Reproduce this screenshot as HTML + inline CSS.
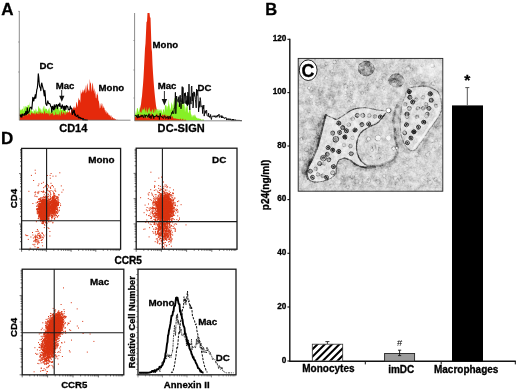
<!DOCTYPE html>
<html><head><meta charset="utf-8"><title>Figure</title>
<style>html,body{margin:0;padding:0;background:#fff}svg{display:block;filter:blur(0.4px)}</style></head>
<body>
<svg width="520" height="389" viewBox="0 0 520 389" font-family="'Liberation Sans', sans-serif" fill="#000">
<rect width="520" height="389" fill="#fff"/>
<text x="1.2" y="15" font-size="17" font-weight="bold" text-anchor="start" stroke="#000" stroke-width="0.3" >A</text>
<text x="265.2" y="15.4" font-size="16.5" font-weight="bold" text-anchor="start" stroke="#000" stroke-width="0.3" >B</text>
<text x="1" y="143.6" font-size="17" font-weight="bold" text-anchor="start" stroke="#000" stroke-width="0.3" >D</text>
<path d="M19.8 120L19.8 106.7L20.3 110.8L20.8 109.8L21.3 109.3L21.8 110.5L22.3 108.5L22.8 109L23.3 111.6L23.8 105.7L24.3 106.6L24.8 109L25.3 107.1L25.8 105.8L26.3 107L26.8 106.3L27.3 108.8L27.8 104.8L28.3 105.6L28.8 104.5L29.3 108.8L29.8 101.8L30.3 109.8L30.8 111.1L31.3 106.9L31.8 110.9L32.3 111.8L32.8 110.9L33.3 113.6L33.8 108.8L34.3 110.5L34.8 111L35.3 107.9L35.8 112L36.3 108.5L36.8 112.4L37.3 110.7L37.8 111.9L38.3 106.8L38.8 105.9L39.3 109.2L39.8 107.3L40.3 110.4L40.8 108L41.3 109.8L41.8 112.1L42.3 112.6L42.8 108.4L43.3 105.6L43.8 108.4L44.3 110.1L44.8 105.2L45.3 108.5L45.8 109.4L46.3 108.4L46.8 108.9L47.3 110L47.8 111.8L48.3 109.4L48.8 108.8L49.3 107.2L49.8 110.7L50.3 113.2L50.8 109.2L51.3 105.5L51.8 109.5L52.3 110.1L52.8 111.4L53.3 111.2L53.8 108.7L54.3 110.5L54.8 105.8L55.3 108.3L55.8 108.7L56.3 105.9L56.8 105.1L57.3 107.9L57.8 107.8L58.3 106.2L58.8 109.1L59.3 111.6L59.8 107.5L60.3 107.8L60.8 107.9L61.3 110.1L61.8 109.5L62.3 110.3L62.8 109.2L63.3 108.1L63.8 108.1L64.3 109.3L64.8 110.1L65.3 108.9L65.8 110.8L66.3 111.7L66.8 112.7L67.3 110.5L67.8 109.7L68.3 111.9L68.8 113.1L69.3 113.5L69.8 114.4L70.3 114.1L70.8 114.6L71.3 115.7L71.8 114.8L72.3 116.7L72.8 114.4L73.3 115.8L73.8 115.8L74.3 117.3L74.8 117.3L75.3 117.8L75.8 118.2L76.3 117.9L76.8 119.5L77.3 118.5L77.8 119.6L78.3 119.2L78.8 119.4L79.3 118.4L79.8 120L80.3 120L80.8 119.7L81.3 119.8L81.8 119.8L82.3 119.9L82.8 119.9L83.3 119.9L83.8 119.9L84.3 120L84.8 120L85.3 120L85.8 120L86.3 120L86.8 120L87.3 120L87.8 120L88.3 120L88.8 120L89.3 120L89.8 120L90.3 120L90.8 120L91.3 120L91.8 120L92.3 120L92.8 120L93.3 120L93.8 120L94.3 120L94.8 120L95.3 120L95.8 120L96.3 120L96.8 120L97.3 120L97.8 120L98.3 120L98.8 120L99.3 120L99.8 120L100.3 120L100.8 120L101.3 120L101.8 120L102.3 120L102.8 120L103.3 120L103.8 120L104.3 120L104.8 120L105.3 120L105.8 120L106.3 120L106.8 120L107.3 120L107.8 120L108.3 120L108.8 120L109.3 120L109.8 120L110.3 120L110.8 120L111.3 120L111.8 120L112.3 120L112.8 120L113.3 120L113.8 120L114.3 120L114.8 120L115.3 120L115.8 120L116.3 120L116.8 120L117.3 120L117.8 120L118.3 120L118.8 120L119.3 120L119.8 120L120.3 120L120.8 120L121.3 120L121.8 120L122.3 120L122.8 120L123.3 120L123.8 120L124.3 120L124.8 120L125.3 120L125.8 120L126.3 120L126.8 120L127.3 120L127.8 120L128.3 120L128.8 120L129.3 120L129.8 120L129.8 120Z" fill="#86f026" />
<path d="M19.8 120L19.8 112.6L20.3 115.3L20.8 114.7L21.3 114.2L21.8 113.3L22.3 114L22.8 113.9L23.3 117.2L23.8 114.1L24.3 114.4L24.8 113.7L25.3 114.4L25.8 115.4L26.3 112.8L26.8 112.3L27.3 116.2L27.8 113.4L28.3 113.5L28.8 114.1L29.3 113L29.8 114.4L30.3 114.7L30.8 114.7L31.3 112.2L31.8 112.7L32.3 113.3L32.8 113.6L33.3 114L33.8 113L34.3 112.5L34.8 114.7L35.3 113.1L35.8 115.1L36.3 112.2L36.8 113.1L37.3 114.2L37.8 113.2L38.3 114.4L38.8 111.8L39.3 111.5L39.8 114.7L40.3 111.5L40.8 113.3L41.3 114.1L41.8 112.8L42.3 113.3L42.8 112.7L43.3 113.5L43.8 114.5L44.3 111.6L44.8 110.7L45.3 113.3L45.8 114.1L46.3 112.9L46.8 113.1L47.3 113.6L47.8 113.6L48.3 114.4L48.8 112.2L49.3 116.6L49.8 112.8L50.3 113.1L50.8 115.1L51.3 113.2L51.8 113.8L52.3 113.2L52.8 113L53.3 114.2L53.8 115.7L54.3 114.7L54.8 115.2L55.3 114.5L55.8 111.3L56.3 114.2L56.8 114.9L57.3 114.2L57.8 114.5L58.3 113.7L58.8 115.9L59.3 111.3L59.8 114.9L60.3 115.9L60.8 113.6L61.3 111.8L61.8 110.7L62.3 114.2L62.8 114.1L63.3 111.7L63.8 112.6L64.3 113.1L64.8 114.8L65.3 115L65.8 111.6L66.3 114.2L66.8 111.4L67.3 112.7L67.8 112.3L68.3 112.8L68.8 111.9L69.3 111.4L69.8 109.7L70.3 113.4L70.8 112.6L71.3 108.4L71.8 109.9L72.3 109.5L72.8 108.7L73.3 108.2L73.8 106.2L74.3 108.7L74.8 106.1L75.3 108.4L75.8 106.9L76.3 102.5L76.8 102L77.3 107.5L77.8 104.2L78.3 100.1L78.8 97.6L79.3 100.6L79.8 99.4L80.3 102.9L80.8 89.2L81.3 94.3L81.8 92.6L82.3 92.2L82.8 89.6L83.3 90.4L83.8 92.9L84.3 88.2L84.8 90.9L85.3 84.8L85.8 93.5L86.3 91.4L86.8 85.9L87.3 83L87.8 87.2L88.3 91.6L88.8 89L89.3 91.5L89.8 78.7L90.3 83.7L90.8 82.3L91.3 87.6L91.8 92.2L92.3 84.3L92.8 82.5L93.3 88.2L93.8 91.6L94.3 87.9L94.8 94.1L95.3 90.5L95.8 97.8L96.3 98.5L96.8 93.8L97.3 95.6L97.8 92.1L98.3 100.2L98.8 100.9L99.3 103.8L99.8 108.5L100.3 107.7L100.8 102.9L101.3 106.8L101.8 103.1L102.3 104.1L102.8 108.7L103.3 105.4L103.8 108.2L104.3 107.5L104.8 110.5L105.3 109.9L105.8 112.8L106.3 110.6L106.8 113.9L107.3 113.3L107.8 112L108.3 113.8L108.8 115.2L109.3 114.4L109.8 115.8L110.3 117L110.8 115.3L111.3 115.5L111.8 118.9L112.3 117.2L112.8 117.1L113.3 118.5L113.8 118.6L114.3 117.9L114.8 119.4L115.3 119L115.8 119.5L116.3 120L116.8 119.7L117.3 119.8L117.8 119.9L118.3 119.9L118.8 119.9L119.3 119.9L119.8 120L120.3 120L120.8 120L121.3 120L121.8 120L122.3 120L122.8 120L123.3 120L123.8 120L124.3 120L124.8 120L125.3 120L125.8 120L126.3 120L126.8 120L127.3 120L127.8 120L128.3 120L128.8 120L129.3 120L129.8 120L129.8 120Z" fill="#e5290b" />
<path d="M19.8 115.6L20.3 114.9L20.8 116.9L21.3 115.1L21.8 117.1L22.3 114.1L22.8 115L23.3 115.2L23.8 115L24.3 113.6L24.8 115.2L25.3 113.7L25.8 111.3L26.3 114.4L26.8 113.5L27.3 107.9L27.8 113.4L28.3 112.2L28.8 112.2L29.3 111.1L29.8 107.8L30.3 108L30.8 107.2L31.3 107.4L31.8 109.2L32.3 103.9L32.8 97.4L33.3 99.4L33.8 101L34.3 97.3L34.8 98.4L35.3 94.7L35.8 98.1L36.3 93.9L36.8 89.6L37.3 88.2L37.8 82.7L38.3 73.8L38.8 77.6L39.3 84.6L39.8 87.2L40.3 87.2L40.8 90.6L41.3 84.5L41.8 83L42.3 85.6L42.8 87.5L43.3 89.5L43.8 92.4L44.3 95.9L44.8 90.4L45.3 94.8L45.8 103.9L46.3 104.4L46.8 105.5L47.3 102.8L47.8 100.9L48.3 102.8L48.8 103.7L49.3 103.5L49.8 103.8L50.3 104.8L50.8 106.6L51.3 106.8L51.8 112.3L52.3 106.5L52.8 106.4L53.3 109.2L53.8 110L54.3 104.9L54.8 108.9L55.3 107.1L55.8 105.8L56.3 104.5L56.8 105.5L57.3 108.6L57.8 105.8L58.3 104.4L58.8 104.5L59.3 106.3L59.8 103.1L60.3 106.1L60.8 106.5L61.3 108.5L61.8 106.1L62.3 104.8L62.8 107.2L63.3 109L63.8 106.3L64.3 110.5L64.8 106.1L65.3 107L65.8 109.6L66.3 105.8L66.8 105.6L67.3 107L67.8 106.6L68.3 109.7L68.8 109.7L69.3 110L69.8 108.7L70.3 106.1L70.8 108.8L71.3 108.1L71.8 108.4L72.3 114.5L72.8 112.4L73.3 113L73.8 110.3L74.3 110.5L74.8 115.1L75.3 114.1L75.8 115.5L76.3 116.4L76.8 116L77.3 115.9L77.8 115L78.3 117.6L78.8 117.9L79.3 117.2L79.8 117.9L80.3 117.5L80.8 118.6L81.3 118.3L81.8 118.4L82.3 118.6L82.8 119.9L83.3 118.6L83.8 120L84.3 119.7L84.8 119.8L85.3 119.8L85.8 119.8L86.3 120L86.8 120L87.3 120L87.8 120" fill="none" stroke="#000" stroke-width="1.15" stroke-linejoin="round" />
<path d="M19.3 11V120.2H130.5" fill="none" stroke="#666" stroke-width="0.75"/>
<path d="M18 11.3h1.6M18 42h1.3M18 72h1.3" stroke="#777" stroke-width="0.6"/>
<text x="39.6" y="69.2" font-size="9.6" font-weight="bold" text-anchor="start" stroke="#000" stroke-width="0.3" >DC</text>
<text x="55.8" y="89.4" font-size="9.6" font-weight="bold" text-anchor="start" stroke="#000" stroke-width="0.3" >Mac</text>
<text x="98.6" y="90.9" font-size="9.6" font-weight="bold" text-anchor="start" stroke="#000" stroke-width="0.3" >Mono</text>
<text x="59.2" y="131.8" font-size="11" font-weight="bold" text-anchor="start" stroke="#000" stroke-width="0.3" >CD14</text>
<path d="M61.7 90V97" stroke="#111" stroke-width="0.9"/><path d="M59.2 95.8h5.2l-2.6 6z" fill="#111"/>
<path d="M135 120.6L135 118.8L135.5 118.3L136 117.5L136.5 117.9L137 116.6L137.5 115.5L138 113.9L138.5 113.6L139 112.4L139.5 111.7L140 109.1L140.5 106.6L141 104.3L141.5 99.6L142 96.2L142.5 90L143 84.8L143.5 77.5L144 68.2L144.5 58.2L145 48.4L145.5 43.5L146 32.8L146.5 21.6L147 21.9L147.5 13L148 13L148.5 13L149 13L149.5 13L150 17.7L150.5 17.3L151 32.5L151.5 48.2L152 51.9L152.5 64.3L153 73.1L153.5 80L154 86.6L154.5 91.9L155 96.9L155.5 101.6L156 105.8L156.5 108.3L157 110.5L157.5 111.9L158 112.8L158.5 114.1L159 115.4L159.5 115.6L160 117L160.5 117.5L161 118.6L161.5 118.6L162 119.2L162.5 119.7L163 120.1L163.5 119.3L164 120.4L164.5 120.5L165 120.2L165.5 120.3L166 120.4L166.5 120.4L167 120.5L167.5 120.5L168 120.5L168.5 120.6L169 120.6L169.5 120.6L170 120.6L170.5 120.6L171 120.6L171.5 120.6L172 120.6L172.5 120.6L173 120.6L173.5 120.6L174 120.6L174.5 120.6L175 120.6L175.5 120.6L176 120.6L176.5 120.6L177 120.6L177.5 120.6L178 120.6L178.5 120.6L179 120.6L179.5 120.6L180 120.6L180.5 120.6L181 120.6L181.5 120.6L182 120.6L182.5 120.6L183 120.6L183.5 120.6L184 120.6L184.5 120.6L185 120.6L185.5 120.6L186 120.6L186.5 120.6L187 120.6L187.5 120.6L188 120.6L188.5 120.6L189 120.6L189.5 120.6L190 120.6L190.5 120.6L191 120.6L191.5 120.6L192 120.6L192.5 120.6L193 120.6L193.5 120.6L194 120.6L194.5 120.6L195 120.6L195.5 120.6L196 120.6L196.5 120.6L197 120.6L197.5 120.6L198 120.6L198.5 120.6L199 120.6L199.5 120.6L200 120.6L200.5 120.6L201 120.6L201.5 120.6L202 120.6L202.5 120.6L203 120.6L203.5 120.6L204 120.6L204.5 120.6L205 120.6L205.5 120.6L206 120.6L206.5 120.6L207 120.6L207.5 120.6L208 120.6L208.5 120.6L209 120.6L209.5 120.6L210 120.6L210.5 120.6L211 120.6L211.5 120.6L212 120.6L212.5 120.6L213 120.6L213.5 120.6L214 120.6L214.5 120.6L215 120.6L215.5 120.6L216 120.6L216.5 120.6L217 120.6L217.5 120.6L218 120.6L218.5 120.6L219 120.6L219.5 120.6L220 120.6L220.5 120.6L221 120.6L221.5 120.6L222 120.6L222.5 120.6L223 120.6L223.5 120.6L224 120.6L224.5 120.6L225 120.6L225.5 120.6L226 120.6L226.5 120.6L227 120.6L227.5 120.6L228 120.6L228.5 120.6L229 120.6L229.5 120.6L230 120.6L230.5 120.6L231 120.6L231.5 120.6L232 120.6L232.5 120.6L233 120.6L233.5 120.6L234 120.6L234.5 120.6L235 120.6L235.5 120.6L236 120.6L236.5 120.6L237 120.6L237.5 120.6L238 120.6L238.5 120.6L239 120.6L239.5 120.6L240 120.6L240.5 120.6L241 120.6L241.5 120.6L241.5 120.6Z" fill="#e5290b" />
<path d="M135 120.6L135 110.4L135.5 113.4L136 114.8L136.5 112.3L137 108.1L137.5 108.1L138 108.9L138.5 112.7L139 110.6L139.5 106.5L140 112.2L140.5 111.2L141 112.9L141.5 112.6L142 107.2L142.5 111L143 109.1L143.5 109.4L144 109.7L144.5 106.8L145 110.3L145.5 110.6L146 113.2L146.5 106.4L147 111.1L147.5 113.5L148 109.6L148.5 109.6L149 107.8L149.5 107.2L150 113.1L150.5 110.6L151 111L151.5 112.4L152 109.6L152.5 109.6L153 109.7L153.5 112.9L154 112.5L154.5 106.9L155 113.2L155.5 109.1L156 109.3L156.5 110.2L157 109.3L157.5 109L158 111.7L158.5 110L159 108.5L159.5 110.5L160 110.6L160.5 109.1L161 111.9L161.5 108.7L162 111.6L162.5 114L163 108.8L163.5 110.1L164 109.2L164.5 112.8L165 105.4L165.5 105.3L166 105.2L166.5 105.7L167 110.4L167.5 106.1L168 106.8L168.5 98.8L169 106.9L169.5 103.3L170 110.6L170.5 108.7L171 106.9L171.5 102L172 103.7L172.5 105.3L173 110.8L173.5 100.1L174 105.5L174.5 98L175 98.3L175.5 101.1L176 101L176.5 108L177 95.2L177.5 103.8L178 99.5L178.5 106.1L179 103.6L179.5 107.2L180 102.8L180.5 104L181 103.6L181.5 99.1L182 104.1L182.5 103.4L183 105.3L183.5 99.6L184 107.2L184.5 101.2L185 112.4L185.5 108.4L186 105.7L186.5 108.9L187 99.8L187.5 102.9L188 113.6L188.5 112.5L189 110.9L189.5 106.7L190 109.5L190.5 110L191 114.4L191.5 114.5L192 117.8L192.5 115.7L193 115L193.5 115.2L194 117.1L194.5 115L195 114.3L195.5 116.2L196 117.1L196.5 118.2L197 117.3L197.5 119L198 117.8L198.5 118.6L199 118.7L199.5 118.8L200 118.5L200.5 119L201 119.1L201.5 119.8L202 120.6L202.5 119.6L203 119.1L203.5 119.6L204 120.2L204.5 120.4L205 120.5L205.5 120.5L206 120.5L206.5 120.5L207 120.6L207.5 120.6L208 120.6L208.5 120.6L209 120.6L209.5 120.6L210 120.6L210.5 120.6L211 120.6L211.5 120.6L212 120.6L212.5 120.6L213 120.6L213.5 120.6L214 120.6L214.5 120.6L215 120.6L215.5 120.6L216 120.6L216.5 120.6L217 120.6L217.5 120.6L218 120.6L218.5 120.6L219 120.6L219.5 120.6L220 120.6L220.5 120.6L221 120.6L221.5 120.6L222 120.6L222.5 120.6L223 120.6L223.5 120.6L224 120.6L224.5 120.6L225 120.6L225.5 120.6L226 120.6L226.5 120.6L227 120.6L227.5 120.6L228 120.6L228.5 120.6L229 120.6L229.5 120.6L230 120.6L230.5 120.6L231 120.6L231.5 120.6L232 120.6L232.5 120.6L233 120.6L233.5 120.6L234 120.6L234.5 120.6L235 120.6L235.5 120.6L236 120.6L236.5 120.6L237 120.6L237.5 120.6L238 120.6L238.5 120.6L239 120.6L239.5 120.6L240 120.6L240.5 120.6L241 120.6L241.5 120.6L241.5 120.6Z" fill="#86f026" />
<path d="M135 120.6L135 117L135.5 117L136 116.7L136.5 115.6L137 116.6L137.5 118.5L138 117.6L138.5 115.8L139 116.7L139.5 116.4L140 114.3L140.5 114.6L141 116.2L141.5 115.4L142 114.4L142.5 114.6L143 115.3L143.5 117.5L144 117.9L144.5 116.4L145 115.5L145.5 117.8L146 117.5L146.5 116.5L147 119.2L147.5 117.3L148 115L148.5 114.6L149 114.6L149.5 114.8L150 113.9L150.5 114.5L151 116.1L151.5 112.3L152 114.4L152.5 114.9L153 116.9L153.5 115.6L154 117.8L154.5 117.1L155 118.1L155.5 115.8L156 114.3L156.5 115L157 112.6L157.5 115.6L158 115.3L158.5 115.9L159 114.9L159.5 116L160 114.7L160.5 113.6L161 115.6L161.5 116.6L162 114.8L162.5 114.5L163 114.9L163.5 115.5L164 114.9L164.5 113.8L165 118.9L165.5 114.1L166 116.1L166.5 115.2L167 117.4L167.5 116.1L168 114.8L168.5 117L169 115.8L169.5 117L170 114.9L170.5 116.2L171 116.8L171.5 117.5L172 115.9L172.5 116.2L173 117.5L173.5 118.3L174 118.8L174.5 117.7L175 119.7L175.5 118.3L176 117.9L176.5 119.5L177 118.6L177.5 119L178 119.5L178.5 119L179 119L179.5 119.5L180 119.5L180.5 118.3L181 119.3L181.5 120.2L182 119.5L182.5 119.2L183 118.2L183.5 120.6L184 119.8L184.5 119.8L185 120.3L185.5 119.3L186 119.9L186.5 120.4L187 120.4L187.5 120.4L188 120.4L188.5 120.5L189 120.5L189.5 120.5L190 120.6L190.5 120.5L191 120.5L191.5 120.5L192 120.6L192.5 120.6L193 120.6L193.5 120.6L194 120.6L194.5 120.6L195 120.6L195.5 120.6L196 120.6L196.5 120.6L197 120.6L197.5 120.6L198 120.6L198.5 120.6L199 120.6L199.5 120.6L200 120.6L200.5 120.6L201 120.6L201.5 120.6L202 120.6L202.5 120.6L203 120.6L203.5 120.6L204 120.6L204.5 120.6L205 120.6L205.5 120.6L206 120.6L206.5 120.6L207 120.6L207.5 120.6L208 120.6L208.5 120.6L209 120.6L209.5 120.6L210 120.6L210.5 120.6L211 120.6L211.5 120.6L212 120.6L212.5 120.6L213 120.6L213.5 120.6L214 120.6L214.5 120.6L215 120.6L215.5 120.6L216 120.6L216.5 120.6L217 120.6L217.5 120.6L218 120.6L218.5 120.6L219 120.6L219.5 120.6L220 120.6L220.5 120.6L221 120.6L221.5 120.6L222 120.6L222.5 120.6L223 120.6L223.5 120.6L224 120.6L224.5 120.6L225 120.6L225.5 120.6L226 120.6L226.5 120.6L227 120.6L227.5 120.6L228 120.6L228.5 120.6L229 120.6L229.5 120.6L230 120.6L230.5 120.6L231 120.6L231.5 120.6L232 120.6L232.5 120.6L233 120.6L233.5 120.6L234 120.6L234.5 120.6L235 120.6L235.5 120.6L236 120.6L236.5 120.6L237 120.6L237.5 120.6L238 120.6L238.5 120.6L239 120.6L239.5 120.6L240 120.6L240.5 120.6L241 120.6L241.5 120.6L241.5 120.6Z" fill="#e5290b" />
<path d="M135 115.6L135.4 116.1L135.8 115L136.2 115.6L136.6 117.1L137 115.5L137.4 118.2L137.8 116.4L138.2 114.3L138.6 117.6L139 116.5L139.4 117.4L139.8 116.3L140.2 117.2L140.6 116.3L141 115.4L141.4 115.2L141.8 117.1L142.2 116.5L142.6 115.2L143 115.9L143.4 117.7L143.8 117.9L144.2 114.6L144.6 114.8L145 115.7L145.4 117.4L145.8 114.9L146.2 115.8L146.6 114.8L147 116.4L147.4 116.1L147.8 117.3L148.2 115.5L148.6 116.2L149 113.7L149.4 117.8L149.8 117.2L150.2 116.2L150.6 115.8L151 118.6L151.4 116.1L151.8 115.5L152.2 116.4L152.6 114.4L153 115.7L153.4 115.6L153.8 118.6L154.2 116.2L154.6 117.1L155 116.1L155.4 116.6L155.8 115.9L156.2 115.9L156.6 114.9L157 116.8L157.4 116.5L157.8 117.2L158.2 115.9L158.6 117L159 116.2L159.4 119.5L159.8 116.4L160.2 113.3L160.6 116.3L161 116.6L161.4 116.6L161.8 116L162.2 117.5L162.6 117L163 118.1L163.4 118.5L163.8 117.7L164.2 115.9L164.6 115.9L165 115.9L165.4 117.9L165.8 118.7L166.2 118.4L166.6 117.5L167 118L167.4 116.5L167.8 117.2L168.2 119.2L168.6 118.4L169 116.1L169.4 116.8L169.8 117.3L170.2 118.8L170.6 117L171 114.8L171.4 114.5L171.8 112.4L172.2 113.6L172.6 110.8L173 113L173.4 113.3L173.8 113.7L174.2 108L174.6 108.2L175 104L175.4 92.3L175.8 113.7L176.2 106.9L176.6 96L177 98.7L177.4 99.4L177.8 101.1L178.2 102.3L178.6 98L179 96.6L179.4 106.8L179.8 99.6L180.2 95.2L180.6 102.2L181 108.8L181.4 102.8L181.8 97.4L182.2 86.6L182.6 103.8L183 87.4L183.4 103.5L183.8 102.9L184.2 103.2L184.6 93.2L185 96L185.4 92.7L185.8 103.6L186.2 100.6L186.6 104.4L187 95.8L187.4 105.8L187.8 92.1L188.2 94L188.6 104.5L189 84.1L189.4 105.9L189.8 109.9L190.2 96.6L190.6 100.5L191 104.1L191.4 87.1L191.8 86L192.2 101L192.6 93.1L193 108L193.4 105L193.8 91.8L194.2 96.4L194.6 92.4L195 95.5L195.4 99.5L195.8 103.1L196.2 107.9L196.6 89.1L197 95.6L197.4 89.9L197.8 91.2L198.2 101L198.6 111.9L199 106.3L199.4 101.4L199.8 107.3L200.2 97.6L200.6 100.3L201 106.2L201.4 106.8L201.8 106.7L202.2 105.5L202.6 113.5L203 106.4L203.4 108.8L203.8 105L204.2 116.1L204.6 112.4L205 110.6L205.4 111.1L205.8 113.4L206.2 110.8L206.6 110.1L207 115.4L207.4 115.9L207.8 115.9L208.2 116.4L208.6 113.2L209 116.9L209.4 116.1L209.8 117.5L210.2 116.9L210.6 114.5L211 118L211.4 119.5L211.8 117.3L212.2 116L212.6 116.2L213 116.4L213.4 116.4L213.8 115.7L214.2 117.1L214.6 116.1L215 115.6L215.4 117L215.8 117.5L216.2 116L216.6 115.9L217 117.2L217.4 115.2L217.8 116.2L218.2 115.7L218.6 116.1L219 114.1L219.4 117.5L219.8 116.4L220.2 116.1L220.6 116L221 116L221.4 117.9L221.8 115.5L222.2 118L222.6 116.7L223 116.6L223.4 117.9L223.8 117.4L224.2 118.6L224.6 118.4L225 117.7L225.4 118.2L225.8 117.4L226.2 117.8L226.6 120.1L227 118.9L227.4 119.4L227.8 118.6L228.2 120L228.6 119.8L229 118.5L229.4 119.8L229.8 119.6L230.2 120.2L230.6 118.9L231 118.9L231.4 120.2L231.8 120.6L232.2 120.6L232.6 119L233 120.2L233.4 119.1L233.8 120.6L234.2 120.6L234.6 119.9L235 119.4L235.4 120.3L235.8 120.6L236.2 120L236.6 120.3L237 120L237.4 120.3L237.8 120.4L238.2 120.4L238.6 120.4L239 120.5L239.4 120.4L239.8 120.5L240.2 120.5L240.6 120.6L241 120.5L241.4 120.6L241.8 120.6" fill="none" stroke="#000" stroke-width="0.9" stroke-linejoin="round" />
<path d="M134.6 13V120.8H242" fill="none" stroke="#666" stroke-width="0.75"/>
<path d="M133.3 40.5h1.3M133.3 70h1.3M133.3 98h1.3" stroke="#777" stroke-width="0.6"/>
<text x="152.6" y="48.3" font-size="9.6" font-weight="bold" text-anchor="start" stroke="#000" stroke-width="0.3" >Mono</text>
<text x="157.8" y="89.1" font-size="9.6" font-weight="bold" text-anchor="start" stroke="#000" stroke-width="0.3" >Mac</text>
<text x="197.5" y="90.9" font-size="9.6" font-weight="bold" text-anchor="start" stroke="#000" stroke-width="0.3" >DC</text>
<text x="157.6" y="131.5" font-size="11" font-weight="bold" text-anchor="start" stroke="#000" stroke-width="0.3" textLength="47.2">DC-SIGN</text>
<path d="M164.4 91V101" stroke="#111" stroke-width="0.9"/><path d="M161.7 99h5.4l-2.7 6.5z" fill="#111"/>
<path d="M47.7 206.7h1M42.1 205.7h1M42.3 207.2h1M40.9 205.7h1M45.8 209.9h1M37.8 209.5h1M48 212.7h1M41.7 204.4h1M44.4 206.9h1M43 211.7h1M47.3 213.3h1M38.4 199.1h1M42.8 207.2h1M42.6 208.8h1M46.4 200.4h1M40.9 212.1h1M43.2 215.7h1M41.4 200.9h1M43.7 202.6h1M45.1 214.5h1M40.8 215.3h1M46.5 204h1M45.9 205.4h1M44.9 213.1h1M45.9 208.9h1M41.9 207.5h1M43.3 217.5h1M41.3 211.4h1M42.9 201.4h1M44.9 211.2h1M41.9 203.4h1M42.6 213.5h1M41.9 214.6h1M41.5 212.1h1M41.9 214.4h1M43.6 219.2h1M40.8 213.4h1M44.2 208.3h1M47.7 204.9h1M45.5 211.1h1M43.1 205.1h1M41.4 203.2h1M41.7 207.8h1M47.8 201.6h1M43.7 203.9h1M42 212.4h1M44.1 207.8h1M48.9 208.6h1M43.9 209.9h1M45.1 200.8h1M44.4 210.9h1M42.7 210h1M40.7 209.8h1M42.7 211.6h1M43.1 199.8h1M45.1 219h1M45.7 208.6h1M45.9 203.3h1M44.3 210.5h1M45.8 204h1M41.7 210.3h1M46.7 212.5h1M44.9 203.8h1M42.9 214h1M44.8 210.6h1M43.4 211.6h1M46.4 211.9h1M47.4 212.4h1M49.1 215.3h1M40.1 214h1M40 212.3h1M42.3 206.4h1M44 211.3h1M45.8 207.4h1M44.4 203.2h1M38.5 209.8h1M42.8 205.7h1M45.7 215.3h1M44.2 209.8h1M45.5 210.2h1M43 213.6h1M43.1 208h1M44.1 208.8h1M44.6 215.5h1M44.1 203.5h1M43.9 205.9h1M41.9 209.4h1M44.5 213.7h1M43.9 211.2h1M46.4 204.6h1M46.6 205.7h1M44.1 218h1M42.7 211.5h1M42 207.1h1M44.7 207.7h1M43.8 227.6h1M42.7 216.3h1M43.7 202.3h1M42 207.8h1M45.3 213.4h1M42.5 208.7h1M46.7 215.4h1M44.6 218.3h1M45.1 210h1M40.9 211.4h1M44 209.2h1M45.5 214.1h1M41.2 217h1M42.9 214.4h1M43.7 204.9h1M40.2 213.5h1M44.4 207.3h1M45.7 218.2h1M41.5 212.2h1M44.5 215h1M40.3 209.9h1M43.5 209.8h1M39.6 212h1M46.4 209.9h1M44.6 217.4h1M43.5 204.6h1M41.7 213.2h1M46.8 207.2h1M48.5 214h1M39 201.6h1M46.7 216h1M47.7 208.5h1M44.4 204.2h1M40.6 213.4h1M45.8 209.1h1M43.1 211.3h1M42.1 215.8h1M40.5 204.9h1M45 206.5h1M45.6 210.4h1M42 212.7h1M44.9 206.7h1M40.7 206.3h1M45.6 213.6h1M43.7 214.6h1M43.1 216.6h1M43.3 208.6h1M45.8 197.9h1M45.5 212.5h1M44.9 213.6h1M43.9 203.1h1M43.8 210.4h1M45.1 211.3h1M44.2 211.6h1M45.3 207.8h1M42.8 210.4h1M37.5 212.8h1M46.2 201.7h1M49.1 214.3h1M44.7 208.3h1M43.3 213.6h1M43.3 206.7h1M43.3 202h1M43.6 215.6h1M40.8 217.7h1M42.3 201.3h1M41.1 203.9h1M44.2 210.4h1M42.9 205.1h1M44.8 213.6h1M43.2 206.3h1M46.1 207.6h1M44.1 211h1M49.1 199.8h1M38.9 208.5h1M42 219.5h1M45.9 212.8h1M49.9 205.3h1M43 214.9h1M43.7 219.7h1M43 216h1M46.9 207.3h1M42.9 206.9h1M45.3 208.3h1M42.8 205.1h1M40.4 210.1h1M44.4 205.3h1M44.9 205.9h1M46.8 211.5h1M43.3 207.4h1M42.1 209h1M45 220.1h1M44.2 211.7h1M44.3 215.6h1M43.4 212.1h1M46.5 212.8h1M44.5 203.7h1M48.4 207.4h1M46.4 208.8h1M45.2 207.9h1M39.5 209h1M45.1 210.8h1M44.7 209h1M45.6 213.2h1M46.2 208.8h1M42.6 215.1h1M45.7 209.9h1M42.2 207.2h1M48.5 204.1h1M40.3 206.4h1M39.2 208.8h1M39.5 215.6h1M41.4 204h1M40.8 214.9h1M48.5 209.6h1M42.8 206.1h1M40.2 203.8h1M46.4 212.6h1M42.1 201h1M40.5 207.8h1M45.8 207.9h1M45.2 209.2h1M42.5 212.7h1M47.1 207.1h1M43.9 210.6h1M47.6 204.3h1M44.9 210.3h1M47.5 212.9h1M43.9 208.3h1M40.6 211.7h1M49.7 210.5h1M42.2 208.4h1M43.1 209.7h1M41.8 209.1h1M43.1 200.7h1M44.2 203h1M44.1 212h1M45.3 200.2h1M48.1 215.4h1M43.3 203.4h1M40.5 210.1h1M40.6 212.2h1M41.9 207h1M39.4 215.5h1M45.7 203.6h1M42.4 214.3h1M42.8 210.7h1M43.6 209.3h1M40.1 214.8h1M41.4 212.5h1M45.3 204.3h1M45.1 216.6h1M42.5 214.7h1M48.1 210.5h1M40.3 210.7h1M42.7 216.3h1M43 217.8h1M36.6 212.9h1M48.4 204.5h1M44.5 210.6h1M41 213.9h1M48.7 206.1h1M45.1 204.3h1M44.7 210h1M42.1 210.5h1M43.9 211.8h1M39.8 215.8h1M45.6 199.7h1M42.7 210.5h1M43.9 209h1M46.6 210.1h1M44.3 210.8h1M44.3 214.8h1M44.3 212.6h1M41.8 209.8h1M45.7 210.4h1M47.5 210.5h1M45.5 209.4h1M45.8 216.2h1M41.4 201h1M41.4 203.4h1M40 217.5h1M46.7 212.7h1M43 213h1M47.1 215.4h1M41.6 200.5h1M42.5 216.8h1M43.8 204.5h1M45.9 205.4h1M43.8 214.9h1M44.1 204.6h1M43.6 212.5h1M44 216.7h1M40.8 206.9h1M43.8 207.2h1M43.1 213.2h1M43.5 214.2h1M44.8 211.6h1M41.9 202.6h1M43.4 217.6h1M42.9 212.9h1M44.6 198.9h1M45.6 205.8h1M41.2 205h1M45.1 206.3h1M48.8 211.2h1M39.9 206.6h1M41.5 215.8h1M41.4 215.2h1M42.9 210.3h1M47.7 205h1M43.6 210h1M41.9 211.9h1M45.2 215.5h1M42.1 207.8h1M46.4 210.4h1M44.4 205.3h1M47.1 207.8h1M41.9 215.5h1M51.2 217.5h1M45.7 208.4h1M45.2 208.8h1M43.5 206.4h1M41.8 202.8h1M41.4 211.8h1M43.3 212.2h1M41.6 212.8h1M44.3 210.1h1M41.5 212.5h1M45.2 210.8h1M46 215.8h1M41.8 211.8h1M46.6 216.8h1M43 215h1M46.5 211.7h1M44.7 204.2h1M46.4 212.4h1M41.1 211.5h1M43.3 219h1M47.2 213.5h1M42.1 204.7h1M38.5 206.3h1M38.7 214.5h1M37.3 209.1h1M38.3 204.3h1M42.6 212.3h1M46.8 212.3h1M42.5 209.4h1M44.4 214h1M43.3 209.5h1M43.6 218.8h1M43.2 204.8h1M43.2 214.3h1M44.8 214.7h1M40.7 216h1M46.1 209.4h1M45.9 208.1h1M43.1 218.2h1M45.6 212.6h1M41.8 207.2h1M42.3 213.9h1M44 217.5h1M43.1 213.1h1M42.5 206.6h1M41.9 214.6h1M42.2 202.8h1M45.9 213.7h1M38.7 214.6h1M44.5 209h1M43 211.3h1M45.4 210.7h1M44.9 207.5h1M36.6 206h1M45.1 208.7h1M44.4 207.1h1M43.7 217.1h1M42.4 203.6h1M45.7 218.5h1M42.6 208.9h1M48.2 206.4h1M45 207.4h1M48.9 205.1h1M41.6 200.4h1M39.2 213.8h1M45.4 209.3h1M45.7 206.1h1M43.7 203.9h1M39.8 207.4h1M42.5 204.1h1M45.1 216.1h1M43.1 201.1h1M43.3 205.5h1M43.2 205.8h1M41.3 212.2h1M42.3 211.2h1M40 209.3h1M48 209.2h1M42.4 211.9h1M44.8 206.3h1M41 212.3h1M45.6 203.8h1M38.9 212.5h1M45.9 207.6h1M43.5 215.3h1M48.9 204.3h1M40.3 207.9h1M43.8 206.1h1M44.5 214.4h1M46.7 203.4h1M42.5 214.2h1M43.8 212.2h1M38.2 212.7h1M41.5 206.8h1M44.7 212.2h1M46.4 218.2h1M42.9 206.8h1M48.7 211.2h1M48 208.8h1M43.4 204.8h1M37.6 206.1h1M39.2 212.5h1M41.7 209.8h1M46.4 198.5h1M44.4 212.5h1M38.4 208.5h1M43 214.3h1M47.6 207h1M42.7 220.8h1M41.7 205.5h1M48.7 213.6h1M43.7 204.9h1M42.4 210.9h1M44.5 204.6h1M43.6 215.9h1M42.5 209.9h1M46.6 217h1M46.4 209.5h1M45.7 202.4h1M43.3 206h1M46.5 208.2h1M43.5 216.5h1M44.8 222.8h1M46.2 209.5h1M45.6 211.5h1M48.1 215.9h1M44.7 204.6h1M39.4 208.5h1M40.7 213.1h1M47 211.7h1M42.8 209.6h1M44.6 205.4h1M41.5 210.5h1M46.1 213.4h1M42.6 206.6h1M47.2 210.4h1M42.3 219.8h1M46.4 212.2h1M45.3 212.8h1M41.8 205.1h1M46.3 207.4h1M41.3 208.5h1M41.5 206.1h1M45.4 204.3h1M42 202.6h1M42.1 209h1M42.7 213.9h1M41.1 212.9h1M46.2 213.2h1M45.1 214.3h1M43.4 206h1M43.3 206.8h1M44.7 208.9h1M48 205.8h1M45.8 211.2h1M42.3 206.9h1M45.5 215.2h1M43.3 205.9h1M43.1 212.6h1M48.3 217.9h1M42.6 204.3h1M42.4 207.4h1M38.7 206.4h1M40.1 205h1M44.7 211.2h1M41.9 212.4h1M44.9 206.6h1M40.8 207.6h1M41.7 211.1h1M45.3 211.5h1M47.3 204.8h1M45.1 220.8h1M46.6 208.9h1M47.9 210.4h1M46.2 207h1M41.3 208.8h1M43.3 205.7h1M45.2 217.7h1M42.6 201.3h1M44.7 209.1h1M39.7 213.1h1M41.5 202.5h1M44.9 212.2h1M38 216.2h1M40.8 211.4h1M43.6 210h1M39.3 209.8h1M43.7 208.7h1M41.6 212.7h1M42.9 205.9h1M43 211.5h1M44.1 208.4h1M42.2 207.3h1M43.8 204.6h1M42.1 213.2h1M45 207.2h1M47.8 215.1h1M44.1 209.9h1M44 210h1M40.7 204.8h1M45.3 205.3h1M41.7 212.6h1M41.6 209.5h1M45 210.3h1M44.1 213.1h1M46.4 212.5h1M47.2 208.3h1M42.3 223.6h1M43.9 224.7h1M48 212.1h1M46 203.2h1M45.4 205.8h1M46.9 212.7h1M42.1 207.3h1M45.2 209.6h1M47.1 200.6h1M47.7 212.1h1M41.6 215.7h1M43 204.3h1M44.6 208.4h1M42.9 208.3h1M42.6 198.3h1M45.3 207.8h1M42.7 207.3h1M39.1 203.5h1M44.5 205.9h1M42.5 211.2h1M41.8 211.6h1M39.7 211.5h1M46.1 207.3h1M38 206.1h1M39.4 210.7h1M42.9 208.2h1M46.7 214.9h1M46.9 215.5h1M40.7 207.8h1M43.2 202.3h1M39.8 210.9h1M46.1 206.9h1M39.9 213.9h1M43.2 213.3h1M46.2 205.1h1M43 214.9h1M47.3 216.5h1M41.4 211.8h1M44.5 212.9h1M45.7 207.6h1M43.3 206h1M47.1 215.9h1M45 211.1h1M39.5 209.6h1M53.5 209.7h1M45.2 213.5h1M43.9 209h1M40.1 207.7h1M43.8 208.6h1M42.5 209.2h1M45.2 207.7h1M44.5 210.4h1M48.2 207.7h1M44 207.9h1M44.9 219.3h1M44.5 210h1M43.2 218h1M43.1 205.3h1M46.4 213.5h1M45.6 210.1h1M42 217.9h1M40.8 207.8h1M43.4 218.4h1M46.5 207.2h1M43.5 210h1M48 204.6h1M41.7 209.8h1M44 209h1M37.3 204.8h1M42.1 201.3h1M42.8 214.2h1M44.9 212.3h1M47.9 206.7h1M43.7 209.5h1M47.2 206.6h1M45.3 209.4h1M46.1 211.2h1M42.4 211.7h1M47.1 207.6h1M40.9 209h1M44.8 212.4h1M41.2 206.9h1M42.3 207.4h1M39.9 210.4h1M42.3 212.3h1M44.5 208h1M43.4 213.7h1M40.2 209.7h1M47.3 206.8h1M44.4 210.4h1M46.1 203.2h1M45.6 201.4h1M41.9 211.6h1M38.7 201.7h1M41.3 206.2h1M46.7 214.7h1M41 211.6h1M45.6 206h1M42.1 209.9h1M44.6 203.3h1M39 204.6h1M46.5 209.2h1M43.5 212.8h1M45.8 209.8h1M44.1 209.6h1M45.6 206.9h1M43.3 210.4h1M45.5 213.7h1M39.8 215.2h1M40.9 211.6h1M45.4 210.6h1M43.5 211.7h1M43 212.5h1M43.2 207.7h1M44.9 208.3h1M42.1 206.9h1M44.9 207h1M41.3 218.9h1M42.6 213.7h1M46.1 206.8h1M46.3 210.2h1M40.9 211.4h1M45.7 209.6h1M41 205.5h1M45.4 216.8h1M38.9 204.4h1M40.8 214.1h1M42.3 210.3h1M43.2 206.2h1M47.2 209.2h1M45.9 201.3h1M47.5 211.3h1M46.6 213.4h1M42.9 207.5h1M42.9 211.4h1M46.3 198.3h1M43.7 207.5h1M43.2 203.7h1M40.3 214.3h1M43.3 210.9h1M36.6 209.8h1M42.5 209.1h1M41.2 208.9h1M45.3 213.7h1M42.4 205.1h1M42.8 214.4h1M47 213.3h1M41 214.8h1M44.4 208.4h1M38.9 215.1h1M43.8 214.7h1M44.6 212.1h1M45.7 215.3h1M41.4 207.9h1M44.4 209.7h1M44.4 216.3h1M43.6 219.5h1M44 202.3h1M44.8 214.4h1M44.6 204.1h1M41.1 211h1M40.6 207.2h1M49.9 211h1M48.4 208.6h1M40.1 211.9h1M44.7 213.1h1M45.2 208.4h1M45.5 213.1h1M44 208.6h1M41.3 213.2h1M43.1 215.5h1M42.4 210.8h1M43.9 211.1h1M42.9 201.5h1M43.3 206.4h1M46.1 207.1h1M46.7 209.3h1M40.6 203.4h1M42.5 203.9h1M41.6 209.6h1M46.7 211h1M43.5 214.6h1M47.2 216.7h1M42.4 212.5h1M43.7 208.3h1M40.2 213.3h1M46.9 206.2h1M42.7 211h1M39.9 218.4h1M42.1 216.9h1M37.8 208.6h1M43.5 214.6h1M43.9 208.2h1M44.3 207.1h1M47.3 202.4h1M42.8 212.5h1M45.6 211.4h1M44.4 214.6h1M43.1 213.8h1M38.4 208.6h1M46 214.1h1M42.3 218.8h1M43.6 220.8h1M40.4 213.6h1M44.3 211.4h1M43.9 211.8h1M43.7 210.4h1M43.3 207.3h1M46.2 217.4h1M46 213.6h1M45.4 210.7h1M51.9 217h1M42.1 213.9h1M42.7 204.1h1M41.1 215.8h1M44.7 208.1h1M41.9 203.8h1M36.9 211.4h1M40.6 208.5h1M43.8 206.5h1M46.1 217.4h1M39.7 210.3h1M42.1 209.8h1M43.3 208.8h1M41.8 208.2h1M44.9 210.9h1M43.6 208.5h1M44.4 225.2h1M41.8 205h1M47.4 210.6h1M43.6 207.8h1M46.8 206.7h1M42.5 206.9h1M45.1 210.1h1M41.9 214.4h1M41.2 215.6h1M41.8 213.3h1M43.5 208h1M43.1 219h1M47.4 218.4h1M40.7 218.3h1M40.9 207.8h1M47.9 212.9h1M45.1 213.3h1M38.9 212.7h1M44.8 212.7h1M44.2 212.6h1M38.2 208.6h1M42.7 215.7h1M43.6 216.5h1M45.4 213h1M46 210.3h1M43.8 211.9h1M46.2 215.9h1M43.2 209.4h1M41.5 213.3h1M41.3 206.5h1M45 211.8h1M38.7 204h1M45.3 204.7h1M40.8 219.8h1M42.7 210.6h1M44.9 215.2h1M46.6 197.4h1M38.7 208.9h1M41.6 209.2h1M43.7 207.4h1M42.1 210.7h1M45.8 205.9h1M38.4 215.9h1M44.5 213.1h1M44.7 204.6h1M43.7 212.3h1M46.4 211.5h1M40.5 217.6h1M46.4 215h1M41.8 204.7h1M45.4 206.3h1M42.8 214.7h1M45.6 203.8h1M45.6 212.8h1M39.9 206.8h1M43.2 212.4h1M43.4 212.5h1M43 211.8h1M41.7 206.5h1M48.2 210.2h1M44.1 215.7h1M47.5 209.1h1M42.2 212.1h1M40.9 217.7h1M43.9 219h1M42.2 217.3h1M49.6 210.7h1M44.2 210.5h1M46.5 209.2h1M43 207.6h1M42.8 209.2h1M43.5 203.4h1M44.5 212.7h1M45.7 208.7h1M43.3 215.3h1M41.9 214.9h1M40.9 216.5h1M43.4 206.3h1M45 208.9h1M44.7 206.6h1M43.6 202.7h1M42.1 206.9h1M44 206.3h1M45 215.3h1M43.5 197.1h1M43.9 212.4h1M43.2 208.8h1M45.9 207.8h1M42.5 208.6h1M44.1 212.2h1M44.6 209.5h1M45.4 221.2h1M47.3 210.9h1M45.3 207.8h1M45.1 207.5h1M39.9 209h1M45.1 217.5h1M49.3 212.6h1M41.5 216.5h1M41.1 204.1h1M43.1 207.7h1M46.2 210.3h1M44.9 209.1h1M42.4 213.3h1M43.5 214.9h1M46.2 208.3h1M45.3 196.5h1M49.7 205.7h1M46.1 204.4h1M44.5 212.7h1M45.1 219.6h1M42.7 211.6h1M41.2 218.6h1M44 211.6h1M44.8 215.3h1M40.1 211.5h1M42.3 213.6h1M42.7 205.6h1M44.3 208.5h1M42.9 217.1h1M44.7 214.4h1M43.8 203.6h1M46.3 215.1h1M39.3 215.8h1M47.7 208.7h1M47.1 211.6h1M43.7 207.3h1M45.2 211.4h1M45.1 210.7h1M41.8 208.2h1M44 209.8h1M45.5 207.5h1M44.4 213.2h1M46.2 207h1M43.8 211.7h1M43.8 211.3h1M41.7 206.3h1M42.7 208.1h1M42.5 211.5h1M47.9 216.5h1M44.2 207h1M41.1 209.4h1M44.6 209.1h1M43.1 201.8h1M36 209.3h1M44.8 213.5h1M39.7 213.7h1M45 207.7h1M41.2 212.5h1M40 208.8h1M44.8 211.7h1M39.9 214.4h1M42.5 206.9h1M44.1 212.3h1M45.1 202.3h1M45.5 214.6h1M43.5 202.7h1M41.5 209.7h1M48.4 209.1h1M42.1 214h1M48.1 218.4h1M42.5 209.1h1M46.5 210h1M46.3 205h1M41 212.7h1M44.5 214.7h1M45.5 215.5h1M45.4 205.3h1M43.1 205.9h1M44.4 214.3h1M42.6 214.4h1M40.7 200.4h1M46.1 206.2h1M42.2 199.7h1M47 209.1h1M45.1 210.7h1M41.4 211.6h1M43.2 212.1h1M42.9 213.1h1M41.4 209.5h1M44.9 202.9h1M42.4 211h1M47.7 213.5h1M45.8 203.4h1M41.4 205.5h1M43.6 215.6h1M43 217.7h1M39.7 207.8h1M45.9 203.9h1M46 207.2h1M45.9 206.1h1M42.5 207.9h1M46.3 213.9h1M43.1 201h1M45.9 200.4h1M48.1 219.1h1M44 206.2h1M40.1 215.6h1M42.8 201.3h1M45.2 214h1M46.6 203.4h1M40.8 205.4h1M43.1 203.4h1M44.2 212.6h1M44.7 205.1h1M45.9 205.3h1M41.2 213.2h1M42.5 217.4h1M46.1 212h1M44.6 211.2h1M44.7 213.7h1M46.4 217.8h1M43.9 208.8h1M44.9 205.4h1M42.8 218.7h1M40.2 216.7h1M40.4 204.3h1M43.8 213.8h1M43.1 211.9h1M42 209.7h1M44.4 204.6h1M41.4 203.4h1M43.9 207.4h1M43.6 209.7h1M41.5 217.7h1M37.9 203.4h1M47.2 214.8h1M44.4 211h1M36.9 213.8h1M42.5 219.5h1M44.6 207.9h1M43 210.6h1M45.1 202.1h1M41.2 206.9h1M44 217.3h1M43.5 219.5h1M43.1 210.8h1M43 209.8h1M44.1 212.2h1M45.9 211.4h1M42.3 220.6h1M42.6 205.3h1M44 202.1h1M43.3 206.5h1M44.6 203.5h1M45.4 210.5h1M46.8 210.3h1M43.3 203h1M37.9 209.8h1M43.4 208.6h1M44.5 211.1h1M43.1 207h1M43.2 208.1h1M37.5 208.6h1M44.9 216.2h1M42.8 204.7h1M39.8 207.3h1M41.4 210.3h1M41.4 209.7h1M45.1 215.4h1M45 208.6h1M47.4 211.6h1M45.2 210.2h1M40.2 206h1M40.1 208.6h1M46.4 209.9h1M47.5 206.2h1M43 222.2h1M45 211.1h1M39.8 214.9h1M38.7 217.8h1M40.7 219.4h1M42.7 201.5h1M42.3 207h1M43 203.4h1M42.4 207.7h1M45.3 208.3h1M47.2 203.1h1M43.7 215.2h1M48.7 216h1M42 206.7h1M42.3 213.2h1M44.6 214h1M42.7 213.1h1M46.5 203.6h1M42 221.5h1M46.9 219.8h1M44.1 207.7h1M50 207.8h1M42.4 203.7h1M43.1 212.9h1M44 210h1M38.1 212.3h1M45.1 208h1M44.8 204.1h1M43.9 205.5h1M39.7 207.1h1M39.7 210.7h1M45.1 208.9h1M46.5 213.7h1M47.6 213.2h1M41.4 214.4h1M41 211.4h1M42.9 218.7h1M38.7 220.1h1M42.1 207.7h1M45.7 205h1M47.7 213.6h1M44.3 212.8h1M47.7 213.8h1M44.6 207.7h1M44.1 205.2h1M43.2 209.3h1M44.1 218.2h1M43 209h1M43.2 213.3h1M41.9 207.4h1M44.2 205.9h1M43.6 206.2h1M39.9 199.4h1M43 206.9h1M41.5 214.2h1M38.5 210.2h1M44.8 206h1M47.5 209.7h1M49.5 211.2h1M47.5 213.9h1M41.4 206.6h1M46.5 210h1M46.4 211.6h1M38.6 215h1M45.8 204.1h1M45.2 208.6h1M44 201.5h1M44.3 206.1h1M43.7 211.6h1M47.7 218h1M42.6 208.9h1M43.1 208.1h1M43.6 205.3h1M44.3 203.6h1M39.2 205.9h1M47.1 212.9h1M44.2 200.1h1M45 209h1M44.1 206.8h1M43.1 205.1h1M42.7 211.1h1M43.8 206.3h1M44 204.9h1M46.5 207.3h1M44.5 202.7h1M43.3 202.3h1M48.6 206.3h1M40.4 204.6h1M40.2 214.2h1M44.5 209.6h1M43.1 204.5h1M39.2 209.5h1M42.8 213.3h1M41.8 212.7h1M46.4 218.1h1M42 206.2h1M46.2 216h1M44.7 208.3h1M43.1 210.4h1M43.7 206h1M44.7 205.1h1M37.8 218.5h1M44.4 218.9h1M42.7 211.4h1M48.1 213.9h1M41.9 211h1M46.5 217.4h1M37.3 201.6h1M45.6 217.7h1M44.3 202.1h1M43 217.5h1M43.3 220.1h1M42.9 204.1h1M44.7 206.7h1M43.3 209.9h1M39.1 213.9h1M43.1 199.8h1M49.2 209.3h1M43.7 213.1h1M44.3 213.7h1M42.5 213.1h1M44 207.9h1M44 208.1h1M42.9 207.3h1M45.8 221.9h1M41.3 205.2h1M43.3 211.1h1M44.9 208.5h1M42.9 209.2h1M40.5 211.5h1M45 207.3h1M41.1 210.2h1M42.5 207.9h1M41.5 213.4h1M43.3 208.1h1M42.5 210.3h1M42.4 210h1M45.3 218.9h1M48 218.7h1M42.7 204.4h1M44.9 206.2h1M42.7 203.1h1M43.8 208.2h1M46.4 209.4h1M43.7 206.6h1M41.6 211.5h1M41.8 207.4h1M42.1 209.6h1M43.6 201.1h1M45.7 212.8h1M40.2 205.3h1M41 207.7h1M41.3 212.7h1M39.2 203.1h1M46.9 214.7h1M43.5 211.1h1M48.4 211h1M40 203.2h1M46.8 203.6h1M41.8 210.2h1M42.6 208.4h1M41.1 207.1h1M41.2 209.3h1M40.3 205.6h1M44.1 209.1h1M40.3 212.4h1M43 205.6h1M43.6 205.9h1M45.3 209.3h1M43.9 207.6h1M44.4 209.4h1M44.9 210.1h1M43.6 201.7h1M44.5 217.2h1M41.2 208.9h1M41.7 210.2h1M48.3 204.2h1M43.6 208.6h1M41.8 208.4h1M47 204.9h1M43.2 208.7h1M42 202.5h1M40 220.5h1M45.5 210.8h1M40.9 212h1M42.3 211.1h1M45.2 206h1M44.1 210.1h1M43.4 197.3h1M43.1 205h1M46.5 212.5h1M49.2 208.5h1M42.2 199.6h1M45 203h1M48.4 213.8h1M46.3 201.5h1M41.9 210.1h1M42.5 201.2h1M42.1 214h1M41.3 212.3h1M42 214.2h1M44.3 208.2h1M42.1 211.6h1M45.8 210.8h1M43.9 203.7h1M42.6 210.3h1M45.8 206.7h1M44.4 204.1h1M44.3 204.5h1M46.2 215.1h1M45 213.8h1M43.3 208.2h1M45.9 200.3h1M44.4 212.7h1M50.9 215.4h1M46.3 212.9h1M46.5 208.8h1M46.8 203.3h1M43.8 209.5h1M46.9 205.7h1M43.7 206.2h1M41.5 209.6h1M42.2 206.9h1M44.9 210.3h1M39.7 214.3h1M44.1 202.9h1M41.8 211.2h1M45.4 211.9h1M41.7 208.6h1M48.3 200.3h1M45.5 205.8h1M40.4 220.7h1M48 213.3h1M43 204.3h1M41.8 208.1h1M41 207.9h1M45 210.4h1M47.4 211.4h1M42.2 213.7h1M41.1 210.5h1M40.8 205.8h1M47.3 214.2h1M47.8 206.3h1M42.7 212.5h1M44.9 218.5h1M43.6 210.6h1M43.4 202.1h1M46 212.9h1M44.7 211.8h1M44.4 205h1M42.9 212.9h1M45.6 210.2h1M42.9 204.9h1M43.7 210.8h1M44.1 209.1h1M40.6 201.3h1M42.9 211h1M42.8 202.4h1M43.9 212.1h1M40.8 203.2h1M40.6 212.1h1M47.7 210.5h1M46.5 202.9h1M45.8 212.1h1M48.2 214.8h1M44.6 202.5h1M43.4 205.5h1M44.8 204.5h1M38.9 208.1h1M40.9 216.4h1M45.5 209.5h1M43.7 216.1h1M40.4 208.6h1M45.2 215.5h1M46.1 206.6h1M45.3 207.6h1M43.5 201.8h1M41.5 213.3h1M43.9 208.7h1M44.7 207.3h1M42.7 204.6h1M45.1 212.4h1M44.4 211.1h1M44.4 204.9h1M38.5 216h1M46.3 209.5h1M47.9 208.7h1M42.6 218.2h1M39.9 209.2h1M45.2 209h1M42.4 208.2h1M41.2 220.1h1M46.6 220h1M40.1 214.6h1M45.4 209.1h1M40.5 206.9h1M47.3 211.9h1M44.9 210.2h1M43 202.5h1M44 215.4h1M45.1 207.6h1M45.7 213h1M45.7 209.4h1M45 209.7h1M42.4 203.7h1M45.3 205.9h1M40.3 206.9h1M46.1 209.9h1M45.8 211.6h1M47.1 208.6h1M42.1 206.4h1M44.1 214.9h1M45.7 210h1M44.4 212.2h1M42.5 211.8h1M44.4 205.9h1M43.8 207h1M46.1 214h1M42 219.2h1M44.4 212.2h1M44.3 206.8h1M45.5 215.8h1M43.4 202.3h1M43.9 206.1h1M43.4 216h1M43.7 208h1M43.6 217.1h1M42.8 201.9h1M50.7 206.9h1M41.5 211.6h1M40.7 210.9h1M41.6 211.3h1M41.8 209.8h1M43.6 207.1h1M47.2 214.7h1M47.8 206.9h1M44.2 204.1h1M37.4 209.5h1M44.6 197.9h1M40.3 213.9h1M42.3 212.3h1M40.7 209.7h1M44.7 206.8h1M42 201.5h1M45.5 201.9h1M44.8 213.2h1M43 210.5h1M43.8 211.8h1M45.9 209.3h1M42.7 211.4h1M45.9 202.5h1M43.6 213h1M44.3 211.7h1M45.6 214.2h1M46.9 210.5h1M44.9 205.2h1M43.7 212.2h1M45.4 204.5h1M39.7 214.7h1M47.7 211.5h1M40.3 206.9h1M45.9 211.7h1M42.2 217.5h1M44.9 205.4h1M43.3 218h1M44.4 210.5h1M41.6 215.2h1M38.2 211.4h1M44.6 212.3h1M42.1 218.5h1M42 210.9h1M41.8 209.3h1M48.6 210.9h1M42.1 215.1h1M44.4 209h1M40.7 205.7h1M47.4 208.9h1M42.2 212.7h1M37.1 209.9h1M50.4 211.9h1M40.9 206.5h1M46.9 216.4h1M45.4 211.8h1M45.2 211.8h1M43 210.1h1M44.1 212.9h1M46.7 209.6h1M42.8 209.3h1M44.2 213.7h1M45.9 208.6h1M43.8 209.7h1M42.5 203.5h1M47.2 208.9h1M44.5 204.2h1M43.3 205.6h1M41.7 206.9h1M41.1 219h1M45.8 215.2h1M46 211.5h1M38.2 211.4h1M42.1 215.6h1M46 200.2h1M49.7 204.2h1M49 209.7h1M46 206.4h1M47 203.9h1M42.3 208h1M45.5 212.9h1M40.5 214.5h1M42.2 209.7h1M44.4 211.4h1M49 212.9h1M45.5 197.8h1M44.3 213h1M43.2 200.2h1M40.3 211.5h1M45.1 212.5h1M42.7 212.8h1M44.2 207.3h1M41.4 212.8h1M43.9 212.8h1M39.8 214.5h1M44.9 202.7h1M46.9 206.1h1M45.9 211.6h1M48.9 209h1M44.4 213.2h1M44.9 212.2h1M44.9 211h1M41.4 212.1h1M49 210.8h1M46.1 205.9h1M43 212.5h1M41.3 207h1M45.1 217.3h1M45.7 215h1M43.9 206.8h1M44.1 210.7h1M43.1 203.3h1M43.6 210.4h1M46.9 217.3h1M47.1 210.9h1M39.8 214.4h1M43.9 215.8h1M40.6 210.6h1M40.3 215.3h1M45.1 209h1M41.5 211.1h1M35.7 202.9h1M45.2 206.5h1M46.8 208.3h1M48.7 212.6h1M42.6 204.8h1M47.2 210.7h1M37 202.5h1M41 208.1h1M44.9 206.7h1M44.8 217.5h1M46.9 206.4h1M46 209.3h1M43.4 214.2h1M47.4 206.6h1M45.3 212h1M47.9 209.4h1M41.6 205.7h1M44.4 206.4h1M42.5 213.5h1M45.6 207.2h1M43.1 213.5h1M43 210.1h1M40.3 206h1M44.4 209.6h1M46.4 219.9h1M46.1 210.3h1M36.1 206.3h1M39.6 211.5h1M48.6 208.2h1M43.1 203.4h1M43.2 211.7h1M46.5 205.3h1M44.1 215.8h1M42 215.2h1M43.1 213.2h1M48.3 210.1h1M40.1 205.9h1M46.9 211.4h1M42.8 206.4h1M42.9 215h1M48.3 203.5h1M42 216.8h1M45.7 209.5h1M42.7 206.7h1M40 204.6h1M43.2 212.7h1M46.5 212h1M43.1 213.5h1M45 209.5h1M44.1 207.3h1M43.7 210.5h1M42.6 204.3h1M43.9 209.2h1M38.5 206.1h1M42.5 216h1M39.1 212.2h1M44.3 208.1h1M44.5 207.6h1M41.6 215h1M45.6 207h1M44.6 209.3h1M44.3 212.7h1M42.7 206.4h1M44.8 215.9h1M46.2 211.2h1M41.9 217.4h1M41.6 210h1M46.6 223.1h1M37.8 211.9h1M37.1 210.9h1M39.1 203.7h1M44.1 211.2h1M44 203.5h1M44.8 208.6h1M43.8 208.5h1M47.4 214.2h1M47.5 208.5h1M46.5 208.7h1M40.7 206.3h1M44.5 208.3h1M41.4 207.4h1M42.3 218.5h1M41 206h1M43.6 204.6h1M45 207.1h1M43.8 215.1h1M40.6 200.9h1M39.8 216.5h1M41.7 205.6h1M41.7 205.3h1M45.6 203.8h1M42.8 212.1h1M43.1 206.7h1M43.2 210.7h1M46.3 210.1h1M47.7 198.6h1M44.7 209.6h1M43 211.8h1M47.1 203.9h1M44.7 203.7h1M42.5 209.6h1M46.1 217.3h1M44.1 216.7h1M40 218h1M45.2 205.9h1M44.3 212.6h1M39 207.5h1M38.2 213.3h1M43.9 209.6h1M45.3 201.3h1M45.1 212.7h1M40.2 200.2h1M42.7 221h1M45.3 222.7h1M39.8 206.9h1M43.8 209.8h1M44.1 210.4h1M45.9 211.7h1M37.5 212.8h1M44 202.2h1M48.6 205.2h1M42 214h1M42.8 212.1h1M46 206.9h1M41.7 203.8h1M46.5 211.7h1M45 208h1M39.7 214.6h1M43.9 215h1M40 213.3h1M46 211.5h1M39.4 211.4h1M39.1 214.1h1M40.8 206.6h1M41.6 202.5h1M46.9 212.8h1M43.6 211.3h1M44.3 211.4h1M46.3 209.4h1M41.9 199.4h1M42.2 223.6h1M41.5 222.9h1M45.6 207.6h1M47.7 213.9h1M44.2 210.4h1M42 211.2h1M42.3 211.6h1M40.8 215h1M45.4 206.9h1M40.9 213.4h1M43 213.3h1M40.7 198h1M38.9 216.9h1M37.3 213.1h1M41.4 207.3h1M44.1 210.2h1M42.8 212.4h1M43 208.7h1M40.9 212.5h1M41.3 200.4h1M40.9 211h1M44.1 215.2h1M48.7 213.5h1M43.3 211h1M40.2 206.3h1M46.8 210.3h1M41.1 204.4h1M45 210.6h1M42.5 209.2h1M43.8 212.3h1M52.2 216.5h1M41.7 214h1M42.1 206.1h1M44.5 205.5h1M43.5 205.9h1M42.6 205.9h1M41.9 205.1h1M45.1 219.4h1M46.3 216.1h1M41.2 207.2h1M40.8 210.2h1M48.2 221.6h1M40 201.6h1M45.4 211.9h1M44.7 219.4h1M40.8 210.7h1M45.5 207.4h1M40.8 216h1M40.9 220.6h1M40.1 209.1h1M45.7 215.6h1M42.5 205.5h1M46.3 211.2h1M41.6 213h1M45.1 207.9h1M47.1 207.5h1M43.4 213h1M40.8 214.1h1M42.7 205.1h1M46.7 207.1h1M45.4 212h1M42.6 202.8h1M39.2 205.2h1M45.4 211.5h1M47.7 213.8h1M47.7 211.3h1M44.7 209.6h1M43.1 217.9h1M41.6 211h1M42.2 207.5h1M39.5 200.3h1M48.9 212.5h1M43.5 207.9h1M49.6 208.4h1M43.4 209.5h1M39.6 205.9h1M48.3 212.2h1M41.5 209.3h1M42.5 222.5h1M47.7 206.9h1M47.2 211.3h1M38.5 207.1h1M43.6 213.4h1M40.9 205.8h1M44.9 210.4h1M48.1 210.3h1M42.3 212h1M47.3 201.2h1M41.3 212.7h1M49 210.5h1M41.5 215.6h1M42.4 206.3h1M44.3 209.4h1M40.1 205.5h1M47.5 206h1M40.9 213h1M45.1 212.5h1M40.4 209.3h1M43.9 210.7h1M43.6 211.5h1M42.6 213.6h1M44.8 212.7h1M40.8 218.4h1M47.4 209.9h1M44.1 217h1M36.6 208.5h1M48.6 212.6h1M44.7 211.3h1M47.5 213.6h1M43.2 210.2h1M37.9 218.3h1M42.6 200.4h1M40.5 214h1M43.5 213.3h1M42.4 213.6h1M44.1 218.2h1M39.2 216.2h1M43.7 203.4h1M42.5 215.3h1M45.2 207.9h1M39.4 211h1M42.5 212.1h1M47.7 206h1M40.6 203.6h1M45.4 210.7h1M46.9 210.7h1M43.6 207.3h1M46.1 205.7h1M46.2 210h1M47.5 208.6h1M42.7 209.7h1M43.3 218.7h1M45.6 212.7h1M41.7 216.3h1M43.7 207.1h1M41.9 217.5h1M37.8 209.9h1M44.4 210.6h1M47.9 210.3h1M42.7 211.7h1M43.8 202.7h1M42.5 210h1M41.7 213.2h1M43.9 216.7h1M46.3 212.1h1M49.1 206.9h1M45.7 203.5h1M41.2 211.6h1M40 201.5h1M46.9 209.4h1M44.4 212.5h1M42.1 210.5h1M41 208.8h1M41.6 201.1h1M46.7 209.8h1M43.5 215h1M40.1 208.8h1M45.8 208.1h1M44.4 211.9h1M42.9 213.3h1M45.1 214.2h1M41.5 205.9h1M46 207.7h1M40 211.4h1M41.3 214.7h1M40.2 216.6h1M42.6 207.2h1M41.7 214.2h1M42.7 216.2h1M43.6 211.3h1M45 209h1M44 205.4h1M44.2 215.1h1M47.6 210h1M42.9 216.9h1M40 218.4h1M46 203.7h1M48.2 207.8h1M44.1 209.5h1M45.7 205.1h1M42 206.2h1M44.1 217.1h1M45.2 207.1h1M44.5 211.2h1M42.3 201.1h1M47.7 206.9h1M44 206.3h1M45.9 206.2h1M44.6 209.4h1M45.8 209.4h1M45.9 203h1M43.1 207.7h1M45.7 213.7h1M49 204.9h1M48.6 219.8h1M45.5 216.2h1M47.8 207.8h1M40.3 200h1M47.3 199.9h1M43.8 206.5h1M39.1 206.6h1M44 205.5h1M46 218.2h1M41.9 214.6h1M48.4 214.3h1M47 206.7h1M40.4 214h1M46.1 210h1M43.9 210.5h1M42.2 212.2h1M42.8 223.4h1M42.5 203.2h1M40.6 209.2h1M42.5 201.5h1M45.3 212.9h1M47.2 211h1M47.2 220.2h1M42.2 212.7h1M43.3 203.1h1M41.5 204.1h1M46.2 218.4h1M39.5 199.2h1M40.2 214.7h1M42 205.7h1M44.2 208.9h1M42.8 210.2h1M43.7 204.3h1M43.7 206.3h1M44.2 209.6h1M41 218.1h1M42.8 213.1h1M45 206.3h1M44.3 209.9h1M46.3 206.2h1M41.7 210.8h1M45.9 205.1h1M47.3 208.4h1M43.2 218.3h1M44.3 204.1h1M44.2 213.7h1M44.9 208.7h1M44.6 213.3h1M47.3 209.4h1M44.9 209.8h1M45.8 210.2h1M44.4 216.6h1M41 215h1M44.7 211h1M43 216.8h1M42 215.6h1M41.4 215.3h1M43.4 215.8h1M42.1 203.8h1M48.7 218.1h1M47.6 204.5h1M42.9 209.5h1M45.4 213.3h1M46.5 200.2h1M43.2 210.4h1M48.2 215h1M45.9 211.1h1M43.3 213.8h1M39.1 207.6h1M41.2 202.7h1M44.4 210.5h1M42.5 204.4h1M43.5 208.6h1M41.6 205.9h1M44.2 211.1h1M42.5 206.1h1M39.7 208h1M42.7 220.7h1M42.2 210h1M39.7 209.1h1M47.2 215.9h1M43.4 212.3h1M42.8 216.6h1M45.5 212h1M43.4 211.8h1M45.5 209h1M39.9 216.7h1M41 211.6h1M45 210.1h1M47.3 219.9h1M43.7 200.2h1M44.1 207.1h1M41.5 214h1M43.5 206.2h1M41.8 206.7h1M43.2 212.9h1M45.4 210.3h1M38.6 213.4h1M44.1 207.1h1M41.6 210h1M42 207.6h1M46.4 205.3h1M44.3 205.4h1M45.9 213.6h1M39.2 199.1h1M42.6 208.5h1M42.5 205h1M42.1 211.5h1M44.7 208.5h1M45.8 213h1M40.8 212h1M41.2 201.5h1M40.5 212.4h1M46.5 208.2h1M42.3 210.1h1M43.3 208.7h1M42.8 212.3h1M41.2 220.7h1M44.5 209.5h1M44.6 220.6h1M46 207.1h1M43 208.4h1M42.9 215.8h1M42.1 210.8h1M47.3 213.3h1M46.1 211.7h1M43.5 217.8h1M45.2 203.6h1M42.1 205.4h1M48.7 211.9h1M42.1 223.1h1M42.7 207.1h1M42.7 212.6h1M47.9 218.8h1M44 214.7h1M46.3 220.8h1M43.3 202.5h1M40.6 204.8h1M45.5 200.6h1M42 207.6h1M40.3 211.3h1M42.6 206h1M45.2 211.4h1M48 211.4h1M40.1 206.7h1M38.1 212.4h1M45.9 207h1M44.4 206.1h1M42.2 215.1h1M44.6 219h1M45.4 214.4h1M48.4 207.5h1M43.3 212.6h1M46.8 214.6h1M42.5 212.5h1M42.3 209.1h1M44.7 197.6h1M40.8 213.4h1M40.3 210.1h1M46 210.5h1M38.7 207.1h1M43.9 199.9h1M42.8 209.3h1M42.7 215.3h1M40.3 213.4h1M38.5 207.3h1M41.9 210.2h1M40.7 208.2h1M42.5 200.5h1M43.8 210.8h1M41.7 217h1M40.9 219h1M44.3 209h1M41.7 212.7h1M41.2 201.4h1M42.9 204.4h1M44.3 211.9h1M48.9 212.3h1M47.6 202.8h1M40.4 205.9h1M40.3 206.3h1M43.8 213.5h1M45 208.8h1M43.3 210.2h1M49 215.2h1M46.5 212.5h1M47.7 205.3h1M42.6 210.3h1M41.4 204.9h1M40.9 210.6h1M43.3 215.5h1M40.5 214.1h1M42 213.3h1M42.5 212.2h1M46 214.5h1M42.4 211.3h1M40.1 213.6h1M42.5 210.7h1M44.1 212.5h1M45 211.2h1M41.3 214.7h1M45.2 215h1M47.1 207.5h1M44.8 205.1h1M44.2 209.1h1M42.5 218.9h1M42.1 213.2h1M38.5 199.1h1M45.1 213.4h1M42.7 205.6h1M44 210.5h1M44.9 202.8h1M41.6 199h1M46.1 218h1M43.9 214.7h1M47.3 217.4h1M44 212.9h1M44.4 203.1h1M42.9 219.8h1M47.3 196.8h1M38.3 209.4h1M42.3 206.9h1M42.8 206.7h1M39.8 199.2h1M41.6 203.1h1M38.2 208.1h1M44.1 216.7h1M40.1 205.6h1M44.5 212.3h1M42.9 212.5h1M41.5 214.4h1M39.7 207.3h1M41.9 215.6h1M44.4 204.7h1M43.3 213.1h1M45.3 206.7h1M41.6 206.4h1M47.6 207.2h1M43 202.8h1M41.5 205.6h1M46.9 211.6h1M47 213.2h1M43.4 209.4h1M42.4 214.8h1M45.9 202.8h1M41.4 209.7h1M45.9 213.4h1M40.1 214h1M43.4 210h1M43.6 220.5h1M46.6 211h1M39 204.6h1M44.2 211.4h1M43.3 202.9h1M43.6 214.8h1M41.4 208.5h1M40.3 208h1M42.4 211.3h1M43 209.5h1M47.3 200.5h1M43.9 199.5h1M43.6 208.5h1M45.3 211h1M39.6 212.6h1M45.4 208.7h1M45.9 206.1h1M45.9 210.5h1M42.8 206h1M40.5 210.1h1M41.1 202.8h1M44.2 208.4h1M44.9 201.1h1M46.8 218.7h1M47.4 207.8h1M45.8 214.5h1M43.7 207.8h1M44.3 209.8h1M43 210.5h1M46.2 206.2h1M45.1 207.8h1M44.1 208.2h1M40.5 212.9h1M46.2 206.4h1M39.8 211.7h1M46.7 213.1h1M46.1 206.6h1M39.6 210.5h1M43.5 212.8h1M40.5 212.6h1M43.2 211.5h1M45 217.5h1M43.3 205.5h1M40.2 219.4h1M44.3 205.3h1M44.2 206.9h1M43.5 213h1M41 220.6h1M42.7 205.8h1M44.3 202.9h1M43.2 210.1h1M48.9 207.6h1M44.2 219.3h1M43.1 211.9h1M44.8 206.7h1M40.8 213.9h1M44.7 213.3h1M47.6 202.9h1M41.4 223.2h1M44.3 212.6h1M45.5 209.9h1M39.4 209.4h1M47.7 219h1M41 211.6h1M42.8 211.1h1M44.6 201.5h1M43 207h1M45.6 202.1h1M44 211h1M45 212.5h1M43.8 194.7h1M47.3 209.4h1M38.6 201.7h1M44.5 212.3h1M42.8 211.9h1M41.2 204.7h1M41.6 210h1M42.2 211.4h1M45 211.1h1M41.4 219.6h1M43.2 211.6h1M44.3 203.7h1M40.7 210.3h1M46.4 210.7h1M49.7 209.7h1M41.9 208.9h1M45.9 214.6h1M42.8 219.2h1M44.9 217h1M43.1 206.7h1M49.1 206.9h1M42.8 213h1M45.6 211.4h1M45.1 219.8h1M40.9 212.6h1M38.2 206.1h1M45 203.1h1M45.7 211h1M42.3 218.2h1M42 206.3h1M46 210.1h1M45.7 210.8h1M46 207.1h1M44.3 215.1h1M41.6 215.9h1M40.6 210.2h1M38.6 201.2h1M43.5 207.7h1M48.4 209.7h1M44.8 210.4h1M43.4 209.9h1M39.8 210.6h1M41.9 206.6h1M43.6 209.8h1M43 213.7h1M45.9 206.9h1M43.2 212.9h1M45.3 212.6h1M43.3 214.7h1M43.1 208.6h1M46.7 201.2h1M41.7 212.2h1M42.9 218h1M40.4 217.4h1M43.8 214.5h1M46.3 218.1h1M45.3 208.5h1M45.4 214.5h1M46.2 207.2h1M45.2 207.8h1M45.5 212.2h1M44.6 208.5h1M41.2 205.8h1M44.9 213.8h1M46 211h1M41.4 216.7h1M44.2 203.8h1M46.3 208h1M42.7 207.6h1M40.3 208.9h1M43.8 213.4h1M47.6 204.6h1M41.3 215h1M43.3 207.7h1M41.7 215.4h1M42.7 217.1h1M44.2 218.7h1M47.3 205.2h1M41.8 208.2h1M41.8 213.5h1M41.4 214.4h1M40.9 208h1M39.8 213.8h1M41.5 210.3h1M43.3 207.4h1M43.7 207.2h1M46.5 215.8h1M41.5 209.5h1M41.7 208.3h1M41.7 218.9h1M44.1 210.9h1M43.2 204.2h1M45.5 210.5h1M41.6 209h1M45.9 208.4h1M46 211.5h1M42.9 199.4h1M42 211.1h1M44.1 205.3h1M41.6 212.5h1M48.6 212.7h1M44 197.4h1M45.6 212.3h1M40.4 213h1M39.2 211.1h1M45.3 206.4h1M44.9 215.8h1M41.7 214h1M42.2 205.5h1M41.9 210.6h1M44.2 216.6h1M45.9 215.4h1M39.7 215.1h1M44.8 209.3h1M41.4 215.6h1M42.3 217.3h1M43.2 219.6h1M40.2 213.2h1M50.7 212.1h1M49.7 212.6h1M45.5 209.6h1M45.2 210.1h1M41 210.1h1M49.5 207.7h1M43.6 210h1M43.3 209.2h1M46.6 212.1h1M44.3 209.4h1M41.7 211.8h1M43.1 212.1h1M42.7 211.3h1M43.8 221.1h1M45 214.6h1M44.9 202.6h1M46.9 204h1M43.6 214.4h1M46 215.2h1M47.9 208.6h1M40.5 211.1h1M45.4 209.8h1M40.9 209.2h1M39.8 213.6h1M47.6 205.4h1M46.4 206.6h1M44.9 213.2h1M42.4 206.6h1M47.4 210.2h1M40.2 211.6h1M43.8 200.6h1M44.8 213.4h1M46.8 210h1M39.8 218.9h1M35.9 221.7h1M43.9 202.8h1M44.4 210.1h1M44 207.9h1M41.4 209.4h1M43.5 204.9h1M39.7 204.7h1M44.7 200.8h1M45.8 206.8h1M41.8 212.2h1M38.6 211.9h1M43.3 222.8h1M43.1 216.8h1M43.4 205.1h1M46.9 209.3h1M43.9 216.8h1M48.8 213.4h1M44.6 211.1h1M40.9 204.8h1M46.4 209.4h1M43.4 199.3h1M42.4 216.6h1M44.3 213.3h1M43.9 213h1M39.7 208.9h1M41.5 204.1h1M46.5 209.5h1M44 213.3h1M45.2 217.4h1M46.2 207.9h1M48.1 202.9h1M42 212.8h1M55.5 204.4h1M52.9 204.3h1M54.6 215.5h1M57.6 201.3h1M52.1 208h1M54.6 195.3h1M54.2 210.6h1M54.7 208.8h1M53.6 211.6h1M55.6 202.5h1M52.8 198.5h1M49.1 205.6h1M53.8 218.8h1M54 205.7h1M52.8 208.4h1M52.1 205.2h1M53.7 210.8h1M49.3 202.1h1M56.3 206.3h1M52.3 208h1M52.3 213.3h1M52.2 215.5h1M49.5 195.6h1M53.8 205.1h1M53.5 198.5h1M55.5 202.2h1M53.4 209.9h1M53.6 212.3h1M57.8 211.9h1M52.4 196.9h1M53.4 199.5h1M51.6 200.1h1M52.1 202.6h1M52.9 206.4h1M49.3 209.7h1M52.4 206.3h1M54.3 204.1h1M55.8 212.4h1M54.5 201.1h1M57.9 204h1M54.8 200h1M51.6 204h1M52.6 209.8h1M55.5 196.4h1M57.5 202.1h1M56.1 202.7h1M54.6 204h1M56.9 205.6h1M54.2 203.7h1M54.2 202.9h1M55.5 205.5h1M53.4 205.6h1M52 198.4h1M49.7 198h1M51 204h1M53.7 210h1M52.6 205.6h1M57.5 201.7h1M50.9 211.8h1M47.6 194h1M49.7 211h1M51.3 210.3h1M50.6 212.3h1M51.8 206.3h1M53.6 205.2h1M52.3 203.3h1M51.9 213.8h1M53.5 201.7h1M52 209.2h1M54.8 210h1M53.2 207.7h1M52.4 201.9h1M54.2 219.1h1M50.8 208.1h1M51.8 206h1M50.4 204.2h1M52.1 202.5h1M51.4 211.7h1M52.7 214.5h1M50.3 214.2h1M50.1 206.2h1M57.1 197.1h1M58.6 202.5h1M56.9 208.3h1M53.4 207.2h1M48 205.6h1M55.3 200.2h1M52.9 204.3h1M52 211.6h1M54.3 201.5h1M54.4 203.9h1M56.9 209.2h1M58.2 200.1h1M53.8 197.3h1M51.4 209.6h1M53.5 210h1M49.7 208.3h1M52.1 199.2h1M50.3 206.4h1M55.3 214.2h1M56.2 198.4h1M52.4 208.1h1M54.2 203.3h1M54 207.4h1M55 199.8h1M52.9 197.8h1M55.7 208.8h1M51.7 207.5h1M55.6 207.2h1M56.1 198.2h1M52.9 208.8h1M54.1 212.8h1M53.2 203.7h1M54.5 207.9h1M54.7 203.6h1M53.7 211h1M52.4 202.3h1M55.1 205.4h1M54.2 210.7h1M59 207.7h1M50.3 202.1h1M57.9 205.3h1M54 218.6h1M55 205.6h1M51.5 218.6h1M52 204.6h1M53.9 203.2h1M53.1 208.2h1M49.6 213.3h1M53.2 201.7h1M53.2 205h1M51.9 216.2h1M55.6 204.7h1M56.1 212.1h1M51 217.6h1M52.2 196.4h1M51.6 207.3h1M53.4 194.1h1M55.6 196.6h1M54.1 205.1h1M52.6 213.1h1M51.7 203.5h1M56.8 213.4h1M56.3 205.4h1M54.2 207.7h1M50 207.1h1M55.5 211.9h1M53.4 206h1M50.6 213.6h1M56.5 201.3h1M54.4 201.8h1M49.6 206.3h1M52.4 200.7h1M52.6 200.7h1M51.7 209.8h1M54.6 207.3h1M55.6 200.6h1M52.1 212.8h1M58.1 202.5h1M53.7 207.6h1M57.5 199.5h1M54.2 203.8h1M55.6 211.5h1M56.6 212.3h1M51.6 201.2h1M55.8 203.4h1M50.9 204.5h1M52.9 203.4h1M53.3 210.7h1M55.1 204.1h1M48.7 214.2h1M53.5 197.9h1M53 209h1M48.9 212.4h1M48.7 203.2h1M52.3 205h1M49.2 201.4h1M53.8 202.3h1M50.3 201.8h1M51.9 212.3h1M51.5 202.4h1M53.6 215.3h1M54 212.3h1M47.8 204.4h1M47.7 206.6h1M55 199.2h1M50.4 198h1M54.1 210.5h1M53.9 208.8h1M53.5 207.6h1M53.1 213.9h1M54.1 206.5h1M50.1 206.4h1M53.3 206.6h1M54.1 212.4h1M55 199.3h1M54.7 205.2h1M52.5 216.8h1M53.5 207.2h1M53.5 203.7h1M51.2 216.1h1M53.3 206.6h1M53.6 212.2h1M52 204.8h1M53.3 210.5h1M55.9 203.8h1M51.6 209.5h1M58.9 210.2h1M53.4 200.1h1M54.6 202.7h1M55.5 208.4h1M53.8 209.7h1M51.5 204.9h1M52.6 211.1h1M54.7 214.9h1M54.2 204.3h1M46.2 203.2h1M57.3 207.7h1M52.3 206.3h1M51.4 207.9h1M54.5 212.1h1M51.1 205.3h1M54.2 211.1h1M50.8 212h1M52.8 203.5h1M53 198.1h1M55.4 197h1M54.7 213.4h1M52.3 222.9h1M47.8 210h1M51 209.8h1M54.1 210.4h1M54.9 204.8h1M50.4 207.5h1M53.4 203h1M52.3 209.5h1M56.7 209.7h1M56.1 209.4h1M54.1 200.5h1M48.1 214.4h1M52.5 210h1M52 206.7h1M53.1 207.1h1M49.4 201.2h1M56 205.5h1M56.9 205.4h1M52.5 213.1h1M52.4 206.9h1M52 206.1h1M53 206.8h1M54.5 206.4h1M56.8 202.6h1M53.1 208.7h1M53 202.6h1M56.5 203.8h1M50.1 199h1M55.5 207.6h1M55.5 206.4h1M54.6 201h1M51.5 204.5h1M54.6 212.2h1M54.5 204.8h1M57.4 197h1M52.6 215.1h1M54.7 213h1M50.2 206.6h1M53.6 203.8h1M52.9 201.7h1M51.5 206.2h1M52.2 206.2h1M57.8 197.9h1M54.2 206.9h1M53.3 207.5h1M50.2 211.7h1M51.8 206.8h1M53.8 195.5h1M53.6 204.4h1M56.7 198.4h1M53.1 206.9h1M52.7 204.4h1M53 209h1M53.2 209.9h1M52.8 207.1h1M53.4 198.3h1M54.6 211.1h1M56.3 197.8h1M52 205.1h1M49.7 199.8h1M54.5 205.3h1M56.9 213.2h1M52.8 210.4h1M54.7 207.9h1M51.2 205.2h1M53.5 208.8h1M51.9 197.7h1M52.2 200.1h1M51.5 210.7h1M52 204.5h1M52.1 213.3h1M53.5 199.5h1M53.3 213.6h1M55.4 207.5h1M52.8 210.1h1M50.6 208.7h1M52.4 222.2h1M50.3 201.4h1M55.5 202h1M55.7 202.2h1M49.8 216h1M49.7 209.7h1M56 206.1h1M51.9 198.1h1M53.2 211.1h1M47.7 212.6h1M56.1 215.4h1M57.5 204.1h1M53.8 202.2h1M50.6 207.6h1M57.1 204.2h1M53.4 200.4h1M52.4 212.4h1M58.1 215.7h1M50.7 211h1M54.6 204.9h1M50 203.4h1M55 207.8h1M51.7 201h1M50 210.6h1M58 204.2h1M53.2 202.9h1M50.6 208.8h1M49.2 207.1h1M51.1 204.8h1M55.9 209.4h1M52.8 203.4h1M50.2 202h1M56.9 197h1M50.4 221.6h1M52.8 201h1M54.1 208.4h1M52.7 212.8h1M53.5 196.9h1M47.3 205.2h1M45.7 214h1M54 204.8h1M50.1 213.1h1M55 205.4h1M50.6 208.5h1M49.1 214.8h1M52.6 200.1h1M51.9 197.3h1M52.9 211.9h1M56.8 216.6h1M51.1 205.9h1M52.3 207.4h1M55.5 202.9h1M51.9 210.8h1M50.5 210.4h1M53.5 209.5h1M54.4 200h1M47 205.4h1M51.2 208.2h1M54.4 213.4h1M54.2 201.3h1M53.9 196.3h1M52.6 210.3h1M49.7 210.8h1M52.5 205.2h1M57.2 200.1h1M55.2 191.3h1M48 207.2h1M50.5 208.7h1M50.4 203.5h1M55.2 204.9h1M54.8 200.1h1M57.4 203.5h1M56.1 204.1h1M50.1 202.3h1M53.2 204h1M51.6 202.3h1M49 211.9h1M54.8 208.7h1M55.3 200.8h1M52.1 199.7h1M56.8 210.3h1M56.2 209.6h1M52.4 204.7h1M52 200.5h1M55.4 198.4h1M55.7 202.4h1M51.6 206.3h1M52.8 204.2h1M55.2 209.4h1M57.6 202.9h1M54.5 204.3h1M57 217h1M54.4 203.3h1M51.1 208.4h1M55.7 201.8h1M58.6 210.7h1M50.7 202.3h1M55.8 205.9h1M50.2 207.3h1M51.2 213.9h1M54.6 200.6h1M56.6 204.9h1M53.7 199h1M51.7 213.4h1M55.8 211.6h1M54.7 210.1h1M53.9 200.3h1M49.1 213.8h1M53.3 208.3h1M51 215.2h1M49.1 208.4h1M52.3 212.3h1M57.8 204.2h1M55 208h1M53.1 205.6h1M53.1 202.7h1M52.9 210.2h1M54 210.6h1M52.3 191.2h1M50.3 194.6h1M51.4 216.1h1M54.6 214h1M54.2 207.2h1M50.3 207.1h1M52.7 213h1M54.5 205.8h1M51 215.4h1M57.1 211h1M50.8 211h1M52.1 203.9h1M57.2 209.7h1M52 200.8h1M49.3 211h1M51 206.7h1M51.2 200.7h1M55.3 200h1M53.7 207.1h1M52.6 204.7h1M52.8 209.1h1M53.4 207.8h1M56.3 200.9h1M52 205.9h1M51 210.3h1M52.3 207.9h1M52 206.3h1M53.8 211.7h1M52 212.8h1M52.2 210.9h1M51.2 201h1M51.1 205.6h1M51.8 208.8h1M53.7 197.2h1M54.6 208.6h1M53.7 204.8h1M49.3 215.7h1M55.9 209h1M60.1 205.6h1M52.3 208.9h1M50.4 203.8h1M53.6 210.4h1M55.9 215.5h1M51.8 217.1h1M54.8 206.8h1M53.1 204.2h1M56.3 213.1h1M54.4 206.2h1M53.9 206.9h1M49.1 203.5h1M52 213.1h1M53.9 195.1h1M58.7 194.9h1M55.1 202.7h1M54.2 205.5h1M50.2 202.3h1M52.5 202.3h1M47.9 209.8h1M49.1 216.1h1M50.4 199h1M50.9 210h1M51.8 208.6h1M50.2 214.1h1M53.2 201.4h1M49.9 201.6h1M54.7 202.5h1M50.9 202.6h1M52.5 205h1M52.3 210.2h1M50.8 204.4h1M54.3 203.8h1M51 213.2h1M53.9 199.7h1M51.5 205.4h1M53 202.4h1M51.6 197.8h1M57.1 204.6h1M55.2 203.3h1M59.8 203.9h1M49.6 207.2h1M57.4 198.1h1M54 204.6h1M54.6 202.6h1M53 202.4h1M53.2 207.8h1M52.2 200.3h1M55.4 203.2h1M53 202.7h1M55 206.3h1M53.8 216.9h1M57.8 203.9h1M53.9 208.8h1M56 205.9h1M52.2 200.2h1M51.3 201.3h1M53.8 211.1h1M52.7 205.5h1M52.7 202.4h1M47.8 204.1h1M41.3 204.5h1M48.8 201.3h1M45.2 196.1h1M47.4 200.8h1M37.7 206.9h1M48.1 204h1M55.2 202.7h1M53.4 195.5h1M47.5 196.1h1M44.1 212.6h1M45 199.8h1M41.2 183.4h1M47.9 206.2h1M40.3 197.8h1M40.5 216.1h1M46.2 205.5h1M49.9 210.3h1M50.6 202.2h1M46.7 188.5h1M49.8 187.6h1M52.3 197.8h1M43.5 214.7h1M44.8 209.8h1M41.8 197.4h1M44.5 186.8h1M53 209.6h1M40 209.3h1M58.1 194.8h1M39.3 211.6h1M48.5 221.8h1M53.1 192.3h1M53.9 207.9h1M46.9 205h1M56.5 206.8h1M46.8 184.6h1M55.2 217.2h1M50.5 190.5h1M51.1 208.7h1M45.8 203.8h1M49.1 203.6h1M50.9 220.1h1M47 189.2h1M37.5 205.1h1M45.6 199.5h1M46 192.6h1M43.2 196.4h1M61.4 192.2h1M45.2 201.2h1M38.2 192.7h1M47.4 200.3h1M40.8 191.5h1M46.8 197h1M49.1 209.1h1M37.9 207.9h1M38 199.5h1M48.7 202.7h1M53.8 193.5h1M46.2 211.8h1M41.4 205.9h1M49.3 202.9h1M42.1 215.8h1M43 206h1M56.1 204.1h1M47.1 209.2h1M47.8 194.6h1M49.5 211.7h1M48.9 215.3h1M43.7 199.9h1M50.5 202.5h1M43.6 201.3h1M50.5 202.6h1M40.6 210.7h1M48.6 199.5h1M43.2 192.1h1M56.2 201.4h1M36.6 196.7h1M45.2 211.9h1M46.5 202.2h1M53 193.9h1M49.9 208.3h1M49.9 187.1h1M35.5 196.4h1M52.8 197.3h1M53.2 196.4h1M53.4 209.1h1M50.1 198.4h1M43.3 203.1h1M44.3 208.1h1M41.9 207.9h1M48.1 186.9h1M52.7 202h1M48.4 213.5h1M46.2 212.6h1M50.7 200.7h1M57.8 205.6h1M43.9 216.4h1M48.3 199.6h1M47.2 203.1h1M34.4 192.4h1M55.4 207.1h1M54.1 214.8h1M49.5 203.3h1M48.4 191h1M48.9 199.3h1M47.3 190.6h1M46.5 207.8h1M41.5 207.9h1M48.5 200h1M44.5 217.5h1M47.6 209.2h1M54.6 189h1M43.1 187.7h1M46.4 209.5h1M38.2 211.5h1M49.3 191.7h1M48.1 196.7h1M45 185.9h1M43 221.5h1M54.5 190.5h1M47.3 203.4h1M39.5 198.5h1M47.8 202h1M45.9 206.5h1M50.1 188.5h1M46.8 175.5h1M48.8 208.3h1M43.4 191.9h1M50.5 199h1M51.6 209h1M59.3 172.8h1M36.7 211h1M43.8 203.9h1M47.8 216.4h1M42.2 204h1M48.9 202h1M46.8 206.9h1M40 220.9h1M47.2 209.3h1M36.8 208.6h1M46 206.3h1M42.1 192.1h1M50.1 193.8h1M38.3 217h1M57.1 203.6h1M49.2 191.4h1M45.9 202.8h1M50 196.4h1M55.2 199.9h1M47.4 213.4h1M34.5 240.8h1M35.9 239.6h1M38 241.9h1M37.3 231.1h1M33.5 245h1M38.6 242.5h1M39.7 234.7h1M36.6 237h1M49.4 231.5h1M35.7 236.8h1M36.1 239.6h1M47.5 227.7h1M34.4 244.3h1M36.5 241h1M45.8 234.9h1M35.3 238h1M37.2 234.2h1M27.8 239.4h1M46 233.9h1M34.8 241.9h1M37.3 247.4h1M40 236.9h1M32.4 235h1M39 233.1h1M41.2 240.3h1M29.7 248.2h1M42.1 245.8h1M38.1 247.6h1M32.9 238h1M39.2 238.5h1M38.4 235.4h1M34.9 237.5h1M40.5 235.7h1M34.8 240.8h1M40.7 240.5h1M41.8 233.6h1M40.3 238.1h1M37.1 237.4h1M37.9 233.4h1M35.6 231.5h1M38.9 236.8h1M36.5 239.7h1M37 243h1M38.3 243h1M38.3 241h1M41.5 242.6h1M34.4 240.8h1M25.9 235.6h1M39.3 236.9h1M34.9 239.9h1M34.9 239.4h1M37.1 244.2h1M36.5 235.7h1M42.3 237.6h1M35.9 239.8h1M34.9 238.1h1M34.5 246.7h1M39.2 235.6h1M25.2 234.9h1M41.7 239.5h1M36.8 241.3h1M34.9 235.2h1M43 234.9h1M39.1 235.9h1M41.5 232.8h1M35.3 237h1M43.6 236h1M36.9 229.5h1M37.5 240h1M41.6 236.9h1M36.8 248h1M30.4 237h1M39.2 236.1h1M34.9 236.3h1M37.7 231.3h1M48.4 228.5h1M33.1 241.2h1M37.6 238.4h1M32.5 244.4h1M34.1 236.9h1M27.2 235.6h1M42.8 237.9h1M40.3 237.5h1M41.8 233.2h1M49.4 236h1M37.5 235.3h1M32 232.5h1M35.8 242h1M34.2 196h1M47.6 204.1h1M38.4 191.4h1M49.8 192.7h1M51.4 185.8h1M35 192h1M43.4 204.4h1M46.1 190.4h1M62.7 189.9h1M34.9 173.2h1M60.8 185.9h1M50.6 173.5h1M37.5 193.6h1M55.4 176.1h1M32.4 203.5h1M53 186.9h1M30.9 175.4h1M46 181.2h1M52.5 176.2h1M34.8 194.2h1M42.8 191.5h1M28.4 191.3h1M45.7 185.9h1M44.9 199.2h1M45.1 192.8h1M33.1 180.5h1M45.9 183.9h1M57.4 202.9h1M49.6 175.4h1M50.5 183.3h1M49.9 199h1M49.8 178.2h1M43 191h1M52 185.5h1M34.7 170.2h1M42.9 182.3h1M37.7 185.7h1M36.8 192.3h1M38.4 184h1M47.9 185.6h1" stroke="#d93412" stroke-width="1" fill="none"/>
<rect x="21.6" y="148.4" width="99" height="100.8" fill="none" stroke="#1a1a1a" stroke-width="1.3"/>
<path d="M46.6 148.4V249.2M21.6 220.8H120.6" stroke="#1a1a1a" stroke-width="1.1" fill="none"/>
<path d="M21.6 249.2v2.6M29.1 249.2v1.6M33.4 249.2v1.6M36.5 249.2v1.6M38.9 249.2v1.6M40.9 249.2v1.6M42.5 249.2v1.6M44 249.2v1.6M45.2 249.2v1.6M46.4 249.2v2.6M53.8 249.2v1.6M58.2 249.2v1.6M61.3 249.2v1.6M63.6 249.2v1.6M65.6 249.2v1.6M67.3 249.2v1.6M68.7 249.2v1.6M70 249.2v1.6M71.1 249.2v2.6M78.6 249.2v1.6M82.9 249.2v1.6M86 249.2v1.6M88.4 249.2v1.6M90.4 249.2v1.6M92 249.2v1.6M93.5 249.2v1.6M94.7 249.2v1.6M95.8 249.2v2.6M103.3 249.2v1.6M107.7 249.2v1.6M110.8 249.2v1.6M113.1 249.2v1.6M115.1 249.2v1.6M116.8 249.2v1.6M118.2 249.2v1.6M119.5 249.2v1.6M19 249.2h2.6M20 241.6h1.6M20 237.2h1.6M20 234h1.6M20 231.6h1.6M20 229.6h1.6M20 227.9h1.6M20 226.4h1.6M20 225.2h1.6M19 224h2.6M20 216.4h1.6M20 212h1.6M20 208.8h1.6M20 206.4h1.6M20 204.4h1.6M20 202.7h1.6M20 201.2h1.6M20 200h1.6M19 198.8h2.6M20 191.2h1.6M20 186.8h1.6M20 183.6h1.6M20 181.2h1.6M20 179.2h1.6M20 177.5h1.6M20 176h1.6M20 174.8h1.6M19 173.6h2.6M20 166h1.6M20 161.6h1.6M20 158.4h1.6M20 156h1.6M20 154h1.6M20 152.3h1.6M20 150.8h1.6M20 149.6h1.6" stroke="#222" stroke-width="0.65"/>
<text x="88.2" y="162.9" font-size="9.9" font-weight="bold" text-anchor="start" stroke="#000" stroke-width="0.3" >Mono</text>
<path d="M162.5 205.9h1M164 212.1h1M155.7 204.7h1M170.8 216.7h1M157 209.2h1M160.8 207.2h1M166.2 211.7h1M159.2 205.5h1M160 196.8h1M160.6 207.3h1M166.4 214.4h1M173.4 203.6h1M164.4 214.1h1M159.7 213.9h1M166.4 212.1h1M161.8 197h1M164.1 226.5h1M168.9 217.9h1M161.2 209.3h1M164.2 203.2h1M160.7 201.5h1M163.6 197.9h1M165.2 206.1h1M160.2 215.6h1M162.8 200h1M163.3 207.1h1M161.6 213.3h1M159.4 215h1M158.5 210.3h1M163.6 203.4h1M163.1 221.1h1M173.1 212.2h1M154.5 212.1h1M164.7 214.8h1M165.7 203.7h1M169.6 201h1M166.2 201.4h1M160.8 218.3h1M164.2 211.4h1M166.4 199.4h1M162.9 200.6h1M167.3 208.6h1M156.7 199.8h1M171.1 207.1h1M170.1 209.9h1M162.9 209.9h1M166.6 215.2h1M164.4 219.6h1M160.9 208.9h1M164.6 209.9h1M168.2 219h1M162.7 210.9h1M162.7 209.9h1M163.9 214.2h1M165.9 209.6h1M169.3 207.8h1M161.7 215.6h1M166.2 205.6h1M165.1 207.1h1M156.8 209.9h1M162.5 214.8h1M163.7 198.4h1M164 217.4h1M165.5 214.5h1M156 201.5h1M164.4 214.4h1M161.5 204.6h1M158.4 216.5h1M166.3 208.2h1M167.1 211h1M161.6 199.8h1M167.6 208.1h1M162.7 205.9h1M164.5 212.9h1M159.8 204.6h1M170.5 211.7h1M153.6 224.3h1M163.8 208.1h1M167 215.6h1M156.1 205.6h1M163.4 214h1M163.9 200.8h1M167.5 217h1M169.2 205.4h1M162.6 203.2h1M158.7 203.5h1M169.7 204.5h1M169.1 212.5h1M162.4 209.9h1M165.6 214.7h1M165.7 212.5h1M166.5 204.8h1M165 206.5h1M169.8 215.9h1M157.2 219h1M168.4 216.4h1M165.7 215h1M163.3 202.6h1M168.9 194.9h1M154.8 216.8h1M168.8 208h1M165.7 202.3h1M159.7 207.9h1M165.9 213.4h1M163 207h1M174.5 202.6h1M171.5 206.9h1M166 214.1h1M161.3 213.7h1M161.9 193.6h1M162.9 213.1h1M162 208.6h1M160.6 215.8h1M161.8 194.1h1M163.1 207.4h1M162.1 204.6h1M161.4 206.6h1M160.5 201.1h1M174.4 205.5h1M158.3 201.4h1M160.1 212h1M165.9 228.7h1M162.9 208.9h1M165.9 205.6h1M167.4 231.9h1M169.3 208.4h1M167.2 206.7h1M160.2 214.7h1M168.6 202h1M157.1 207.3h1M163.7 198.8h1M162.2 212.3h1M160 203.3h1M166.6 203.3h1M163.5 204.2h1M168.3 215h1M158.3 205.4h1M167.6 207h1M166.2 212.5h1M164.7 217.7h1M158.5 192.5h1M163.2 214.3h1M158 215.2h1M155.9 215.7h1M177.3 212.3h1M168.1 202.9h1M171.4 211.3h1M162.5 209.9h1M167 210.1h1M167 206.9h1M166.6 206.5h1M164.2 193.4h1M163.3 210.5h1M155.9 214.3h1M166.6 216.3h1M165.9 219.6h1M168.7 217.1h1M163.1 206.7h1M171.2 213.5h1M162.4 205.8h1M159.2 217.1h1M168 206.4h1M162.3 219.6h1M159.2 200.9h1M164.7 211.5h1M167.2 210.9h1M165.2 205h1M166.2 204.7h1M180.6 204.7h1M167.5 217h1M170.3 205.7h1M156.3 201.7h1M165.7 202.1h1M167.3 214.6h1M162.7 205.6h1M160.7 223.9h1M165.8 224.2h1M162.9 212.5h1M161.8 207h1M168.8 217.5h1M169.5 205.2h1M165.4 217h1M162.4 213.5h1M166.3 209.9h1M167.5 205h1M166.7 211.6h1M158.4 208.8h1M162.8 211h1M165.6 208.1h1M166.7 219.7h1M168 198.5h1M167.2 199.7h1M159.7 212.7h1M161.4 209.6h1M159.3 199.2h1M171.4 212.3h1M164.9 208.6h1M166.4 190.1h1M168.3 219.6h1M162.9 206h1M159.6 205h1M162.5 204.4h1M163.6 197.5h1M170.2 202.7h1M167.7 214.2h1M159.9 203.4h1M166.9 208.9h1M167.1 195h1M160 210.1h1M163.8 205.8h1M156.8 208.3h1M165.5 206.8h1M162.9 206.6h1M158.8 205.9h1M161.4 216.1h1M165.2 216.3h1M162 206.3h1M165.4 211.1h1M166.4 202.9h1M160.8 202.4h1M163 205.1h1M172.8 215.6h1M164.7 189.7h1M160.8 202.3h1M164.4 210.7h1M158.8 211.3h1M168.7 207.8h1M165.7 201.7h1M168.5 210.5h1M167.8 213.8h1M165.8 215.4h1M168.1 210.7h1M165 205.9h1M161.6 211.3h1M160.1 215.1h1M162.4 208.1h1M154.2 208.4h1M171.5 199.2h1M157.3 217h1M163.9 208.4h1M158.9 194h1M156.1 211.2h1M163.9 218.5h1M163 191.7h1M163.6 219.2h1M166.4 207.8h1M161.7 212.7h1M165.7 200.5h1M166.3 210.8h1M162.9 207.5h1M163.1 210.7h1M166.4 199.4h1M164.4 201.6h1M164.8 197.4h1M154.7 221.2h1M164.4 212.7h1M165.7 206h1M163.7 207.9h1M165.5 201.1h1M171.8 205h1M164.5 210h1M166.9 195.8h1M160.8 195.3h1M160.8 198.7h1M162.3 201.7h1M160.1 216.1h1M164.2 208h1M160.5 206h1M163.5 214.2h1M158.5 211.9h1M157.6 210.2h1M161.5 209.4h1M159.9 210h1M161.6 195.2h1M161.8 216.5h1M162.8 213.4h1M168.4 215.7h1M169.7 215.6h1M167.1 210.5h1M162.8 213.2h1M170.2 203.3h1M158.1 217.2h1M156.1 215.9h1M165.3 209.8h1M164.2 205.7h1M163.6 210.3h1M164.3 195.7h1M157.6 205.7h1M159.6 227.1h1M169.1 207.5h1M168.3 204.4h1M161.3 208.5h1M171.9 203.1h1M159.9 198.7h1M161.9 211.9h1M165.4 196.5h1M159.4 209.8h1M162.2 206.8h1M163.5 206.9h1M162.6 209.8h1M167.7 206.1h1M166.6 219.3h1M159.8 208.4h1M161.5 222.7h1M164.9 206.8h1M163.9 207.4h1M161 205.5h1M165.9 195.9h1M167.5 196.4h1M161.7 222.9h1M167.4 210.8h1M157.7 205.9h1M157.8 221.4h1M166.2 215.8h1M160.9 217.9h1M160.2 207.2h1M163.1 206.8h1M161.5 216.5h1M165.5 201h1M158.4 195.1h1M162.7 212.1h1M176.8 209.5h1M164.6 207.8h1M156.5 204.4h1M166.6 213.7h1M166.4 199.1h1M169.7 202.7h1M164.8 209.1h1M161.6 203.7h1M169.8 207.8h1M167 198.6h1M157 202.4h1M167.2 213.1h1M163.3 204.4h1M168.6 217.2h1M162.7 216.9h1M167.3 201.4h1M165 202h1M166.5 210.1h1M164.1 209.4h1M162.5 209.7h1M164.5 212.4h1M166.7 201.1h1M165.9 219.4h1M170.7 206.3h1M165.9 202.5h1M166.7 201.8h1M172.6 218.8h1M164.5 225.1h1M166.3 213.5h1M161.8 212.7h1M164.4 207.9h1M170.8 201h1M165.4 207.4h1M170 194.8h1M159.9 206.2h1M158.6 223h1M165.4 202.3h1M158.7 224.2h1M174.9 205.6h1M169.2 199h1M159.2 211.7h1M163.5 209.6h1M161.9 215.7h1M165.9 211.8h1M164 197.2h1M167.9 206.4h1M170.1 211.5h1M163.3 205.8h1M159.5 219.1h1M166.5 220h1M163.5 204.1h1M168.8 208h1M163.6 203.9h1M167.5 216.5h1M165.5 216.5h1M163.4 195.5h1M162.4 200.7h1M167.1 214.5h1M174.3 198.1h1M167.6 210.1h1M163.7 211.3h1M167 204.4h1M164.7 221.2h1M159.1 215.2h1M165.4 206.2h1M170.4 214.8h1M162.9 205.5h1M159.7 213h1M166.2 214.6h1M171.5 208.3h1M168 196.3h1M168.3 194.4h1M173.4 211.6h1M170.7 210h1M167.1 211.7h1M163.4 206.9h1M164.8 195.1h1M163.8 198.1h1M167.6 207.5h1M160.7 217.8h1M170.4 203.4h1M164.8 221.7h1M162.6 191h1M167.5 195.1h1M155.9 202.1h1M160.9 211.7h1M161.6 199.1h1M167.5 199.6h1M162.2 196.2h1M169.9 207.3h1M162.4 211.2h1M166.3 216.1h1M161.4 199.6h1M168.8 207.1h1M163.2 201h1M166.3 219.3h1M162.2 201.8h1M159.9 214.2h1M163.3 210.1h1M168.6 194h1M160.1 211h1M158.1 213.9h1M163 198.3h1M167.3 213.1h1M160 205.3h1M162 214.4h1M164.9 212.1h1M162.9 202.2h1M165.3 210.2h1M169 207.5h1M164.3 209.9h1M163.9 202.4h1M167.3 216h1M164 208.6h1M160.4 210.1h1M160.1 198.4h1M159.7 210h1M171.9 207h1M164 198.4h1M166.5 210.2h1M167.1 209.2h1M160.4 214.5h1M166.7 212.5h1M161.9 218.4h1M155.8 203.5h1M163.3 222h1M159.9 220.4h1M162.8 215.1h1M165.6 212.6h1M173.3 202.1h1M162.2 208.7h1M163.5 197.4h1M165.7 205.5h1M164.9 208.9h1M163.6 212.4h1M159.9 220.1h1M160.4 193.9h1M163.5 194.5h1M159.6 203.9h1M161.6 205.4h1M159.2 198.9h1M168.7 208.1h1M158.2 207.9h1M171.8 213.7h1M161.9 204.4h1M160 209h1M159.5 235.6h1M167.3 206.3h1M168.3 218.4h1M160.8 213.6h1M165.5 194.7h1M163.6 202.2h1M163.2 199.3h1M164.8 213.9h1M167.3 205.5h1M156.5 205.9h1M155.3 207h1M165 217.8h1M163.9 206.2h1M166.9 203.8h1M157.4 212.5h1M160.3 204.7h1M170.4 208.6h1M159 213h1M165.7 213.3h1M161 211.2h1M162.6 198.8h1M158.7 192.5h1M168.9 208h1M156.6 219.9h1M159.4 206h1M160.6 207.4h1M168.9 212.7h1M165.4 207.3h1M166.9 219.1h1M164.1 216.1h1M165.1 194.4h1M166.2 209.5h1M170.4 211.7h1M165.2 206.9h1M158.3 213.3h1M168.8 203.3h1M164.6 209.4h1M159.8 205.7h1M163.5 205.8h1M160.3 217.1h1M172.5 212.2h1M162.8 211.5h1M156.2 213.7h1M165.4 220.1h1M160.9 204.9h1M169.4 216.7h1M164.7 221h1M157.1 209.7h1M162.2 212.7h1M159.8 218.8h1M161.2 207.5h1M161.6 212.9h1M156.2 204.2h1M165 218.1h1M160.7 216.6h1M160.6 204.7h1M167.2 203.3h1M171.8 209.4h1M161.7 204.9h1M171.4 200.8h1M156 203.2h1M166.5 209.6h1M161.9 204.3h1M163.9 199.6h1M160.3 199.6h1M161.8 216.7h1M162.9 204.6h1M162.8 209h1M165.8 205.9h1M173.5 208.7h1M161.7 206.3h1M163.6 218.1h1M157.2 191.1h1M154.1 215.8h1M169.8 202.6h1M158.9 212.4h1M161.2 208.6h1M164.3 219.8h1M167.8 210.7h1M165.5 208.9h1M171.7 206h1M163.5 203.2h1M156.9 201.9h1M164.8 205.9h1M164.7 199.9h1M160.9 203.6h1M162.9 202.6h1M161.9 201.8h1M171.1 203.2h1M161.7 207h1M158.6 202.7h1M165.3 210.2h1M156.9 210.6h1M165.9 197.6h1M165.8 207.2h1M160.8 201.9h1M162 201.8h1M161.8 209.6h1M170.7 205.8h1M165.8 205.6h1M159.4 209.7h1M159.2 213.6h1M163.9 215.3h1M164.1 201.3h1M161.1 210.5h1M165.4 200.3h1M163.4 186.3h1M168.5 195.5h1M165.9 206.5h1M163.8 213.5h1M164.7 211.4h1M160.7 212.6h1M167.7 212.4h1M165.7 192.3h1M162.5 203.7h1M164.7 201.9h1M162.1 207.4h1M174.1 215.2h1M162.4 215.8h1M166.3 219.8h1M165.7 207.7h1M161 203.7h1M164.2 212h1M162.9 209.2h1M165.2 219.2h1M165.2 202h1M167.3 222.1h1M167.3 219h1M162.6 214.9h1M162.1 202.5h1M161.8 204.5h1M160.7 198h1M157.2 215.8h1M166.6 213.8h1M163.9 202.9h1M163.4 217.9h1M157.6 212h1M158.2 209.6h1M154.1 208.5h1M163.8 215.7h1M166.9 205.6h1M166.6 205h1M163.9 217.3h1M159.9 197.5h1M164.2 205.3h1M164.2 208.6h1M167 220.6h1M167.3 213.6h1M163.1 203.4h1M164.1 219h1M167 201h1M166 207.8h1M163.5 200h1M155.5 213.5h1M161.5 209.6h1M167.6 197.9h1M164.8 203.2h1M168 206.8h1M162.8 216.5h1M164.5 216.9h1M167.4 208.7h1M167 218h1M165.8 202.1h1M168.6 202.3h1M169.5 205.8h1M169.8 203.3h1M157.6 204.8h1M162.3 205.5h1M162.9 215h1M162.7 201.9h1M157.6 208.6h1M169.4 212h1M160.2 217h1M164.6 214.9h1M154.6 213.1h1M162.2 212.8h1M163.2 208h1M160.5 207h1M167.1 206.4h1M173.7 224.9h1M160.7 200.4h1M160.7 209.9h1M171.2 206.3h1M166.4 210h1M162.9 220.2h1M159.1 202.4h1M167.1 186.7h1M165.1 198.2h1M170.4 208.7h1M160.7 201.6h1M163.5 206.5h1M163 201.5h1M163.3 217.3h1M168.4 198.9h1M167.6 206.1h1M161.6 222.6h1M163.8 209.6h1M163.3 204.5h1M167.8 218.3h1M163.5 199.8h1M159.7 213.4h1M162.8 203.2h1M164 208.1h1M167.9 209.8h1M169.3 203h1M169.4 199.5h1M165.7 204.7h1M162.1 220.6h1M166.5 199.4h1M163.4 210.3h1M161.7 208.8h1M165.4 217.8h1M165.8 197.5h1M167.7 203.9h1M160.6 202.7h1M157.5 192.2h1M166.2 200.1h1M160.3 211.3h1M168.2 210.5h1M159.8 206.8h1M161.8 197.6h1M156.9 210.5h1M172.3 214.1h1M162.3 205.4h1M163.8 212.2h1M162 205.7h1M163.2 209.7h1M167.5 204.4h1M164.6 200.8h1M164.1 203.2h1M168.9 211.6h1M158.7 202.8h1M168.7 221.8h1M170.5 207.6h1M158.6 202.1h1M165.2 204.3h1M159 205.7h1M155.7 198.7h1M160.7 207.9h1M166.2 207h1M167.2 202.7h1M162.7 216.7h1M160.7 205.6h1M162.4 208.2h1M161.3 204.1h1M161.6 212.7h1M154.5 199.8h1M163.2 204.7h1M163.7 213.7h1M172.8 211.8h1M166.8 220.1h1M163.6 206.4h1M164.4 208.5h1M165.4 208.1h1M161.3 206.8h1M155.8 206.7h1M161.2 202.6h1M163.2 215.2h1M164.6 205.2h1M161.2 221.2h1M160.4 210.9h1M163 201.9h1M164.3 206.6h1M166.4 208.2h1M163.1 207.2h1M165.9 201.7h1M160.1 217.4h1M167.4 207.9h1M163.9 209.1h1M158.7 202h1M163.1 204.8h1M164.5 212.5h1M159.9 213.7h1M167 208.2h1M162.8 212.9h1M165.9 211.6h1M160.1 195.6h1M165.4 207.4h1M167 202.8h1M162.3 214.4h1M163.3 212.9h1M161.8 197h1M165.4 213.7h1M164.2 206.4h1M166.1 211.6h1M163.9 216.8h1M159 217.1h1M158.9 213h1M162.3 222.1h1M166 211.3h1M173.2 210h1M167.6 195.1h1M161.7 196.9h1M156 203.3h1M166.2 211.7h1M164.2 211h1M159.3 203.2h1M167.7 205.3h1M164.2 210.2h1M162.5 208.9h1M156.4 217.8h1M168 218.6h1M164.4 207.5h1M163.1 211h1M160.3 214.9h1M162.7 205.8h1M169.1 219.5h1M166.2 221.5h1M172.2 210.4h1M168.4 203.5h1M165.5 215.2h1M167.7 206h1M164.8 206h1M158.3 210.1h1M161.7 216.7h1M165.5 208.4h1M160.4 223.8h1M162.1 197.8h1M159.2 198.5h1M170.9 201.1h1M158.9 205.5h1M160 213.3h1M160.6 203h1M168 211h1M168.7 202.8h1M161.9 189.6h1M166.5 208.9h1M160.6 204.2h1M164.2 207.2h1M174.6 209.6h1M167.9 210.8h1M164 204.5h1M158.9 203.1h1M163 204h1M158.9 204.3h1M155.4 210.4h1M166.6 205.9h1M166.5 204.4h1M165 194.8h1M168.2 197.3h1M157.5 213h1M169.8 204.1h1M159.8 208.7h1M165.7 213.3h1M166 196.8h1M168.5 206.8h1M172.2 193h1M165.6 207.7h1M162.7 212.2h1M159.7 221.9h1M165.2 206.2h1M160.8 200.3h1M158.8 210.4h1M163.4 208h1M166.9 217.3h1M163 207.6h1M160 211.6h1M164.8 192.9h1M159.2 206.3h1M158.1 215.7h1M170 211h1M165.2 210.3h1M172.1 208.4h1M158.3 218.8h1M168.3 207.2h1M163.5 213.4h1M174.9 204.1h1M163.3 216.3h1M162.4 211.8h1M165.9 206.9h1M165 219.8h1M162.4 214.7h1M167.8 210.2h1M167 212.5h1M167.7 208.8h1M165.8 203.8h1M161.4 209.6h1M161.4 217.8h1M166.6 202.6h1M160.4 205.6h1M171 212.5h1M164.3 200.2h1M161 204.5h1M168.4 207.2h1M164.1 214.5h1M169 203.8h1M165 201.1h1M171.3 206.1h1M162.7 215.9h1M155.5 203.4h1M158.1 201.4h1M157.7 209.2h1M166.6 207.7h1M171.4 212.5h1M163.4 208h1M158.9 210h1M166.9 215.1h1M166 201.2h1M162.7 215.8h1M165.8 201.7h1M164.2 208.2h1M159.6 224.9h1M166.9 215.1h1M162.2 202.9h1M160.4 207.4h1M163.3 206.1h1M170.5 212.7h1M172 216.6h1M169.8 209.1h1M162.2 190.3h1M160.1 209.9h1M165.6 213.1h1M163.6 204.4h1M164.8 211.8h1M159.7 203.5h1M160.7 212.4h1M159.9 186.4h1M167.3 196.4h1M168.4 200.2h1M161.5 205.6h1M166.5 207.6h1M166.8 210h1M161.2 211.1h1M164.2 198.7h1M167.5 198.3h1M160.1 206.8h1M169.2 205.9h1M163.4 209.1h1M164.4 197.3h1M163.2 202.7h1M158.3 199.7h1M165.6 212.8h1M164.2 208.2h1M162.6 210.2h1M163.3 211h1M165.9 217.9h1M163.6 199.2h1M162.1 197.5h1M164.5 208.7h1M167.2 207.8h1M164.3 205.7h1M161 194.9h1M167.5 202.3h1M163 214h1M166.5 200.9h1M163.6 216.7h1M160.4 209.4h1M159.1 221.2h1M160.6 206h1M163.3 212.2h1M155.2 205.4h1M165.7 196.1h1M168.6 212.1h1M163.2 206.3h1M159.8 202.9h1M157.5 210.3h1M165.1 218.2h1M165.8 207.5h1M164.4 209.7h1M167 209.9h1M161.5 208h1M163.2 228.7h1M165.3 201.2h1M163.3 221.6h1M166.1 208.2h1M166.2 208h1M163.1 199.2h1M160.3 207.6h1M161.3 216.3h1M168.6 212.9h1M159.4 210.2h1M164.4 205.6h1M160.2 205.1h1M173.4 208.7h1M161.7 210.6h1M166.7 211.4h1M160.3 214.7h1M177 201.6h1M158.9 201.8h1M165.6 211.2h1M159.2 204.7h1M167.5 212.5h1M159.2 206.1h1M162.4 203.9h1M157.8 214.4h1M162.6 201.6h1M164.2 216.5h1M171.2 195.2h1M155 208.7h1M166.4 214.1h1M164.4 206.7h1M161.8 217.8h1M163.4 209.9h1M165.8 206.2h1M164 205.5h1M164 214.4h1M161.1 215.5h1M162.6 199.1h1M166.1 205.9h1M160.5 198.5h1M162.1 207.4h1M164.5 206.1h1M165.5 214.7h1M165.7 212.5h1M163.4 198.7h1M156.1 202h1M167.2 202.3h1M168.2 203h1M169 198.5h1M165.6 202.4h1M167.6 208.3h1M163 213h1M159.7 202.5h1M163.5 211.7h1M163.2 220.4h1M168.2 200h1M167.4 202.8h1M162.1 201h1M162.5 209.8h1M164 217.8h1M164.5 202.2h1M169.8 211.1h1M162.2 208.7h1M169.3 206.2h1M158.6 201.4h1M161.4 210h1M170.8 205.1h1M165.7 202.9h1M164.5 201.6h1M166.5 205.8h1M163.3 206.4h1M164.3 211.1h1M165 204.9h1M165 211.1h1M165.5 202.1h1M161.8 214.1h1M165.6 215.2h1M161.3 212.5h1M166.4 195.3h1M163.4 224.9h1M165.1 199.5h1M165.2 201.8h1M161.2 209.7h1M162 199.6h1M163.5 209.4h1M165.9 214h1M167.9 205.7h1M163.9 197.7h1M161.4 202.8h1M165.1 210.8h1M164 200.4h1M167.1 207.1h1M168.9 197.8h1M171.9 204.3h1M157.6 219.5h1M162.2 202.7h1M163.8 207.8h1M167.2 202.7h1M166.8 202h1M164.3 215.5h1M167.2 204.5h1M161.9 211.8h1M162.7 200.2h1M165.3 201.5h1M159.9 208.6h1M170.4 208.1h1M161 212h1M159.6 210.6h1M165.4 198.9h1M156.5 211.7h1M162.4 211h1M163.5 209h1M169.2 206.8h1M176.2 210.4h1M164.8 211.4h1M159 207.3h1M165.2 209.2h1M166.8 206h1M160.5 208.4h1M165.5 204.5h1M170.4 209.7h1M166.1 218.1h1M161 203.6h1M161.9 190.2h1M157.6 198.3h1M162.4 215.8h1M161.8 201.8h1M169.7 216.3h1M158 215.4h1M157.9 212.4h1M164.9 199.9h1M166.5 199.4h1M162 200.4h1M164.9 202.3h1M166.8 207.1h1M167.1 214.1h1M165.6 212.3h1M166.3 215h1M158 199.2h1M167.3 215.6h1M164.7 208.5h1M160.9 206.8h1M162.6 203.5h1M163 203.2h1M162 215.7h1M163.5 209.2h1M162.6 210h1M158.4 201.4h1M172.7 214h1M165.6 208.6h1M172.9 193.3h1M163 206.2h1M170.5 205.8h1M163.6 204.2h1M170.4 203.8h1M167.8 203.6h1M167.2 207.7h1M163.4 198.4h1M165 206.9h1M169.4 210.4h1M156.2 214.3h1M161.4 203.6h1M159.2 205.1h1M160.5 210.4h1M166.6 218.3h1M167.5 211.2h1M163.4 217.3h1M168.7 199.2h1M161.2 200.7h1M161.8 215.6h1M164.7 195.6h1M165.8 211.5h1M163.6 218.8h1M159.9 206.9h1M166.4 206.9h1M171 210.6h1M162.7 206.9h1M164.3 202.2h1M159.8 205h1M164.2 212.2h1M160.5 213.1h1M164.9 211h1M170.4 200h1M166.3 211.7h1M161.3 211.2h1M167.4 204.7h1M157.3 207.1h1M169 201.2h1M165.4 215.3h1M159.9 212.4h1M162.9 204.2h1M160.6 207.7h1M172.1 197.7h1M166.4 205h1M160.2 220.3h1M161.5 210.9h1M164.8 215.3h1M161.9 211.7h1M165.1 201.1h1M165.7 216.6h1M158.4 210.3h1M166.6 215.6h1M170.8 216.1h1M165.4 206.3h1M166.6 193h1M162.1 214.2h1M162.1 217.3h1M165.4 215.6h1M160.7 213.8h1M157.7 201.2h1M167.4 197.8h1M161.6 209.2h1M165 211.7h1M164.6 206.5h1M165.8 209.7h1M166.5 211.8h1M166.2 201.4h1M163 208.6h1M167.4 202.7h1M162.7 205.8h1M165.6 204.2h1M161.7 203.6h1M164.5 218.7h1M160.8 194.9h1M169.7 202.8h1M165.4 205.7h1M161.2 189.4h1M157 206.9h1M161.3 207.1h1M169.3 205.4h1M161.6 208h1M168 197.4h1M163.3 206.6h1M162.8 188.6h1M159.9 207.4h1M165.3 201h1M168.2 206.5h1M167.2 216.3h1M166.2 204h1M160 220.7h1M164.5 215.6h1M159.5 200.3h1M160.7 218.9h1M165.5 206.6h1M159.8 202.3h1M166 210.9h1M162.8 211.3h1M169.7 203h1M163.4 212.1h1M165.9 204h1M168 212.9h1M166.3 215.8h1M166.5 212.2h1M157 208.9h1M167.5 204.3h1M157.5 208.7h1M161.2 201h1M154.1 219.9h1M162.5 213h1M161.2 217.1h1M162.9 203h1M159.9 210h1M163.2 202.4h1M160.9 206h1M163.1 207.3h1M167.1 202.8h1M155.2 197h1M163.6 214.2h1M163.2 211.4h1M157.7 208.3h1M162.1 213.6h1M169.5 210.9h1M165.3 204.7h1M161.6 212.1h1M166.7 215.2h1M165.3 215.3h1M158.7 209.8h1M162.4 214.6h1M163.7 204.6h1M163.9 215.1h1M165.2 204h1M163.9 211.4h1M164 204.2h1M161.7 199.5h1M162.4 207h1M161.8 226.3h1M165.9 209.6h1M163.4 207.5h1M161.5 207.9h1M166.9 214.7h1M173.5 204.3h1M163.3 210.4h1M168.9 221.9h1M161.8 200.2h1M164.8 208.4h1M167.6 215h1M168.5 215.5h1M172.5 204.2h1M162.2 211.5h1M164.4 202.1h1M169.5 205h1M169.3 201.3h1M160.8 197.7h1M164.1 207.8h1M168.2 209.1h1M169.1 194.6h1M160.4 210.9h1M165.6 199.3h1M155.3 217.9h1M168.3 216.2h1M171.2 212.2h1M159.8 208.9h1M163.3 198.8h1M158.5 208.5h1M162.4 204.7h1M166.4 195.5h1M166.5 216.5h1M165.8 212.7h1M158.6 204.7h1M160.8 211.9h1M171.7 200.9h1M165.1 207h1M162.5 207.4h1M165.2 204.9h1M161.9 212.8h1M164.9 211h1M161.1 207.6h1M161.5 213.6h1M157.9 229.9h1M171.2 221.3h1M167.1 202.8h1M166.7 206.2h1M167.7 213.6h1M163.7 213h1M159.9 205.1h1M166.3 216.4h1M167 206h1M166.4 202.2h1M162.6 208.9h1M158.2 208h1M167.4 211.3h1M165.8 212.1h1M164 205.9h1M163.3 203.3h1M163.7 217.2h1M162 215.1h1M158.3 201.9h1M163.8 210.9h1M162.5 206.6h1M165.5 212h1M163 201.9h1M165.3 216.6h1M159.4 207h1M166 202.2h1M172.5 205.6h1M163.8 215.5h1M166.7 205.7h1M167.7 194.9h1M165.6 219.2h1M165.2 209.5h1M158 205.5h1M161 201.6h1M170.4 205.3h1M165 205.2h1M165.1 199.4h1M172 211.7h1M157.4 217.5h1M168.4 214.8h1M166.8 196.9h1M156.4 205.2h1M161.7 195.4h1M165.9 199.9h1M161.4 203.1h1M161.2 198.4h1M166.6 216.1h1M163.5 204.8h1M165 207.7h1M163.6 203.4h1M164.8 214.4h1M165.4 206.1h1M173.1 213.2h1M165.8 212.3h1M161.4 215.8h1M165.7 221.2h1M165.3 201.9h1M177.4 211.1h1M158.5 213.5h1M167 210.6h1M165.3 202.9h1M170.3 210h1M160.1 218h1M159.3 210.3h1M165.6 216.4h1M167.6 205.7h1M166 206h1M166.7 209.9h1M164 198.4h1M168.2 214.6h1M164.7 207.1h1M162.2 215.9h1M170.1 214.3h1M160.8 218.2h1M157.8 210.7h1M162.6 211.9h1M163.7 200.6h1M164 203.3h1M163 213.1h1M165.7 223.8h1M162.9 199.6h1M160.7 212.9h1M169.8 192.6h1M163.5 212.1h1M168.6 211h1M164.9 217.8h1M166.2 199.8h1M170.4 209.1h1M156.8 204.7h1M168.7 191.2h1M164.5 207.2h1M167.7 203.3h1M162.4 206.7h1M164.2 208.4h1M163.6 204.5h1M159.8 205.8h1M164 212.7h1M171.4 205.2h1M169.3 215.9h1M169.8 208.8h1M163.3 214.1h1M163.5 210.7h1M162.4 214.9h1M156 208.2h1M163.2 201.8h1M161.2 209.1h1M167.7 211.2h1M167.9 206.5h1M166 207h1M160.6 212.6h1M161.8 215.9h1M169.6 206.2h1M165.5 201.7h1M168.2 219.6h1M162.4 214.3h1M168.1 208h1M162.9 207.4h1M162.3 214.8h1M165.3 215.5h1M161.3 211.4h1M159.6 208.3h1M169.7 201.8h1M167 217.6h1M162.3 218.5h1M164.1 192.1h1M168.7 217.8h1M162.2 214.1h1M154.5 204.3h1M173.3 199.5h1M158.3 210.4h1M162.4 207h1M155.4 198.7h1M155.4 189.9h1M165.5 206.7h1M159 209.9h1M166.7 209.9h1M163.6 205.7h1M163.5 210.9h1M166.7 196.3h1M166.8 201.8h1M169.6 213.9h1M158.7 202.8h1M161.2 221.4h1M166.9 220.2h1M167.3 206.2h1M162.1 203.3h1M159.3 216.5h1M164.2 217h1M152.2 202.3h1M157.5 208.7h1M168.7 207.4h1M159 203.4h1M172.4 215.7h1M164.7 204.7h1M165.3 203.7h1M175 205.4h1M167.8 215.5h1M162.9 209.4h1M162 194.1h1M161.6 203.4h1M155.9 217.7h1M165.7 214.6h1M164.3 212.1h1M161.4 215h1M167.7 215.6h1M161.8 221.4h1M157.1 207.6h1M159.7 205.5h1M163.9 202.4h1M165.4 207.8h1M171.6 205.5h1M162.5 195.5h1M166.2 200.4h1M168.1 199.5h1M166.5 219.5h1M165.2 212.3h1M159.5 199.3h1M162.5 212.7h1M172.7 211.7h1M164.8 210.5h1M163.9 204.5h1M159.4 199.8h1M165.1 220.6h1M171 204.8h1M161.7 208.3h1M160.4 195.6h1M163.8 192.1h1M162.1 207.2h1M161.4 210.9h1M172.7 207.9h1M167.1 219.1h1M158.3 204.8h1M163.7 203.7h1M167.6 217.5h1M162.8 200h1M167.2 211.5h1M159.4 199.6h1M166 196.7h1M163.7 208.2h1M166.2 208.1h1M163.7 209.5h1M161.3 212h1M165.5 214.1h1M165.8 210.5h1M166.5 212h1M158.5 211.5h1M161.9 209.3h1M163 203.7h1M162.8 199.2h1M162.5 205.7h1M164.3 199.3h1M169.3 222.6h1M170.8 207.8h1M168.6 206.4h1M166.1 210.8h1M150.9 200.3h1M161.3 205.5h1M166.1 204.4h1M160.3 229.7h1M168.4 206.2h1M161.3 198.7h1M164.6 220.4h1M162.2 224.1h1M165 214.6h1M158.2 205.8h1M162.7 203.1h1M160.5 204.2h1M159.5 209.8h1M157.4 200.2h1M167.8 203.4h1M159.5 209.9h1M166.8 203.9h1M163.3 205h1M165.7 203.9h1M163.8 209.2h1M163.6 207.8h1M158.8 214.4h1M174.4 210.8h1M168 206h1M167.8 205.4h1M155 219.9h1M161.1 211.6h1M160.9 204h1M164.5 215.9h1M161 205.5h1M166.3 212h1M164.2 202.9h1M166.9 212.8h1M168.2 201.2h1M160.4 214.5h1M161.3 208.9h1M160.1 208.5h1M167 222.9h1M163.3 215.4h1M162 211.4h1M158.6 210.4h1M165.1 203.3h1M163.6 211.9h1M164.2 212.7h1M162.3 222.9h1M158 204.2h1M168.7 205.5h1M163.7 210h1M164.7 210.3h1M160.8 206.8h1M169 201.8h1M160.4 205.4h1M161.8 213.3h1M160.2 208.1h1M159.3 202h1M166.8 217.5h1M161.9 205.7h1M159.6 204h1M163.1 220.5h1M162.6 211h1M163.9 204.5h1M161.4 207.6h1M164.7 206.6h1M157.1 206.5h1M160.1 201.5h1M166.6 204h1M167.1 212h1M156.6 205.5h1M165.2 205.5h1M163.6 209.4h1M168.3 215.7h1M159.5 197.5h1M165.3 213.3h1M167.1 198.2h1M158.3 204.6h1M161.1 195.3h1M167.5 193.4h1M162.8 207.5h1M167.3 201.5h1M164.4 210.4h1M158.3 198h1M164.2 206.9h1M165.3 214.1h1M161.6 209.7h1M167.9 208.1h1M158.5 199.3h1M163.6 209.9h1M162.5 211.5h1M160.6 216.3h1M158 202.9h1M155.7 201.7h1M158.9 206.2h1M163.1 212.9h1M161.5 207.9h1M163.2 206.8h1M162.9 207.7h1M162 210.8h1M164.7 201.5h1M167.2 213.1h1M157.9 203.7h1M164.8 218h1M157.3 210h1M172.5 203.1h1M160.1 200h1M162.3 207.9h1M167.3 208.5h1M165.5 211.1h1M167.5 208.9h1M169.5 196.7h1M162.6 216.5h1M171.7 211.5h1M161.3 202.7h1M162.7 202.1h1M167.3 209.5h1M154.5 202h1M161.3 211.3h1M163 213.3h1M167.2 197.8h1M161.1 206.2h1M167.3 205h1M159.7 218.5h1M167.8 208.1h1M166.9 214.3h1M161.9 208.5h1M162.8 202.2h1M163.2 208.2h1M162.4 212.1h1M161.6 209.3h1M169.3 208.6h1M165.6 210.3h1M165.7 221.8h1M157.8 204h1M163.8 203.9h1M168.3 203.3h1M164.4 205.8h1M161.9 201h1M163.6 210.1h1M167.1 204.9h1M163.3 203.3h1M155.5 204h1M160.9 212.7h1M164.5 203.8h1M157.7 209h1M163.9 201.4h1M165.8 209.2h1M172.8 207h1M169.7 215.3h1M165.5 218.3h1M156.9 202.6h1M165.1 211.1h1M158.2 207.2h1M159.8 217.4h1M168.4 210.5h1M160.8 209h1M166.6 204.6h1M164.7 203.1h1M167.7 203.8h1M163.2 198.5h1M163.4 207.9h1M170.1 204.4h1M166.8 212.6h1M165.5 209.1h1M164.1 224h1M166.3 212.6h1M163.6 201.3h1M166.5 187.6h1M163.7 212.4h1M157.3 207.6h1M157.4 210.6h1M161.4 202.5h1M172.1 203.7h1M169.6 205.8h1M162.6 221h1M160.9 196.4h1M162.1 216h1M163.2 201.7h1M169 209.1h1M161.8 214.2h1M158.2 201.3h1M162.1 213.6h1M159.3 212h1M170.2 204.5h1M163.5 220.8h1M164.5 202.9h1M163.9 216.4h1M156.4 208.8h1M165.1 204.4h1M166.1 201.2h1M162.5 201.9h1M165.6 209.4h1M162.7 218.6h1M163.7 210.2h1M167.3 204.9h1M162.5 214.6h1M166.2 210.4h1M164.5 209.8h1M164.2 204.8h1M162.1 201.2h1M161.3 208.4h1M164.2 215.6h1M168.9 205.3h1M165.7 215.9h1M169 199.5h1M164.3 209.5h1M157.9 208.9h1M168.9 218.6h1M164 218.8h1M168.6 212.3h1M167.2 208.8h1M167.6 212.9h1M166 213.3h1M152.4 207.5h1M167.6 216.2h1M165.4 207.3h1M167.2 205.1h1M167.8 211.6h1M165.5 211.7h1M166.9 212.9h1M158.4 214.1h1M164.6 212.8h1M167.1 206.9h1M166.8 220.9h1M160.7 206.6h1M156.9 207.6h1M161.8 220h1M164.4 204.9h1M165.3 207.8h1M170.7 210.4h1M169.2 206h1M161.2 204.8h1M166.7 202.6h1M162.6 212.7h1M167.4 214.2h1M161.5 202.6h1M169.4 198.6h1M162 210.3h1M162.8 204h1M160.5 214.3h1M167.5 212.5h1M164.5 223h1M165.9 207.1h1M167.2 209.2h1M160.8 207.3h1M170.8 209.2h1M167.3 211h1M165.1 215h1M164.2 217.9h1M163.2 209.3h1M162.1 214.2h1M167.9 200.9h1M165 205.6h1M164.1 213.6h1M162 207.4h1M164.9 206.5h1M172.4 200.6h1M166.1 204.2h1M156.3 206.3h1M155 209.6h1M167.1 213.9h1M158.7 199.3h1M165.4 209.9h1M166.7 214.4h1M167 197.5h1M172.1 206.3h1M162.6 209.9h1M165.1 203.1h1M161.8 207.3h1M159 214h1M161.1 209.6h1M170 207h1M170.1 199h1M161 214.8h1M167.5 201.4h1M163.5 202.6h1M167.8 209h1M160.7 202.7h1M165.5 202.1h1M164.8 215.5h1M160.8 206.4h1M162 201.4h1M162.3 201h1M164.3 221.1h1M170.9 199.9h1M170.7 208.5h1M170.7 207.7h1M166.7 207.5h1M168.2 211.5h1M160.3 214.8h1M164.5 211.9h1M168.8 197h1M165.8 205.3h1M161.7 208.9h1M166.3 197.3h1M165.2 204.7h1M165.1 201.1h1M162.2 192.1h1M167 203.3h1M163.7 199.8h1M161.3 201.6h1M164.3 200.2h1M166.6 214.4h1M169.8 206.1h1M168.9 206.5h1M157.3 200.3h1M168.6 210.5h1M166.7 202.6h1M166.3 203.1h1M169.9 212.2h1M171.1 206.8h1M167.1 222.7h1M164 212.2h1M162.3 207.2h1M165.3 207.4h1M166 210.9h1M161.7 209.1h1M171.4 218.3h1M170.7 194.8h1M168 204.5h1M172.2 222.8h1M168.1 212.3h1M163.1 199.4h1M168.2 208.4h1M172.7 215.1h1M163.6 201.7h1M159.5 209.8h1M168.5 226.2h1M157.7 208.9h1M160.5 207.3h1M166 206.8h1M162.9 205.2h1M171.4 205.4h1M164.6 207.7h1M167.1 212.5h1M169 206.1h1M164.7 207h1M166.6 208.6h1M157.3 202.1h1M172.6 200.1h1M164.9 205h1M163.4 212.9h1M162 211.4h1M165.3 198.1h1M162 215.8h1M165.3 217.5h1M161.8 208.3h1M158.6 211.1h1M161.3 221.6h1M161 211.7h1M165.8 200.1h1M164.8 214.9h1M162.2 206.5h1M165.6 209.8h1M161.7 212.4h1M164.1 203.2h1M163.1 202.7h1M165.9 216.3h1M160.7 201.4h1M163.6 210.6h1M164.1 209h1M159.8 204h1M164.4 215.3h1M164 222.9h1M167.9 204.7h1M159.8 200.6h1M158.4 225h1M157.8 213.3h1M165.1 202.2h1M162.1 208.8h1M160.2 209.7h1M165.1 207h1M167.6 203.6h1M171.7 205.9h1M169.1 209.7h1M161.6 206.8h1M170 201.5h1M161.2 211.1h1M165.9 213.8h1M167.3 203.3h1M158.3 224.2h1M164.7 208.9h1M164.6 220.5h1M172.9 200.5h1M161.8 211.8h1M167.2 212.9h1M163.5 212.6h1M164.5 213.1h1M160.5 197.3h1M168.1 194.4h1M169.2 212.7h1M168.9 210.9h1M157.4 208.1h1M156.8 199h1M163.9 204.9h1M168.7 203.1h1M167.4 202.7h1M163.2 216.5h1M161.4 205.2h1M170.9 202.9h1M169.9 198.9h1M161.3 206.3h1M163.9 215.6h1M163.8 210.9h1M172.5 201.8h1M167 201.3h1M168.7 213.6h1M160.7 207.8h1M165.3 211.1h1M163.8 205.1h1M164.8 206h1M165.8 201h1M163.9 213.7h1M160 193.9h1M168.9 219.5h1M160.4 212.2h1M161 202.9h1M156.9 203.4h1M165.6 213h1M164.7 218.3h1M161.6 206.2h1M160.7 207.7h1M164.9 216.9h1M163 210.5h1M160.1 207h1M166 209h1M167.8 213.7h1M165.7 209.8h1M167.6 205.5h1M165.2 207.1h1M170.4 210.2h1M167.8 208.1h1M162.9 201.1h1M168.6 206.6h1M165.7 213h1M162.2 198.6h1M161.5 213.5h1M163.1 211.1h1M156.4 213.6h1M161.2 207.1h1M162.3 219h1M158.1 208.4h1M160.8 210.8h1M160.3 212h1M158.1 196.2h1M163.7 205.1h1M165 212.9h1M165.6 211.4h1M168.8 205.7h1M163.5 203.3h1M162.3 216.2h1M164.2 212.2h1M169.2 212.8h1M170.5 204.2h1M162 219.3h1M165.8 214h1M163.6 210.1h1M166.5 217.6h1M154.5 213.9h1M162.5 214.9h1M156.7 209.7h1M151.7 210.3h1M165.7 205h1M160.5 213.1h1M169.3 210.7h1M167.4 207.1h1M169.2 199.7h1M167.5 200.3h1M162.4 200.8h1M165.7 209.5h1M158.2 207.7h1M159.4 200.6h1M166.2 202h1M171.4 208.5h1M165.1 203.5h1M159.7 212.1h1M163.9 212.8h1M166.6 205.7h1M168.3 209.8h1M164.8 210h1M171.1 202.4h1M168.6 215.8h1M165.8 206.7h1M162.8 215.6h1M173.9 207.4h1M162.5 218.3h1M163 214.6h1M160.6 214.4h1M165.2 219.3h1M157.2 219.7h1M166.4 209h1M157.7 211.3h1M166.8 194.2h1M158.4 196h1M159 207.8h1M161 221.2h1M164.8 210.9h1M163.1 210.3h1M160 209.7h1M163.3 203.5h1M166.3 203.9h1M156.8 197.9h1M169.1 211.6h1M164 207.1h1M153.4 219.6h1M164.7 214.6h1M163.3 202.6h1M162.2 210.2h1M162.7 210h1M162.4 198.5h1M167.1 206.9h1M164.9 204.8h1M166.6 209.8h1M163.3 211.8h1M169.3 202.4h1M163.5 216.6h1M166.5 206.5h1M163.5 204.1h1M163.6 204.9h1M167.8 213.9h1M167.6 212.4h1M164.5 209h1M164.7 213.6h1M162.8 218.2h1M166.8 207.4h1M165.7 218h1M167.6 210h1M165.1 214.9h1M164.2 204.7h1M167.7 212.8h1M163.7 207.7h1M167.2 202.4h1M168.4 212.7h1M170.1 203.2h1M165 207.3h1M165.4 207.4h1M168 212.2h1M164.9 207.2h1M166.6 207.6h1M165 206.6h1M164.3 203.2h1M161.6 213.7h1M165.1 209.9h1M166.8 214.1h1M165.6 205.1h1M163.6 198h1M165.5 208.7h1M170.5 209.1h1M164.6 205.3h1M162.1 195.5h1M171.2 216h1M162.7 200.5h1M170.6 210.1h1M166.9 204.2h1M159.4 216.7h1M164.1 207h1M163.9 199.8h1M163.9 216h1M163.8 200.9h1M167.4 204.6h1M166.3 209.5h1M170.3 210.3h1M164 206.4h1M164.6 217h1M167.6 201.3h1M164.7 205.2h1M163.3 206.8h1M166.3 198.3h1M161.1 203.6h1M160.6 201.9h1M163.2 205.7h1M167.1 209.2h1M168.3 207.7h1M161.1 210h1M162.9 215h1M166.3 207.1h1M166 200.4h1M161.7 217.7h1M168.4 211.8h1M163.8 204.3h1M164.5 199.2h1M162.3 210.6h1M169.2 208.8h1M169 193.6h1M163.9 208.2h1M169.7 206.2h1M168.8 209.1h1M167.5 196.3h1M164.7 204.5h1M168.2 216.1h1M162.2 189.7h1M162.8 201.7h1M163.8 203.3h1M167 210h1M169.8 201h1M157.5 206.2h1M164.3 213.6h1M161.7 205.5h1M166.5 203.1h1M159.4 205.4h1M171.5 208.5h1M162.4 201.3h1M170.1 217.1h1M159.7 190.3h1M166.6 206.7h1M171 220.1h1M169.6 208.5h1M160.1 208.4h1M159.9 211.4h1M158.4 210.2h1M166.3 207.6h1M158.6 207.6h1M171.7 206.2h1M167.7 198.1h1M170.3 199.1h1M162.6 203.5h1M163.7 203.3h1M164.6 207.3h1M159 204.5h1M159 201.7h1M165 214h1M162.9 209.1h1M164.2 205.4h1M159.8 204.7h1M166.8 219.2h1M169.7 212.2h1M165.9 197.5h1M162.4 211.5h1M167.6 218.1h1M167.6 208.9h1M165.4 212.4h1M160.7 211.8h1M156.6 206.1h1M171.6 214.9h1M166.2 214.4h1M162.9 201.7h1M161.5 224.2h1M155 209h1M168.4 207.3h1M163.9 225.7h1M165.4 215h1M163.8 205.5h1M163.9 211.7h1M166.3 215.3h1M159 208.6h1M161.6 206.3h1M166.3 214h1M168.8 204.5h1M165.8 206.7h1M166.2 206.1h1M160.7 211h1M161.6 209.7h1M165.3 206.2h1M164.8 195.7h1M163.5 210.5h1M164.2 202h1M157.9 228.4h1M158 203.5h1M166.8 208.2h1M164.3 200.5h1M161.1 193.9h1M165.4 207h1M178.2 201h1M161.8 213.2h1M165.8 218.2h1M164 203h1M162 201.3h1M161.2 216.4h1M168.6 211.2h1M162.1 220.5h1M157.2 211.5h1M171.3 219.5h1M161.7 198.7h1M167.2 213.6h1M165.3 202.6h1M162.9 203.1h1M171.1 213.8h1M160.5 208.7h1M165.4 213.7h1M166 213.4h1M158.3 219.6h1M160.9 202.8h1M167.5 212.1h1M172.3 193.3h1M166.9 215.4h1M154.9 215.3h1M168.6 212.1h1M157.6 206.5h1M160.6 209.2h1M164.1 208.5h1M164.9 201.9h1M163.6 208.6h1M163.1 215.3h1M173.7 211.4h1M158.3 207h1M165.3 211h1M168.4 218.9h1M167 202.1h1M157.6 213.5h1M169.7 203.8h1M169.5 211h1M160.8 199.3h1M161.5 217.5h1M169.7 219.7h1M164.9 204.4h1M160.1 203.5h1M166.2 210.8h1M160.9 223.6h1M160 211.5h1M155.7 211.9h1M165.7 204.9h1M160.9 207.1h1M160.2 202.1h1M162.2 205.3h1M167.3 193.4h1M163.7 213.5h1M167.8 205.3h1M163.7 212h1M168.7 203h1M170.9 206.5h1M164.2 203.7h1M163.9 202.5h1M157.5 213.8h1M162 206.2h1M171.1 209.6h1M167.1 203.8h1M157.6 218.5h1M160.1 210.3h1M161.6 209.4h1M164.3 210.1h1M164.5 221.2h1M164 195.6h1M165.8 214.2h1M164.1 197.3h1M161.7 216.8h1M165.1 223.2h1M153.5 207.5h1M160.4 206.3h1M163.5 208.4h1M166.6 201.6h1M166.5 205.2h1M169.3 210.2h1M168.9 221.6h1M165 197.2h1M164.8 210.2h1M166.4 199h1M162.1 214.8h1M162.4 212h1M165 215.2h1M159.8 209.6h1M164.9 210.1h1M165.2 196.4h1M169.9 213.2h1M159.2 206.8h1M161.7 213.1h1M169 205.6h1M161.7 199.8h1M165.4 203.6h1M161.2 206.2h1M169.4 208.2h1M158.8 205.6h1M162 208.7h1M160.9 200.7h1M169 205.1h1M164.5 209.1h1M156.9 206.2h1M170.7 215.9h1M158 210.8h1M165 208.3h1M167.7 210h1M161.8 195.4h1M161.2 202.3h1M158.7 200.5h1M157.5 204.6h1M174.3 198.1h1M168.3 200h1M169.1 207.7h1M157 206.7h1M161.8 211.5h1M158.4 206.3h1M167.1 215.2h1M171.3 213.6h1M161.4 203.1h1M161 198.6h1M169.6 201.7h1M159.4 199.7h1M166.6 208.6h1M161.9 203.4h1M167.1 207h1M162 215.3h1M157.7 217.3h1M164.8 190.6h1M158 200h1M165.9 203.2h1M171.8 221.2h1M169.3 204.1h1M158.5 213.2h1M157.5 208.7h1M153.7 197.8h1M159.9 208.8h1M158 212.2h1M160.1 216.1h1M172 208.2h1M165.6 207.5h1M164.6 184.9h1M161.3 206.9h1M164.7 215.5h1M166.2 222.5h1M164.8 214.3h1M167.7 212.9h1M168 217.7h1M161.5 206.2h1M159.9 202.8h1M169.5 187.7h1M158.4 201.1h1M165.6 213.6h1M165.3 207.3h1M170.8 205.2h1M161.2 200.2h1M158.3 206.1h1M170.3 200.6h1M160.7 208.9h1M154.7 203.7h1M158.9 210.7h1M164 214.8h1M169.1 208.2h1M166.2 204.1h1M163.8 213.1h1M160.9 217.3h1M164.4 197.3h1M166.8 208.1h1M161 211.6h1M165.1 200.8h1M171.2 220.5h1M163.5 208.7h1M163.1 220.7h1M163.2 198.4h1M165 197.4h1M161.6 215.3h1M167.8 201.5h1M166 217.1h1M167.1 207.2h1M162.6 214.3h1M167.6 217.1h1M170.8 216.2h1M163.4 210.5h1M163 211h1M164 203.5h1M161.5 206.2h1M163.1 210h1M168.9 214.4h1M165.4 207.2h1M162.9 223h1M162.5 198h1M160.6 208.4h1M167.7 213.6h1M160.7 204.4h1M164.3 199.3h1M164.5 205h1M157.4 206.2h1M163.1 202.1h1M165.8 213.4h1M155.3 208.5h1M158.8 205.2h1M164.1 213.1h1M162.8 207.5h1M165.5 209.5h1M168.5 197.1h1M164 204.8h1M165.3 210.4h1M165 218.5h1M155.3 201.3h1M162.2 197.7h1M163.1 204.7h1M167.6 203.9h1M162 210.7h1M166.2 200.4h1M166.4 213.7h1M158.9 210.2h1M157 210.1h1M168.5 208.1h1M160.8 208.3h1M168.2 213.7h1M164.4 204.6h1M166.9 209.5h1M156.3 204.6h1M172.7 193.7h1M153 208.7h1M158.6 210.3h1M165.3 199.1h1M168.6 208.9h1M166.9 207.7h1M167.6 199.6h1M159.8 200.8h1M165.7 206.2h1M169.6 214.3h1M157.6 202.6h1M159.6 207.1h1M165 216.7h1M169.8 199.3h1M167.1 218.4h1M159.9 193.7h1M161.9 208.9h1M162.7 200.2h1M158 203.5h1M172.4 195.8h1M162.2 211.4h1M161.7 205h1M157.2 211.7h1M164.9 203.8h1M163.9 203.7h1M169.2 199.8h1M167.7 197.4h1M163.7 202.9h1M166.5 207.3h1M171.9 209h1M161.3 209.9h1M162.6 200.3h1M167.2 199.7h1M161.8 221.5h1M166.1 210.8h1M159.9 216.3h1M167.5 204.4h1M167 206.2h1M161.9 220.8h1M159.1 214.2h1M165.5 209.4h1M164.4 212.4h1M158.7 213.6h1M168.3 205.1h1M161.3 200.2h1M170.2 209.4h1M169.6 222.6h1M165.2 217.1h1M167.1 201.1h1M158.5 210.6h1M164.3 208.7h1M166.5 222.1h1M159.1 214.1h1M158.4 204.3h1M170.6 209.4h1M165.8 210.2h1M169.9 209.3h1M168.2 196.4h1M152.9 203.1h1M159.7 223.5h1M163.6 200.2h1M164.4 203h1M164.8 217.3h1M161.5 201.7h1M163.8 202.4h1M160.1 208.4h1M169.3 224.4h1M160.3 203.1h1M161.9 219.1h1M167.8 211.6h1M161.9 205.6h1M164.9 197.9h1M160.6 199.4h1M164.1 214.9h1M165.8 208.6h1M158.1 207.3h1M157.5 210.5h1M159.5 202.6h1M167.5 203.9h1M166.4 207.4h1M167.5 211.3h1M170.2 212.6h1M162.6 224.9h1M161.3 213.8h1M163.7 192.8h1M165.2 209.6h1M168.6 208.2h1M164.7 204.7h1M166.5 198.1h1M161.8 216.1h1M157.8 199.1h1M171.7 208.8h1M164.8 203.5h1M162.8 193.6h1M164.8 216h1M173.3 207.3h1M162.4 211.5h1M162.5 210.2h1M161.3 204.5h1M162.6 207.7h1M156.3 211.4h1M169.3 212.5h1M164.3 209h1M160.7 216.1h1M168.7 198.5h1M162.7 214.7h1M170.1 204.5h1M163.5 217.4h1M164 209.3h1M165.4 214.2h1M166.6 201.4h1M161.7 214.5h1M161.8 202h1M165.1 214h1M156.6 215.3h1M152.7 205.1h1M163.9 213.9h1M164.8 204.8h1M168.8 212.2h1M163.8 216.9h1M168.8 202.2h1M169.8 201.7h1M164.7 208.8h1M161.7 206.5h1M160.4 209.8h1M163.5 216.6h1M158.5 203.2h1M165.1 212.7h1M167.4 214.4h1M161.8 222.3h1M168.1 209.8h1M160.8 204.9h1M164.5 209.5h1M165.1 203.5h1M156.4 204.9h1M163.1 208.3h1M167.9 205.6h1M168.9 216.1h1M169.3 218.6h1M161.4 198.2h1M164.8 205.5h1M157.9 208.2h1M167 219h1M164.3 200.5h1M167.8 206.4h1M159 214.1h1M169.6 205.9h1M164.5 205.6h1M158.8 215.1h1M167.3 203.5h1M172.9 214.8h1M165.4 204.2h1M165.3 212.8h1M157.8 215.8h1M163.4 216h1M168.2 207.1h1M165.3 208.5h1M163.6 207.7h1M161.4 212.7h1M171.9 208.3h1M162 213.7h1M157.5 215.2h1M165.1 215.7h1M162.9 211.2h1M162.6 209.5h1M161 218.5h1M160.7 208.1h1M159.6 211h1M168.3 201.3h1M160.2 211.2h1M160.5 212.8h1M165 203.9h1M167 214.3h1M165.6 194.1h1M163 197.2h1M161.5 206.9h1M164.5 211.5h1M162.2 220.6h1M163.2 198.8h1M167.9 217.9h1M163.9 214.3h1M167.6 222h1M161.8 194.8h1M162.9 198.7h1M164.2 198.1h1M165.5 214.5h1M159.7 212.9h1M160.3 201.5h1M171.5 211h1M165.3 211.5h1M162 208.8h1M157.6 208.8h1M161.8 205h1M168.3 200.8h1M169.5 203.5h1M159.5 223.7h1M164.3 213.4h1M166.8 209.9h1M167.1 215.2h1M164.9 214.9h1M164.2 204.5h1M165.9 202.4h1M162 212.5h1M165.5 202.2h1M167.1 201.9h1M162.8 215.8h1M169.5 201.9h1M168.1 208.3h1M162.1 210.9h1M162.2 214h1M165.1 205.1h1M165.8 205.5h1M166.1 212h1M165 204.1h1M163.6 207.8h1M173.2 202.7h1M171.9 206.6h1M166.3 210.9h1M166.4 216.7h1M166.9 204.1h1M168.8 219.8h1M165.9 207.8h1M169.1 207.6h1M156.9 214.2h1M161.5 209.8h1M161.6 211h1M157.8 201h1M162.6 205h1M161.8 206.6h1M160.5 207.1h1M159.9 213.2h1M166.3 209.3h1M160.7 198.3h1M166.3 197.2h1M160.8 204.4h1M164.7 206.4h1M158.7 207.5h1M157.1 204.3h1M165.8 217.3h1M163.9 207.1h1M173.2 215.5h1M166.7 217.5h1M166.1 209.4h1M165.4 206.7h1M162.5 207.7h1M166.8 207.2h1M164.7 236h1M162.7 207.7h1M169 221h1M162.5 230.4h1M161.5 225.4h1M169.1 238.2h1M159.3 226.9h1M159.6 228.1h1M165.2 231.6h1M162.3 216.9h1M165.1 228.2h1M169.9 237.8h1M169.3 231.8h1M161.3 234.3h1M165.6 231.2h1M170.3 236.5h1M161.8 233.7h1M161.7 235h1M159.5 238.3h1M163.2 224.7h1M165.2 230.3h1M157.7 228h1M163.1 230.1h1M162.2 230.5h1M165.7 238.7h1M162.7 225.8h1M161.4 234.2h1M165.8 239.3h1M161.9 237.1h1M161.8 205.9h1M161.7 223.2h1M159 226.3h1M163 239.8h1M158.3 226.8h1M164.8 228.4h1M168.6 232.1h1M170.6 230.6h1M157.4 231h1M163.6 229.3h1M154.9 231.8h1M161.9 217.9h1M161.1 240.5h1M154.7 233.4h1M163.4 232.4h1M155 220.6h1M167.2 219.5h1M161.6 236.4h1M160.9 218.6h1M158.6 235.7h1M160.6 233.9h1M168 223.9h1M169.7 232.4h1M166.6 227h1M167.5 235.6h1M170.5 228.7h1M163.3 243.3h1M162.6 224.2h1M159.6 220.2h1M157.3 239.9h1M161.3 223.8h1M166.8 224h1M174.4 228.9h1M155.1 231.9h1M165.2 226.3h1M165.8 221.5h1M165 234.2h1M171.9 232.2h1M160.4 227.3h1M164.3 220.1h1M159.7 215.2h1M169.5 235.2h1M168.4 236.9h1M166.9 237.1h1M167.6 223.3h1M168.1 242h1M169.2 225.6h1M165.8 226.3h1M158.7 229h1M164.3 233.5h1M169 230.6h1M165.5 230.8h1M160.2 228.2h1M164.5 224.4h1M165.6 236.1h1M157.2 231.6h1M164.7 226.5h1M164.8 227.9h1M161.3 221.4h1M166.2 245.3h1M166.6 237h1M163.7 234.6h1M163.4 221.3h1M156.9 241h1M167.7 231.6h1M161.2 231.2h1M167.5 237.6h1M167.9 233.8h1M161.5 224h1M169 239.2h1M163 237.2h1M161.1 228.2h1M164.5 219.5h1M158.3 223.2h1M169.5 237h1M159.4 224.5h1M164 224.7h1M160.7 223.9h1M168 221.2h1M159 234h1M164 248.2h1M166.4 226.8h1M171.1 240.9h1M169.8 240.9h1M164.8 237.7h1M167.8 231.1h1M165.7 238.2h1M161.2 230h1M163.3 246.9h1M157.5 231.2h1M171.3 215.8h1M173 215.1h1M165 224.4h1M163.9 232.9h1M162.5 226h1M161.5 243h1M164.9 230.8h1M170.7 238.3h1M160.3 216.6h1M164.9 242.5h1M170.5 241.1h1M157.6 223.1h1M163.4 233.8h1M160.5 233.2h1M160 226.6h1M169.9 231.5h1M170.3 233.8h1M161.7 235.5h1M159.1 243.9h1M166.1 229.4h1M164.3 219.3h1M165.5 233.4h1M167.2 233.8h1M163.7 228.2h1M163.6 226.4h1M159.1 230.7h1M169.1 230.2h1M159.9 229.8h1M157 233.7h1M163.7 220.8h1M164.9 225.2h1M164.2 218.1h1M154.7 241.7h1M163 226.9h1M160.9 241.1h1M168.5 231.4h1M171.9 239h1M161.3 236h1M157.8 234.4h1M163.7 212.9h1M164.2 234.4h1M161.4 229h1M163 228h1M163.8 225h1M159.3 227.9h1M167.2 233.1h1M162.1 219.4h1M165.8 234.3h1M171.4 234.3h1M167.4 215.7h1M171.4 226.2h1M161.3 227.5h1M168.8 227.3h1M166.8 209.7h1M161.7 228.4h1M161.5 233.6h1M166.1 227.9h1M167.4 234h1M162.9 227.7h1M163.5 229.9h1M174.8 230.8h1M160.5 233.5h1M158.7 229.5h1M175 229.2h1M160.1 235.4h1M162.7 243.5h1M163.4 223.3h1M171 225.4h1M166.7 222.6h1M164.9 227.6h1M170.2 235.8h1M161.2 226.5h1M161.9 228.5h1M167.5 237.2h1M164 227.8h1M155.8 239h1M166.4 229.1h1M163.9 240.1h1M169 223.8h1M164.2 236.5h1M158.1 227.3h1M167.3 227.5h1M163.9 228.4h1M163.8 238.1h1M164.3 244.9h1M168.8 244.4h1M164.2 235.2h1M166.6 228.5h1M164 234.8h1M166.3 235.4h1M162.6 229h1M157.9 231.4h1M165 231.3h1M166 226.3h1M159.5 225.7h1M163.1 221.4h1M162.8 216h1M158.7 218.8h1M154.9 232.1h1M168.4 232.1h1M167.1 222.9h1M165.8 221.1h1M158.4 232.6h1M166.4 223.7h1M170.4 242.8h1M164.1 223.6h1M166.1 234h1M163.8 234.1h1M163.6 229.4h1M159.8 227.7h1M156.7 238.6h1M166.5 233.5h1M158.5 232.3h1M170.1 234.3h1M165.3 235.3h1M163 229.1h1M170.4 237.5h1M168.7 241.5h1M159.1 221.6h1M161 224.7h1M166.8 237.8h1M160.9 220.2h1M166.3 232.4h1M167.2 233.7h1M159 225.6h1M158.1 221.8h1M164.2 215.7h1M156.8 242.6h1M163 231h1M159.3 227.8h1M170.4 232h1M170.8 239.7h1M162.4 233.9h1M164.2 238.1h1M163.4 233.6h1M164.1 236.8h1M157.5 241.3h1M156.1 223.1h1M160.5 229.9h1M162.4 230.9h1M166.4 228.9h1M157.7 226.4h1M161.5 241.7h1M159.5 236.3h1M162.3 230.5h1M168.9 232.9h1M159.9 238.5h1M164.1 212.7h1M165.8 228.2h1M167 233.7h1M160.2 229.9h1M158.6 219.8h1M166.2 226.5h1M168.1 236.1h1M163.5 223.4h1M163.7 231.3h1M158.5 229h1M166.2 235.5h1M165.6 229.3h1M165.5 230.6h1M157.1 232.1h1M164.7 239.1h1M163.1 231.9h1M160.1 220.5h1M166.7 230.7h1M166.5 230.3h1M166.1 231h1M159.8 238.1h1M162.4 231.9h1M164.9 234.9h1M163.6 230.3h1M158.7 223.1h1M158.8 235h1M165.7 231.7h1M164.9 231.8h1M166.6 220.1h1M163.3 220.9h1M163.5 217h1M167.5 228.1h1M162.3 232.2h1M167.8 229.4h1M158.7 225.6h1M165.1 236.3h1M160.5 227.4h1M158.1 230.5h1M165.5 219.4h1M161.1 224.2h1M157.3 243.1h1M166.4 226.5h1M166.8 224.8h1M166.4 231.4h1M165.2 226.9h1M160.7 231.5h1M161.8 240.3h1M169.5 233.4h1M164.9 238.8h1M164.1 221.5h1M169.8 240h1M165.6 223h1M167.3 231.4h1M154.2 223.4h1M159.2 233.2h1M154.9 229.7h1M163 231.3h1M165.5 226.3h1M159 227.6h1M165.2 226.7h1M165.5 226.5h1M160.3 234.8h1M164.2 236.3h1M156.2 229.2h1M166.3 229.3h1M164.9 231h1M166 230.2h1M163.1 236.3h1M160.9 233.1h1M158.7 235.7h1M166.7 227.8h1M166.4 240h1M161.3 219h1M163.2 229h1M166 235.9h1M168.5 223h1M160.9 225.8h1M167.9 230.5h1M163.4 242.4h1M157.8 236.9h1M161.4 225.5h1M158.2 233.7h1M158.6 222.1h1M158.1 218.1h1M168.6 229.4h1M166.1 240.3h1M160.5 235.8h1M162.7 229.8h1M157 233h1M164.3 224.4h1M173.9 228h1M167.6 226.2h1M155.7 234.3h1M163.8 233.6h1M159.3 225.8h1M166.2 228.8h1M157.3 225.4h1M166.7 225.5h1M165 232.7h1M164.6 229h1M162.1 226.5h1M155.3 234.9h1M169 227.8h1M174.7 231.3h1M165.4 234h1M164.5 218.4h1M160.4 231.9h1M160.3 222.2h1M164.1 230.7h1M172.2 235.1h1M162.2 225.8h1M162.1 226.6h1M167.2 235h1M160.6 240.9h1M161.4 238.4h1M168.1 211.8h1M157.6 231.3h1M165.9 218.9h1M168 236.2h1M168.8 239.6h1M162.5 240.3h1M160.1 228.3h1M165.5 239.2h1M169.8 235.2h1M161.4 226.4h1M169.5 235h1M158.2 237.3h1M161.1 217.9h1M164.6 235.1h1M160.6 232.6h1M165.1 235.5h1M163.9 235.3h1M159.1 216.5h1M167.1 222.4h1M165.7 231h1M165.7 233h1M165.2 239.6h1M161.7 212.5h1M161.9 228.3h1M159.7 222h1M169.1 224.6h1M162.4 239.2h1M162.2 238.2h1M167.2 236.5h1M163.2 239.1h1M169.8 233.4h1M172.7 228.5h1M167.7 228.7h1M161.5 230.6h1M164.1 237h1M163.4 236.7h1M160.4 232.2h1M158.8 225.5h1M164.4 225.3h1M158.2 230.2h1M162.6 224.2h1M160.4 228.6h1M153 229.1h1M158.8 227.3h1M162.6 224.5h1M162.8 231.7h1M159.5 243.4h1M163.3 229h1M164.2 225.4h1M153.8 224.5h1M166.2 234.2h1M162.6 224.5h1M164.7 234.3h1M164.4 224.3h1M166 246h1M165.3 236.9h1M167.8 239h1M169.5 227.1h1M163.8 216.5h1M160.6 239.2h1M168.6 234.5h1M172.4 218.9h1M160.4 219.1h1M159.4 229.5h1M171.6 218.4h1M160.9 227.3h1M170.9 246.2h1M167.8 236.1h1M158.5 237.1h1M160.2 234.8h1M165.7 233.7h1M165.8 227.8h1M161.9 224.1h1M167.7 235.3h1M162.4 231.8h1M168.5 232.6h1M162.6 222.1h1M163 236.3h1M159.1 227.7h1M165.2 226.7h1M159.1 227.2h1M161.7 232.6h1M160.5 228.7h1M165 238h1M161.9 225.1h1M160.6 233.3h1M162.6 224.1h1M160.4 223.4h1M164.9 239.3h1M164.8 223.8h1M162.3 229.9h1M164.7 225.4h1M162.1 219.4h1M163.8 234h1M166.6 237.4h1M159.2 201.6h1M152.3 207h1M154.9 200.2h1M158.9 233.6h1M166.9 198.8h1M163.5 202.2h1M168.1 209.5h1M162.5 219h1M163.1 213.2h1M161.7 219h1M158.3 214.5h1M176 210.7h1M176.1 224.2h1M156.8 213.6h1M159.3 234.9h1M170.3 195.7h1M172.3 212.8h1M167.5 197.3h1M157.7 216.3h1M151.7 213.7h1M158.4 233.7h1M166.7 219h1M160.1 189.1h1M163.8 204.7h1M157 233h1M163.8 196.5h1M163 182h1M154.8 215.2h1M169.6 214.5h1M164.4 194h1M163.4 217.7h1M148.6 208.2h1M166 210.8h1M176.3 219.6h1M158.7 214.1h1M157.6 198h1M158.8 192.6h1M151.8 195.2h1M163.4 223.3h1M164.3 205.5h1M168.6 203h1M170.7 211h1M168.2 194.8h1M168.3 217.3h1M150.7 224.7h1M158.4 217.6h1M166.5 193h1M159 239.8h1M165 218.1h1M162.2 224.5h1M153.4 216.8h1M175.2 213h1M162.6 212h1M161.5 207.8h1M154.5 210.9h1M172.7 226.6h1M162.5 227.9h1M177.9 220.7h1M162.3 235.9h1M170.4 222h1M161.8 225.6h1M169.1 214.8h1M162.5 231.3h1M157.2 226h1M168.8 207.3h1M155.7 213.4h1M170.1 226.1h1M161.3 206.3h1M166.1 194.8h1M154.1 202.5h1M160.1 219.2h1M164.8 205.4h1M166.8 214.3h1M165.3 203.3h1M154.9 202.6h1M158.9 201.5h1M165.7 200.7h1M163.5 196.1h1M163.1 224.9h1M169.1 220.3h1M169.7 217h1M152 211.7h1M166.7 227h1M164.1 205h1M172.6 210.4h1M156.1 228.1h1M166.6 222.1h1M161 177.1h1M163.5 215.6h1M156.9 216.1h1M151.4 216.8h1M162.9 246.6h1M170.6 214.3h1M160.9 207.7h1M168.1 216.5h1M167.2 203.6h1M157.6 208.8h1M162.7 210.3h1M169.3 204.2h1M173.2 208.3h1M166.1 214.2h1M170.9 210.8h1M158.9 197h1M161.3 210.1h1M163.2 203.1h1M155.7 203.9h1M155.6 221.4h1M162.8 238.1h1M161.2 197.1h1M168.4 239.3h1M159.4 213.5h1M163.5 219.8h1M168 204.2h1M161.5 217.4h1M158.2 228.1h1M168.8 204.5h1M163.2 224.1h1M160 201h1M161.4 219h1M166.3 222.7h1M159.6 220.4h1M157.6 207.5h1M160.7 224.9h1M157.9 203.4h1M154.5 181.4h1M172.7 199.1h1M161.4 247.1h1M153.8 213.2h1M152.6 215.5h1M155.4 224.8h1M159.1 190.3h1M151.7 220.9h1M169.7 199.8h1M157.1 224.6h1M164.7 196.9h1M171 197h1M150.4 221.3h1M171.7 211.3h1M168 216.2h1M161.9 221.4h1M159.7 194.9h1M166.1 202.9h1M158 226.2h1M177.2 215.9h1M161.4 244.8h1M165 194.3h1M168.6 209.1h1M163.2 211.3h1M159.5 218.4h1M164.5 213.1h1M161.1 222.4h1M163.4 199.6h1M162.9 199.7h1M158.2 185.6h1M160.6 218.1h1M155.4 227.6h1M150.8 218.2h1M154.3 217.1h1M158.9 201.2h1M170.9 207.1h1M148.2 195h1M165 211.1h1M178.9 219.3h1M166.6 221h1M170.4 230.1h1M163.3 188.1h1M167.1 234.7h1M168.8 223.5h1M158.2 234.3h1M169.4 227.6h1M165.4 186.6h1M164.8 204.6h1M163.5 196.5h1M159.5 214.9h1M165.2 214.7h1M173.8 219.6h1M159.6 215.6h1M147.8 198.6h1M154 216.4h1M159.7 212.7h1M160 196.6h1M161.8 204.4h1M156.9 202.2h1M153.6 205.4h1M167.1 223.8h1M166.8 213.1h1M166.1 185.2h1M166.8 224.9h1M162.4 211.5h1M157.4 214.9h1M157.6 229.6h1M161.8 207.1h1M175.7 209h1M162.3 207.6h1M154.7 219.4h1M176.8 205.9h1M185.5 224.9h1M153 201h1M163.7 235.2h1M156.5 197.2h1M162.9 204.6h1M168.1 219.9h1M152.3 231.6h1M160.3 208.3h1M164.3 221.3h1M174.7 223.8h1M169.4 218.9h1M153.5 216.5h1M155.6 207.2h1M159.4 214.1h1M160.3 204.8h1M152.5 207.7h1M152 213.2h1M154.2 216.2h1M168.2 215.9h1M162.7 204h1M179 218h1M157.6 196h1M173 189.9h1M169.8 214.5h1M160 211.9h1M157.9 205.2h1M151 217.8h1M143.3 229.3h1M163.5 204.9h1M158.3 178.1h1M149.9 216.4h1M167.7 208.5h1M151.8 194.2h1M154.1 185.8h1M152.7 211.4h1M153.2 210.1h1M156.6 204.5h1M147.7 194h1M154.1 199.1h1M152 226.6h1M149.7 214h1M150.4 221.8h1M163.8 221.4h1M148.7 192.6h1M157.7 201.1h1M148 204h1M146.6 207.5h1M157.6 206.3h1M157.8 213.6h1M157.9 199h1M149.8 209.2h1M144.6 205.1h1M154.4 201.3h1M144.5 229h1M153.8 190.4h1M153.5 204.9h1M140.1 197.7h1M146 214.8h1M154.9 203.9h1M151.8 222.1h1M154.6 203.1h1M154 187.4h1M151.7 208.4h1M154.7 213h1M156.2 234.2h1M151.8 209h1M152.8 214.4h1M150.4 172.2h1M158.7 221.6h1M153 202.6h1M149 210.2h1M148.6 236.9h1M157 209.3h1M154.3 186.4h1M148.7 215.6h1M146.3 220h1M155.2 221.6h1M155.4 212.9h1M149.7 199.5h1M153 198.8h1M151.7 207.3h1M155.6 194.7h1M149.8 207.7h1M158.2 224.5h1M151.9 212.7h1M154.7 229.1h1M150.3 218.6h1M152.9 233.1h1M153.5 213.7h1M153.4 222.8h1M154.7 194.7h1M153 196.3h1M146.8 210.8h1M155.3 203.6h1M156.6 224.1h1M143.6 212.7h1M150.8 208.4h1M162.5 204.4h1M151.5 212h1M152.9 201.2h1M158.3 203.2h1M152.4 208.6h1M156.6 220.6h1M162.5 235.7h1M155 219.9h1M155.4 213.2h1M154.5 223h1M156.4 204.8h1M158.5 213.4h1M162.9 203.2h1M152 203.9h1M156.2 217.6h1M158.2 188.4h1M149.7 224.1h1M153.8 208.7h1M152.5 213.7h1M151.1 193.1h1M163.4 209.8h1M154.9 218h1M145.9 209.9h1M150.4 212.2h1M148.7 210.4h1M155.3 214.4h1M154 222.7h1M145.3 222.3h1M158.4 215.5h1M149.1 227.7h1M159.2 217h1M148 222.8h1M156.7 228.7h1M156.7 207.7h1M150.2 189.7h1M148.1 215.6h1" stroke="#d93412" stroke-width="1" fill="none"/>
<rect x="136.2" y="148.2" width="100.8" height="101" fill="none" stroke="#1a1a1a" stroke-width="1.3"/>
<path d="M162.4 148.2V249.2M136.2 221.6H237" stroke="#1a1a1a" stroke-width="1.1" fill="none"/>
<path d="M136.2 249.2v2.6M143.8 249.2v1.6M148.2 249.2v1.6M151.4 249.2v1.6M153.8 249.2v1.6M155.8 249.2v1.6M157.5 249.2v1.6M159 249.2v1.6M160.2 249.2v1.6M161.4 249.2v2.6M169 249.2v1.6M173.4 249.2v1.6M176.6 249.2v1.6M179 249.2v1.6M181 249.2v1.6M182.7 249.2v1.6M184.2 249.2v1.6M185.4 249.2v1.6M186.6 249.2v2.6M194.2 249.2v1.6M198.6 249.2v1.6M201.8 249.2v1.6M204.2 249.2v1.6M206.2 249.2v1.6M207.9 249.2v1.6M209.4 249.2v1.6M210.6 249.2v1.6M211.8 249.2v2.6M219.4 249.2v1.6M223.8 249.2v1.6M227 249.2v1.6M229.4 249.2v1.6M231.4 249.2v1.6M233.1 249.2v1.6M234.6 249.2v1.6M235.8 249.2v1.6M133.6 249.2h2.6M134.6 241.6h1.6M134.6 237.2h1.6M134.6 234h1.6M134.6 231.6h1.6M134.6 229.6h1.6M134.6 227.9h1.6M134.6 226.4h1.6M134.6 225.1h1.6M133.6 223.9h2.6M134.6 216.3h1.6M134.6 211.9h1.6M134.6 208.7h1.6M134.6 206.3h1.6M134.6 204.3h1.6M134.6 202.6h1.6M134.6 201.1h1.6M134.6 199.9h1.6M133.6 198.7h2.6M134.6 191.1h1.6M134.6 186.7h1.6M134.6 183.5h1.6M134.6 181.1h1.6M134.6 179.1h1.6M134.6 177.4h1.6M134.6 175.9h1.6M134.6 174.6h1.6M133.6 173.4h2.6M134.6 165.8h1.6M134.6 161.4h1.6M134.6 158.2h1.6M134.6 155.8h1.6M134.6 153.8h1.6M134.6 152.1h1.6M134.6 150.6h1.6M134.6 149.4h1.6" stroke="#222" stroke-width="0.65"/>
<text x="212" y="163.4" font-size="9.9" font-weight="bold" text-anchor="start" stroke="#000" stroke-width="0.3" >DC</text>
<path d="M61.4 325.9h1M56.4 329.1h1M55.2 339.6h1M47.9 330.6h1M53.8 332.3h1M53.5 331.3h1M54.5 330h1M52.5 322.2h1M54.6 328h1M53 335.3h1M49.9 326.7h1M58.1 326.2h1M58.1 320.8h1M61.1 325h1M55 328.3h1M53.3 330.9h1M52.8 325.4h1M49.1 326.9h1M58.4 321.9h1M50.7 329.9h1M50.4 329.5h1M54 338.8h1M60.3 320.7h1M55.7 329.8h1M51 325.4h1M52.2 325.3h1M57.1 331.2h1M54.2 329.1h1M52 330.7h1M53.9 319.9h1M57.6 339h1M62.1 334.2h1M50.2 324.9h1M52.5 320.6h1M51.8 324.2h1M45.8 332h1M51.4 323.2h1M51 329.8h1M59 321.2h1M54.3 341.3h1M48.8 328.1h1M57.2 323.1h1M53.5 337.8h1M48.4 331.3h1M52.6 327.6h1M52.6 327.4h1M51.6 331h1M54.9 324.3h1M46.5 331h1M53.8 324.1h1M58.5 317.7h1M58 323.4h1M58.9 325.6h1M58.9 333h1M60.3 325.2h1M50.7 326.7h1M57.9 325.8h1M47.9 332.9h1M52.6 315.7h1M47.7 327.6h1M58.7 313.4h1M59.7 315.1h1M54.1 323h1M61.4 322.8h1M52.3 327.9h1M55.4 327h1M55.4 333.2h1M50.9 330.8h1M56.4 327.9h1M62 321.6h1M51 338.6h1M58.1 331.9h1M54.2 323.8h1M61.3 320.5h1M56.6 329.9h1M57.3 330.7h1M57.2 323.9h1M55.7 332.1h1M49.6 322.8h1M59.9 323.4h1M49.7 334.4h1M55.7 323.2h1M57.1 326.4h1M51.7 328h1M55.3 325.1h1M59.1 314.8h1M54.7 325h1M51.5 329.1h1M44 332.8h1M51.2 332.4h1M52.6 332.7h1M52.9 325.8h1M51.2 327.2h1M56.2 335h1M52.7 332.4h1M54.4 327.1h1M57.3 324.5h1M51.6 333.9h1M53.7 333h1M62.8 322.7h1M58 327.7h1M50 329.2h1M54.5 326.8h1M56.9 335.7h1M59.4 318h1M55.4 330.6h1M52.8 322.2h1M52.1 324.4h1M57.2 330.2h1M56 319.4h1M52.9 322.7h1M54.1 321.1h1M53.3 324.4h1M57.5 327.2h1M52.2 334.1h1M56.6 322.5h1M58 330.2h1M56.6 319.5h1M51.7 339.5h1M59.8 322h1M52.3 325.3h1M56.4 327.3h1M52 328.4h1M48.3 328.7h1M55.6 317.2h1M55.9 330.5h1M54.5 330.4h1M55.8 323.9h1M52.4 321.4h1M52.1 329.1h1M54.2 332.7h1M61.9 313.9h1M57.8 319.1h1M52.9 327.8h1M56.9 321.1h1M53 325.4h1M53.1 326.6h1M58 329.1h1M52.9 331.4h1M48.6 334.5h1M51.4 332.8h1M55.1 322.9h1M55.3 313.4h1M59.4 325.9h1M52.2 330h1M57.5 327.5h1M56.4 322.1h1M54.2 336.8h1M57.9 316.1h1M56.6 329.9h1M51.6 331.2h1M58.8 329.5h1M50.3 335.9h1M55 328.9h1M54.8 328.2h1M56.4 324.2h1M52.1 331.7h1M54.7 328.6h1M54.3 330.9h1M58.5 318.7h1M51.9 319.7h1M55.1 326.6h1M53.8 329.7h1M50 320.5h1M64.7 316.5h1M54.5 324.7h1M49.3 330.5h1M60 325.7h1M50.8 333.5h1M56.2 324.9h1M58 327.2h1M52.4 334.4h1M53.2 325.8h1M52.8 339.4h1M54.3 324.8h1M48.8 329.9h1M50.2 318.6h1M54.3 326.3h1M58.6 321.9h1M57.1 322h1M61.2 325.1h1M57.4 319.5h1M52.9 328.6h1M54.3 316.2h1M47.3 327.4h1M51.2 335.4h1M51 329h1M55.8 329.3h1M57.2 320.6h1M52.7 320.5h1M52.6 334.9h1M49.1 334.6h1M54.3 331.3h1M55.7 326.1h1M56.4 332h1M51.9 325.6h1M62.2 326.8h1M59.2 328h1M54.4 322h1M52.8 334.9h1M53.6 327.8h1M55.4 330.6h1M54.7 318.6h1M56.6 319.4h1M57.6 323h1M59.9 326.9h1M59 330.7h1M54.4 328.7h1M56.2 325.2h1M53.4 330.3h1M52.6 326.3h1M61.9 324.2h1M53.1 329.4h1M62.2 319.5h1M53.5 329.3h1M55.7 318.4h1M58.8 320.3h1M54.9 330h1M56.3 322.4h1M53.9 329.5h1M53 328.5h1M54.2 325.8h1M52.4 335.7h1M60.8 326.3h1M54.2 323.7h1M61.2 320.9h1M44.9 331.8h1M54.9 318.6h1M56.9 331.7h1M53.7 326.6h1M58.9 315.5h1M57.2 320.2h1M53.8 334.4h1M56.4 326.9h1M65.2 333.2h1M55.7 326.2h1M55.9 328.4h1M53.2 337.6h1M55.3 337.6h1M50 323.7h1M54.1 331.5h1M63.9 316.7h1M58.7 322.2h1M57.2 316.1h1M58.9 327.7h1M61.8 317.9h1M57 321.3h1M62.5 333.1h1M58.8 329.3h1M55.4 325.3h1M61.2 314h1M46.1 332.2h1M52.7 315.2h1M55.8 321.2h1M51.4 331.6h1M54.2 331h1M52.4 328.3h1M52.4 331.9h1M64.8 322.8h1M57.1 321.3h1M54.6 326.7h1M59.7 333.4h1M53.9 326.6h1M58.1 326.6h1M56.1 328.8h1M60.8 316.3h1M49.5 323.5h1M57.6 316.8h1M55.3 328.2h1M50.5 326.5h1M58.7 318.1h1M51.6 321.2h1M60.8 327.6h1M56.7 330h1M57.4 327.5h1M55.1 326.4h1M58.1 327.6h1M47.9 329.7h1M55.1 328.2h1M52.5 325.3h1M55.8 320.5h1M54.6 322.5h1M57.1 326.7h1M51.7 336.8h1M61.6 318.7h1M63.4 316.5h1M54 330.6h1M54.7 330.3h1M55.9 322h1M59.5 321h1M61.8 319.9h1M50.3 330.1h1M52.5 343.6h1M50.9 324.2h1M50.7 329.7h1M48.7 326.4h1M56.1 326.4h1M50.5 330.4h1M60.4 325.1h1M58.2 319.3h1M51 322.7h1M51 332.9h1M52.5 328.7h1M60 324.8h1M51.7 330.7h1M49.3 324.7h1M54.6 332.6h1M56.2 321.1h1M52.4 321.5h1M60.8 318h1M55.7 324.9h1M56.5 339.3h1M51.6 327.7h1M54.7 327.6h1M54.2 334.4h1M46.4 327.9h1M55.9 317.9h1M48.2 325.6h1M54.7 323.9h1M49.3 319.7h1M62.3 321h1M56 325.8h1M58 335.2h1M58.2 328.5h1M49.9 328.8h1M46.4 327h1M53.6 322.5h1M58.1 314.6h1M55.1 324.9h1M57.7 312.4h1M58.3 323.3h1M49.3 337.1h1M55.9 323.2h1M62.1 324.6h1M52.7 322h1M47.3 319.2h1M53.9 327.5h1M53.1 325.2h1M56.3 327.5h1M51.5 327.9h1M55.1 328.8h1M46.6 327h1M58 327.1h1M60.7 328.4h1M59.6 320.7h1M49.2 326.6h1M56 330.8h1M43.8 333.5h1M55.8 324.1h1M54.6 317.7h1M51.1 326h1M56.1 333.2h1M55.3 323.2h1M58.3 323.2h1M55.3 320.8h1M55.7 324.9h1M47.6 329.1h1M50.5 329.3h1M53 323.2h1M55.9 319.4h1M54.8 337h1M60.4 324.1h1M51.6 322.8h1M53.9 325.4h1M55.7 327.9h1M53.9 332h1M56.6 326.6h1M52.7 325.1h1M60.1 326.1h1M53.6 319.1h1M58.9 319h1M54.7 332.5h1M60.3 324.4h1M49.6 328h1M56.7 321.7h1M53.2 320.5h1M55.7 326.9h1M59.2 324.1h1M50.6 337h1M49.9 323.7h1M51.1 327.7h1M55.7 323.6h1M47.8 324.4h1M55.2 335.4h1M50 335.4h1M50.6 328.6h1M53.4 319.1h1M56.2 326.9h1M52.5 329.6h1M53 323.5h1M54.6 317.5h1M53.8 335.9h1M44.9 323.2h1M53.2 332.4h1M55.1 322.2h1M58.9 321.9h1M62.4 327.8h1M57.3 318.7h1M55.1 324h1M51.2 327.2h1M55.1 331.9h1M57.7 329.9h1M59.5 324.4h1M51.5 320.8h1M55.7 331.8h1M57.8 322.3h1M61.7 324.2h1M55.7 315.6h1M52.8 325.9h1M52.2 329.8h1M53.5 324.6h1M52.4 330.3h1M57.9 331.4h1M58.8 332.5h1M57.5 321.7h1M59.2 315.8h1M53.1 313.6h1M56.2 323.5h1M53.4 317.9h1M55 328.3h1M59.3 312.6h1M54.7 331.7h1M47.9 329.4h1M53.9 317.8h1M52.2 328.6h1M49.2 331.5h1M51.9 330.2h1M58.4 324.1h1M61 326.2h1M53 329.4h1M58.5 322.3h1M59.2 324.2h1M50.5 320.8h1M54.7 329.9h1M54.6 318.9h1M55.4 324.5h1M48.9 322.2h1M53.5 331.4h1M58.7 324.8h1M59.5 318h1M61.6 324h1M53.6 325.1h1M61.7 326h1M57.3 324.7h1M49.8 327.7h1M57.6 323.1h1M53.5 317.4h1M56.7 327.2h1M54.4 329.7h1M59.3 318.3h1M55.7 327.8h1M53.8 332.3h1M58.4 328.8h1M55.7 332.1h1M53.3 331.2h1M59.5 321.4h1M53.3 338.1h1M52.4 327.4h1M52.8 323.8h1M49.4 336.3h1M52.8 323.3h1M61.7 327.5h1M51.4 323.5h1M54.8 332.4h1M50.7 335h1M52.5 324.9h1M60.4 326.8h1M58.1 328.6h1M52.5 326.9h1M54.8 329.1h1M51.7 327.2h1M51.9 324.3h1M51.4 322.7h1M51.5 329.5h1M56 328.8h1M57 329.9h1M56.6 328.2h1M54.2 330.5h1M49.8 327h1M54.6 336h1M51.4 323.8h1M58.1 329.3h1M56.9 324.9h1M57.6 323.9h1M53.5 338.3h1M48.1 332.7h1M58.3 319.1h1M59.3 326.7h1M49.3 327h1M55.3 336.6h1M59.2 320.5h1M50.8 329.1h1M61.3 321.1h1M53.5 324.4h1M50.8 332.6h1M59.9 330.5h1M55.9 333h1M52.4 327.3h1M58.1 322.3h1M47.6 333.1h1M61.5 321.7h1M51.8 336.6h1M55.9 319h1M53.3 330h1M56.4 319.6h1M58.1 320.1h1M51.8 319.8h1M57.7 318.5h1M53.7 330h1M52.3 324.1h1M54 321.4h1M51.1 321.9h1M51.9 323h1M58.3 322.6h1M54.2 331.4h1M59 324.7h1M56.4 325.5h1M51 327.6h1M47.8 333.5h1M52.3 322.7h1M55.8 327.7h1M54.8 320.5h1M51.7 322.2h1M58.5 328.1h1M48.3 329.7h1M50.1 327.5h1M55.3 321h1M62.9 325.1h1M56.3 337.3h1M51.1 331.2h1M57 328.5h1M57.3 324.8h1M58.3 331.2h1M53.3 325.2h1M51.8 343.5h1M55.2 327.7h1M56.3 326.2h1M60.7 330.4h1M62.5 317.2h1M52.1 324.2h1M52.9 323.7h1M54.6 325.6h1M53.9 336.4h1M56.6 320.8h1M56.6 338.9h1M55.8 331.3h1M59.8 332.7h1M54.2 328.1h1M50.9 320.4h1M49 323h1M51 335.4h1M50.9 326.8h1M47.8 331.8h1M57.3 327.2h1M55.5 334.3h1M53.2 334.4h1M51.5 330.1h1M49 330.1h1M51.4 333.7h1M61.6 318h1M46.6 327h1M55.3 319.7h1M57.6 320.7h1M55.3 318.6h1M53.6 331.9h1M57.6 324.2h1M50.7 338.2h1M56.9 324.2h1M60.1 325.9h1M50.9 326.1h1M51.8 332.2h1M55.3 329.8h1M58.5 323.4h1M59.8 326.3h1M57.3 321.7h1M52.3 325.1h1M50.7 323.4h1M55.7 331h1M56.3 321.1h1M50.7 322.9h1M55 331.7h1M56 325.6h1M58.7 317.6h1M51.1 322.4h1M56.9 322.4h1M50.5 322.6h1M53.2 326.7h1M54.5 320.2h1M60.4 317.4h1M67.1 324.8h1M55.7 334.8h1M56.6 332.6h1M58.5 322.5h1M49.8 331.5h1M57.6 324h1M50.2 338h1M60.8 325.2h1M60.1 326.5h1M56.7 335.6h1M51.8 334.5h1M61 324.3h1M55.8 320.7h1M55.2 324.4h1M56.9 318.1h1M48.5 338.3h1M56.4 324.9h1M58.5 328.5h1M56.1 327h1M55.3 322.4h1M51.3 329.7h1M57.2 327.4h1M55.5 326h1M54.8 326.4h1M52.7 329.3h1M58 320.1h1M59.4 323.8h1M56.2 323.5h1M58.1 321h1M59.7 325h1M60.7 312.3h1M55.6 318.9h1M54 325.8h1M53.3 335.3h1M54.9 329.5h1M56.8 321.6h1M58.3 332.5h1M53.2 328h1M55.4 322.7h1M51.1 327.5h1M59.5 332.3h1M53.4 331.4h1M56.1 322.1h1M52.1 322.1h1M53.7 330.1h1M52.3 321.5h1M61.1 321h1M56.1 329.5h1M54.2 321.2h1M51.3 323.8h1M52.5 328.6h1M56.9 324h1M61 330.5h1M49.5 328.9h1M51.4 331.2h1M54.1 330.2h1M52.5 324.4h1M48.7 333.7h1M54.9 333.3h1M57.6 324.2h1M49 326.1h1M55.6 324.7h1M58.4 332.2h1M58.4 324.6h1M53.2 324.5h1M63.3 315.9h1M56.9 325.2h1M51.8 320.7h1M58.4 329.5h1M50.6 324.1h1M58.1 318.1h1M50.1 333.6h1M57.7 326.7h1M52.6 329.8h1M59 319.5h1M57.5 329.1h1M56.5 327.2h1M55 327.1h1M58.8 329.2h1M48.1 335h1M56.4 325.3h1M56.3 333.9h1M56.9 328.2h1M57.9 324.5h1M68.5 323.3h1M55.2 327.5h1M57.8 333.1h1M55.4 327.5h1M60.6 323h1M47.3 329.9h1M61.1 327.7h1M52.3 319.3h1M46.4 323.4h1M50.8 326.9h1M54.2 329.1h1M55.5 329.4h1M54.6 324.8h1M57.8 316.7h1M54.7 315.2h1M54.6 325.3h1M46.9 327.5h1M56.6 326.9h1M58.5 329.6h1M53.2 322.3h1M47.9 336.6h1M49.9 326.2h1M61 322.3h1M52.6 328.1h1M52.3 317.3h1M51.8 340h1M57.3 323.4h1M52.6 333h1M51.6 324.1h1M49.2 320.4h1M54.4 320.8h1M58.5 318.5h1M54.3 316.4h1M58.1 311.2h1M55.4 329.6h1M55.3 322.1h1M55.5 326.4h1M54.9 332.5h1M58.6 321.5h1M56.6 325.3h1M52.7 332.4h1M55.3 327.9h1M54.5 327.3h1M56.6 320.2h1M55.5 320.9h1M56.3 329.2h1M49.3 327.3h1M56.2 330.2h1M59.7 327.7h1M49.8 330.7h1M60.7 327h1M55.9 326.9h1M54 332.8h1M48.1 318.2h1M58.8 320.5h1M51.2 329.6h1M52.9 335.9h1M56.8 316.5h1M51 325.2h1M51.1 330.2h1M50.5 335h1M54.4 324.1h1M57 314.5h1M56.3 327.4h1M56.3 329.7h1M53.5 329.3h1M55.3 328.4h1M52.2 330.7h1M62.2 319h1M55.5 329h1M47.6 334.1h1M50.8 328.2h1M60.7 319.1h1M49.7 325.5h1M53.2 330.7h1M56.3 322.2h1M50.7 334.9h1M58.7 325.6h1M61 322.1h1M51.7 332.1h1M59 324.2h1M51.5 339.1h1M51.1 335.5h1M55.7 322.1h1M55.7 324h1M52.6 316.8h1M57.9 329.1h1M49.4 331.1h1M51.6 328.8h1M50.8 320.6h1M57.6 333.2h1M57.8 331.5h1M57.3 322.8h1M50 325.2h1M55.3 323.4h1M56.5 329.6h1M48.8 330.8h1M51.8 327.1h1M57.2 323.7h1M57.4 317.8h1M55.7 322.5h1M56.8 316.1h1M56 330.8h1M55.4 325.5h1M54.4 326.2h1M51.6 325.2h1M53.9 321.2h1M53.3 315.8h1M63.4 317.4h1M55.8 322.7h1M54.8 323.6h1M53.9 330.9h1M54.4 330.8h1M53.8 321h1M56.8 320.3h1M54.7 331.1h1M57.8 312.8h1M52.2 325.6h1M56.1 329.4h1M58 325.1h1M50.5 325.5h1M55.4 329.2h1M55.7 322.4h1M53.6 322.2h1M53 328.1h1M47.9 328.6h1M59.1 327.1h1M51.3 333.8h1M50.2 335.4h1M57.2 312.2h1M48 331h1M58.4 327.4h1M56.4 329.8h1M57 323.4h1M54.2 324.7h1M50.3 330.1h1M47.8 325.2h1M60.2 314.8h1M53.1 330.7h1M52.9 330.6h1M60.7 317.1h1M52.5 332.9h1M53.9 321.8h1M53.9 328.5h1M54.3 319.5h1M51 327.9h1M52.7 323.1h1M59.6 321.1h1M57.6 326.5h1M43.8 334.4h1M47.6 324.3h1M56 333.4h1M54.4 321.6h1M53.4 318.2h1M58.7 322.6h1M48.2 339.1h1M59.2 321.3h1M55.3 318.5h1M56.8 321.4h1M55.7 327.3h1M57.9 327.5h1M53.9 328.8h1M52.8 332.5h1M57.7 335.5h1M55.4 326.4h1M50.2 330.6h1M59.8 324h1M59.3 326.1h1M60.1 330.2h1M55.1 328.1h1M56.1 320.3h1M53.4 331.7h1M51.2 336h1M55 327.4h1M55.5 336.1h1M52.3 333h1M61.6 315.3h1M48.8 326.6h1M51.8 321.6h1M52.3 324.6h1M59.6 319.4h1M53.9 327.7h1M53.6 330.1h1M51.5 317.2h1M52 331.6h1M50 327.7h1M58.6 329.7h1M57.1 323.6h1M58.5 312.3h1M52.3 326.6h1M64.1 323.8h1M51.2 329.9h1M47.2 329.3h1M53.7 321h1M55.3 321h1M57.6 320.5h1M51 322.4h1M57 325.4h1M61.1 325.2h1M51.6 331.9h1M52.1 329.4h1M48.5 328.4h1M55.7 329h1M58 324.7h1M57.6 319.5h1M57.9 329.6h1M60 323.5h1M55.3 325.6h1M58.3 331.1h1M51.3 330.8h1M51.9 331.2h1M55.7 336.4h1M51.8 333.9h1M56.9 329.9h1M59.9 324.6h1M56.3 315h1M52.1 314.5h1M52 322.5h1M59.9 336.3h1M51.8 326.7h1M55.1 323.7h1M53.8 329.6h1M55 332.2h1M58.9 326.4h1M52.8 330.2h1M49.6 330.6h1M60.2 321.8h1M55.6 322.9h1M57.5 312.9h1M54.7 325.9h1M57.7 324.6h1M59.5 325.5h1M59.9 328.9h1M53.8 319.3h1M53.5 320.3h1M56.3 329h1M55.6 317h1M56.9 326h1M52.2 327.2h1M46.2 332.5h1M56.5 320.6h1M57.7 327.6h1M57.2 318.3h1M60.9 327.1h1M58 324.2h1M53.4 324.2h1M58.4 324.9h1M54.5 332.6h1M59.4 317.9h1M55.7 324.2h1M56.5 318.2h1M55.6 330.3h1M55 329.3h1M49.3 323.4h1M55 324.2h1M46.4 323.6h1M56.6 324.9h1M58.5 329.3h1M62.4 319.1h1M56.2 325h1M52.1 318h1M48.9 337.3h1M62 316h1M49.5 328.7h1M58.1 322.1h1M46.3 335.2h1M54.6 324.4h1M57.3 322.3h1M56 317.9h1M54.6 332.1h1M51.7 317.7h1M51.4 335.5h1M58.5 330.8h1M56.4 334.7h1M54.2 321.1h1M55.6 321.6h1M51.4 328.4h1M58.6 330h1M59.5 318.2h1M51.9 333.8h1M55.2 319.7h1M58.7 327.9h1M52.4 327.4h1M62.3 323.6h1M60.4 323.1h1M53.8 330.2h1M58.4 315.1h1M61 328.7h1M50.2 325.2h1M57.1 323.9h1M54.3 322.1h1M54 330h1M57.4 327h1M53 325h1M49.6 323.6h1M49.5 338.3h1M54.7 325h1M57.1 328.1h1M54.7 324.6h1M54.2 332.2h1M54.7 333.6h1M59.6 329.7h1M56.8 334.2h1M52 336.7h1M53.7 315.7h1M59.3 320.9h1M52.7 321h1M53.3 330.6h1M54.7 328.1h1M50.9 322h1M58.1 333.6h1M46.7 331.2h1M60.2 332.7h1M53.2 324h1M50.2 333.3h1M55.8 332.9h1M48.5 327.7h1M56.8 327.6h1M57.7 325.3h1M52.7 325.6h1M53.4 329.1h1M58.3 314.8h1M52.3 331.6h1M54.9 327.2h1M56.1 319.4h1M60.6 327.7h1M52.9 317h1M54.9 320.4h1M59 330.9h1M45.3 333.8h1M53.8 323.6h1M47.7 337.4h1M48 328h1M62 322.3h1M55.6 326.4h1M60.3 327.6h1M53.9 329.8h1M56.8 320.6h1M53.2 325.1h1M52.8 330.7h1M54.5 332.7h1M55.3 327.8h1M60.5 328.7h1M54.1 331.5h1M56.2 320.6h1M53.8 326h1M55.3 337.7h1M49.9 327.5h1M58.8 328.8h1M52.9 320.7h1M55 342.8h1M54 323h1M58.4 328.6h1M56.7 328.6h1M54.8 318.4h1M55.4 325.4h1M56.1 332h1M57.6 322h1M56.7 330.9h1M59.6 322.9h1M60.8 330.5h1M57.1 337.7h1M49.9 323.3h1M61.3 325.5h1M62.8 319.3h1M53.5 322.2h1M53.3 327.5h1M47.2 331.3h1M57.7 327.7h1M51.1 330.6h1M61.6 311.8h1M45.6 328.2h1M55.1 315.2h1M57.3 327.1h1M53.3 331.7h1M51.9 329.5h1M55.7 323.4h1M52.8 329.5h1M53.5 331.4h1M54.7 329.5h1M52.7 324.6h1M54 325h1M57.7 331.9h1M53.4 327.2h1M55.4 327.2h1M52 328.1h1M58.2 328.1h1M50 331.6h1M58.3 323.3h1M43.6 329.9h1M51.4 326.5h1M48.9 330h1M58.6 327.9h1M55.8 318.6h1M49.9 336.9h1M52.7 321.9h1M59.7 324.7h1M54.6 320.8h1M56.8 322.8h1M49.2 328.6h1M49.2 331.9h1M56.9 326.8h1M63.3 326.9h1M52.7 325.7h1M56.9 333.9h1M51.2 319.6h1M59.3 325.6h1M53 328.9h1M53.1 324.8h1M47.7 329.5h1M53.2 322.7h1M55.4 328.2h1M59.8 322h1M50.3 332.4h1M58.3 326.7h1M53.4 329.2h1M53.6 327.6h1M51.2 323.6h1M48.4 333.1h1M50.2 332.9h1M60.7 322h1M50.2 322.9h1M53 323.8h1M58.7 330.2h1M46.8 321.5h1M56.3 327.6h1M52.7 325.6h1M55.3 330.2h1M57.8 317.4h1M54 329.2h1M53.9 321.5h1M57.3 328.1h1M57 334.4h1M51.9 326.6h1M53.9 336.8h1M49.6 329.2h1M59.4 328.2h1M50.1 340.8h1M55.3 331.6h1M61.1 326.3h1M57.6 313h1M53.5 322.9h1M51.9 329.9h1M52.3 323.7h1M58 319.9h1M55.9 328.5h1M54.6 319.1h1M64.3 316.1h1M51.6 331.6h1M52.9 338h1M53.3 323.2h1M55.5 326.7h1M55.8 328.9h1M53.7 323.5h1M57.4 320.7h1M56.7 327.7h1M53.6 321.3h1M45.6 326.7h1M57.6 335h1M51.1 318h1M52.2 337.9h1M54.1 334.3h1M50 325.5h1M51.6 334h1M54.8 327.5h1M53.3 322.2h1M55.7 323.1h1M51.3 324.2h1M53.6 335.2h1M50.5 322.1h1M53.4 320.2h1M55.5 323.9h1M53.6 323.4h1M49.2 340.3h1M53.8 324.1h1M55 322.3h1M58.7 320.3h1M54.3 322.2h1M53 316.3h1M50.1 328.6h1M61.8 318.9h1M51 326.2h1M50.3 334.5h1M53.9 331.9h1M47.7 333.5h1M58.5 319.4h1M55.2 325.3h1M56.3 322.6h1M50.9 326.1h1M52.6 326.2h1M57.7 321.7h1M57.9 330.1h1M65 317.4h1M58.6 331.6h1M47.5 331.7h1M54.9 325.4h1M53.2 329.3h1M58.6 322.5h1M54.2 324.6h1M56.4 330.7h1M53.4 325.3h1M56.8 347.8h1M60 317.3h1M52.3 320.2h1M47 336.6h1M50.8 325.3h1M60.4 320.1h1M55.4 320.1h1M53.5 325.4h1M51 323.5h1M58.5 328.2h1M55.7 322.1h1M54.2 326.1h1M52.6 330.3h1M54 327.4h1M53.4 323.8h1M56.7 319.4h1M59.3 315.8h1M47.4 321h1M49.2 332.2h1M54.2 322.9h1M54.9 323.4h1M48.9 329.4h1M52.3 328.7h1M53.1 332h1M53 329.1h1M52.9 325.4h1M54.3 319.8h1M57.9 326.7h1M57.3 324.1h1M56.8 324.7h1M55.6 320.8h1M51.9 328.7h1M52.8 331.3h1M57.2 323.9h1M55 329.4h1M57.6 324.9h1M55.6 323.9h1M54.8 332.5h1M56.2 323.9h1M48.9 330.2h1M54 318.4h1M52.4 331.7h1M57.7 322.6h1M52.1 326.7h1M55.5 323.7h1M53 328.5h1M56.3 322.2h1M57.2 319.4h1M53.8 327.4h1M55 327.5h1M55.2 323.3h1M57.4 328.6h1M53.4 332.6h1M54.7 322.3h1M53 329.4h1M51 330.4h1M55.2 317.8h1M56.1 319h1M51.5 315.8h1M60.4 331h1M51.8 325.2h1M57.3 323h1M55.9 329.1h1M48.2 337.8h1M54.4 328.9h1M48.7 337.8h1M54.1 333.6h1M57 345.4h1M61.4 318.3h1M57.4 322.8h1M48.9 325.1h1M53.2 330.5h1M60.1 319.5h1M55.2 330.4h1M61.1 313.3h1M51.8 333.1h1M52.4 330.2h1M49.5 336.8h1M53.1 330.7h1M59.2 325.1h1M51.1 330h1M57.6 314.1h1M56.2 324.2h1M57.4 325.9h1M53.5 336.4h1M54.6 326.9h1M62.4 314.2h1M49.9 340.4h1M57.3 319.9h1M60.1 324h1M56.2 320.1h1M60.6 304.5h1M43.5 335.7h1M53.4 324.1h1M50.2 332.4h1M52.9 323.6h1M54.1 329.8h1M56.3 334.1h1M51.3 331.1h1M57.7 324.1h1M48.6 326.2h1M58 324.7h1M53.5 319.5h1M47.9 329.9h1M47.9 332.9h1M47.8 321.4h1M50.7 321.2h1M54.8 336h1M59.3 324h1M57.3 334.9h1M49.4 331.7h1M45.9 334.1h1M53.3 327.9h1M49.1 338h1M53.7 334h1M51.8 327.3h1M63.9 311.7h1M47.9 322.4h1M55.5 325.2h1M61.2 317.8h1M52.8 330.2h1M51.4 330h1M60.5 326.1h1M46.4 333.1h1M47.9 330.2h1M49.7 330.6h1M55.8 326.7h1M57.2 319.1h1M53.8 326.3h1M62.4 322.4h1M53.5 331.6h1M54.3 324.1h1M53.2 321.9h1M58.9 334.4h1M54.4 330.4h1M52.9 333h1M60.6 332.2h1M59.2 322.5h1M58.1 330.3h1M49.7 329.6h1M50.4 322h1M53.5 328h1M53.5 327.9h1M52.8 330h1M53.6 325.2h1M56.9 323.7h1M50.7 321.9h1M55.4 330.2h1M53 316.1h1M52.7 327h1M53.5 323.9h1M57.3 322.3h1M55.6 326.9h1M51.6 325.4h1M55.8 315.9h1M55.1 314.6h1M56.1 315.2h1M53.6 322h1M58.3 322.4h1M56.1 323.4h1M50.4 328h1M49.9 329.2h1M49.4 326h1M56.2 317.6h1M52.1 324.6h1M53.4 323.1h1M54.5 335.3h1M59.3 329.2h1M62.9 317.6h1M54.3 325.5h1M62.2 329.5h1M56.8 326.3h1M59.2 329.7h1M53.7 327.9h1M50.2 329.8h1M56.6 328.8h1M59.6 320.7h1M49 325h1M54.6 324.5h1M55.6 331.7h1M57 327h1M50.7 321.3h1M52.7 332.8h1M58.2 327.4h1M61.5 328.3h1M55.2 327.7h1M58.4 324.9h1M55.4 315.3h1M56.4 327h1M53.3 317.2h1M53.9 325.5h1M52.7 337h1M55.2 327.2h1M58.9 326.3h1M55.5 323.1h1M57.2 326.6h1M52.4 320.3h1M57.4 323.6h1M43.1 333.1h1M49.5 327.3h1M53.5 320.6h1M48 316.5h1M56.9 321.8h1M55.5 321.3h1M51.4 324.5h1M55.1 328.5h1M49.2 318.9h1M51.4 331.7h1M53.3 319.1h1M48.8 342.2h1M58.7 331.1h1M52.3 330.5h1M58.6 319.7h1M54.2 327.2h1M55.9 326.4h1M51.4 324.3h1M53.6 323.6h1M53.2 332.6h1M55.7 326.5h1M59.9 334.1h1M52.7 333.6h1M54.2 326.2h1M56.1 328.9h1M58 325.6h1M54.4 319.7h1M53.4 329.8h1M52.6 322.8h1M54.8 333.9h1M55.7 331.4h1M52.3 314.4h1M53.7 327.4h1M57.6 319.2h1M54.7 335.3h1M52.7 326.6h1M57.4 326.6h1M57.4 328.3h1M57.1 319.9h1M57.3 325.9h1M53.3 333.9h1M55.6 322.6h1M56 328.9h1M55.3 324.8h1M48.3 341.4h1M54.7 337.1h1M56.1 325.6h1M56.6 324.3h1M53.7 329.6h1M54.9 325.7h1M48.1 328.6h1M49.3 325.7h1M43.8 340.7h1M54 338.9h1M60.8 326.4h1M61.3 314.5h1M50.6 320.6h1M57.2 327.9h1M59.5 318.9h1M53.7 323.7h1M47.5 330.2h1M60.1 321.4h1M53.5 333.5h1M53.4 319.6h1M61.1 323.9h1M56.5 319h1M57.9 325.7h1M60.8 313.3h1M54.3 323.7h1M51.2 333.8h1M57.8 320.9h1M54.9 327.6h1M57.6 321.9h1M56.4 326.3h1M52.1 325.5h1M55 329h1M53.7 320.8h1M54 325.4h1M54.8 330.1h1M56.2 321.6h1M55.7 329.8h1M50.2 333.1h1M57.3 326.4h1M49.6 317.4h1M63.2 331.7h1M52.1 320.8h1M54.7 326.3h1M59.9 326.3h1M54.2 335.6h1M50.3 328.8h1M49.7 324h1M56 329.3h1M56.5 334.5h1M58 319.6h1M56 329.3h1M53.2 327.1h1M56.7 326.5h1M60.3 322.5h1M52 329.7h1M68.2 323.5h1M53.4 340.3h1M59.6 314.1h1M62 332.3h1M58.3 325.5h1M56.1 320.4h1M57.6 317.2h1M59.9 331.8h1M45.2 321.8h1M56.7 335.9h1M53.5 319.6h1M52.4 329.9h1M55.4 321.1h1M55.6 318.5h1M56.8 322.2h1M52.8 338.1h1M59.1 325.6h1M47.2 331.6h1M51.3 333.5h1M50.4 335.2h1M55.3 321.4h1M53 330h1M56.8 326.1h1M51.9 325.9h1M59.6 312.7h1M57.6 330.7h1M52.9 331.8h1M48.5 326.8h1M50.4 348.7h1M49.1 322.6h1M59.4 323.1h1M57.6 326.8h1M50.1 324.5h1M61.8 323.2h1M53.7 335.4h1M46.4 324.7h1M58.8 313.6h1M59.6 320.9h1M54.8 321.2h1M51.5 325.2h1M59.4 320.4h1M52.9 326.9h1M54.7 339h1M56.5 325.6h1M55.9 337.5h1M53.1 326.5h1M50.9 324.8h1M57.6 313.8h1M46.6 330.9h1M56 328.3h1M55.8 340.1h1M56.8 315.4h1M53.4 322.7h1M55.6 323.5h1M57.8 323.3h1M50.9 327.3h1M55 321.2h1M56.2 324.7h1M50.1 322.6h1M51.3 321.9h1M60.7 324.5h1M58.7 330.7h1M52.1 323.4h1M57.5 314.5h1M56.3 322.2h1M60 323.4h1M59 323.5h1M45.8 336.7h1M53.7 320.6h1M59.9 321.9h1M60.9 319.4h1M52.5 336.2h1M50.3 329.8h1M55.8 323.8h1M52.4 322.4h1M54.8 330.7h1M50.5 320.4h1M57.7 330.8h1M56.9 330.6h1M56.5 328.5h1M50.7 328.8h1M48.6 329h1M50.1 332.6h1M56.7 324h1M48.1 334.5h1M57.3 316.9h1M61.4 330.3h1M52.5 326.5h1M54.1 333h1M58.5 326.4h1M58.2 321.6h1M52.5 326.4h1M54.2 322.8h1M55.3 330.3h1M53.8 318.7h1M57 317.2h1M56 330.6h1M59.7 325.9h1M48.5 323.6h1M59.2 327.2h1M57.9 317.5h1M54.3 326.7h1M56.4 317.9h1M58.5 328.3h1M56 325.2h1M53.9 327.8h1M55.9 314h1M52.3 321h1M50 319.8h1M51.6 324.8h1M52 327.1h1M55.5 316.1h1M57.8 321.6h1M55.7 324.6h1M60.2 325.5h1M54.5 325.1h1M52.5 328h1M52.2 333.9h1M51.5 318.4h1M53.7 332.7h1M59.9 315.8h1M49.4 328.1h1M56.9 320.6h1M54.8 327.2h1M58 323.1h1M53.2 333.3h1M57.6 315.9h1M53.1 332.3h1M57.3 327.5h1M47.7 335.8h1M56.8 321.9h1M57.7 332.4h1M49.1 330.1h1M58.1 328.2h1M50.8 328.5h1M58.6 327.8h1M55 333.6h1M57.5 323.4h1M56.4 314.9h1M50.6 328.7h1M60.7 327.1h1M59.5 320h1M51.2 325.2h1M57.1 316.3h1M56.7 327.5h1M52.5 321.1h1M51.2 332.5h1M59.8 329.5h1M53.6 336.9h1M58.4 331.1h1M62.1 328.7h1M56.9 325.4h1M51.8 338.3h1M58.7 313.2h1M50 321.7h1M51.7 337h1M65.9 316.8h1M52.1 321h1M56.4 321.4h1M51.2 332.2h1M54.6 332h1M55.8 329.2h1M45.3 327.7h1M52.7 325.8h1M57.5 328.1h1M58.3 322.8h1M56.3 328.4h1M51.6 320.4h1M56.5 331.5h1M53.2 327.6h1M52.2 327h1M55.1 323h1M63.5 309.6h1M51.7 334.7h1M58.9 321.1h1M56 325.4h1M49.6 328.2h1M51.7 332.6h1M54.4 325.4h1M53.3 337.1h1M56 329.4h1M51.4 325.4h1M51.3 324.8h1M58.8 338.2h1M54.9 321.2h1M51.9 324.8h1M55 319.9h1M61.8 323.8h1M52.9 326.4h1M49.5 335.4h1M58.5 319h1M62.3 314.9h1M59.7 333.4h1M50.1 313.4h1M47.4 329.4h1M59.7 314h1M54.3 329.3h1M56.8 320.6h1M54.3 330h1M61.2 320.6h1M55.2 327.2h1M53.8 319.7h1M55.5 325.4h1M50.5 329.2h1M55.5 326.6h1M54.6 331.8h1M47.1 334.7h1M50.7 342.9h1M50.2 320.9h1M49.1 331h1M56.2 325.2h1M59 327.2h1M56.1 333.2h1M49.4 339.8h1M48.2 337.7h1M57.7 319.6h1M53.7 321.7h1M54.4 320.7h1M50 328h1M47.3 321.1h1M63 321h1M52.5 318.1h1M54.1 324.7h1M50.5 327.7h1M60.4 329.9h1M53.4 326.3h1M54.2 324.5h1M54.9 329.4h1M54.7 321.4h1M60 330.6h1M48 329h1M57 327.8h1M52.4 325.6h1M53.2 326.9h1M52.4 325.1h1M56.3 321.9h1M49.9 328.7h1M52.7 331.3h1M56.8 317.3h1M52.6 327.2h1M52.9 332.8h1M56.1 323.8h1M55 332.3h1M53.4 330.8h1M54.9 320.2h1M51.4 324.3h1M57.8 332.3h1M50.6 334.4h1M48.7 331.4h1M56.2 326.3h1M49.8 315.5h1M51.1 327.5h1M53.8 317h1M57.2 324.1h1M52.9 326.7h1M53 326.2h1M53 329.8h1M56 326.3h1M52.7 320.4h1M55.5 323.4h1M59.6 329.2h1M53.7 338.1h1M53.2 320.9h1M51.1 330.5h1M51.8 333.9h1M50 331.4h1M50.5 327.4h1M52.4 334.3h1M55.8 336.1h1M56.3 326.7h1M53 322.6h1M55.7 318.2h1M49.7 332.9h1M62.2 330.5h1M63.7 321.1h1M54.1 327h1M56.4 324.5h1M54.9 337.9h1M57.4 320.1h1M52.2 331.9h1M48.9 325.8h1M57.5 329.3h1M50.5 331.4h1M55.8 332.9h1M51.1 327.3h1M51.7 324.2h1M58.2 322.1h1M60.5 318.5h1M54 332.2h1M53 327.2h1M55.6 316.8h1M52.5 328.9h1M48.1 326.8h1M54.5 316.9h1M46.3 328.5h1M56.1 325.4h1M52.7 323.7h1M55.2 322.9h1M49.1 322.3h1M51.8 320.9h1M56.6 336h1M59.6 316.6h1M57.6 328.1h1M56 328.3h1M50.4 328.3h1M56.6 314h1M55 332.2h1M53.4 322.8h1M59.3 336.1h1M51.7 325.2h1M61 317.1h1M52.1 334h1M52 325.5h1M54.2 327.9h1M49.7 333.8h1M52.8 322h1M54.8 319h1M48.3 329.3h1M51.5 333.4h1M49.4 328h1M52.9 325.1h1M58.7 332.2h1M52.9 333h1M53.8 326.8h1M55.4 337.8h1M50.4 325.9h1M55.4 327.7h1M52.6 322.5h1M52.1 331h1M48.2 335.5h1M52.2 326.8h1M58.3 316.9h1M59 326.1h1M53.4 326.2h1M54.8 328.6h1M53 320.5h1M50.5 330.2h1M47.9 325.6h1M60.8 328.4h1M50.9 328.7h1M55.3 325.1h1M60.3 324.7h1M53.1 330.9h1M54 335.7h1M55.6 325h1M53.3 328.3h1M55.5 322.1h1M53.4 327.3h1M58.8 316.9h1M56.4 324.1h1M50.3 336.8h1M49.7 328.9h1M52.3 325.6h1M52.4 325h1M51.9 322.8h1M58.1 328.6h1M52 325.3h1M53 323.1h1M55.2 335.8h1M47.4 335.7h1M56.3 327.2h1M56.9 321.8h1M59.9 331.5h1M51.1 338.9h1M53 327.1h1M55.5 328.2h1M53.4 330.1h1M49.4 337.1h1M58.1 328.2h1M53.7 328.9h1M56.1 324.5h1M50.8 325.3h1M58.3 326.9h1M53.5 328.4h1M52.1 326.2h1M57.7 319.8h1M58.9 323.8h1M51.3 325.5h1M58.5 325.7h1M60.8 329.4h1M55.8 330.8h1M49.6 336.5h1M56.9 315.4h1M58.7 332.4h1M51 321.3h1M61 325.9h1M54.1 326.3h1M54.4 329.9h1M58.9 319.2h1M55.6 329.5h1M59.4 314.5h1M54.8 332.9h1M56.3 319.8h1M54.9 338.6h1M55.7 322.8h1M57 324.3h1M56.6 324.2h1M53.7 329.5h1M58.3 323.6h1M54.5 324.7h1M59.3 320.7h1M57.1 324.5h1M54.5 332.3h1M52.1 324.5h1M55 326.7h1M60 321.1h1M55.5 324.1h1M58.4 326.4h1M54.5 327.8h1M53.7 320.2h1M52.3 329.7h1M47.6 329h1M56 326.9h1M55 338.8h1M54.6 326.5h1M57.7 315.6h1M51.2 334.6h1M61.1 318.1h1M49.4 324.9h1M55.7 322.3h1M50.4 331.5h1M53.8 317.4h1M59.1 320.6h1M49.3 323.6h1M55.5 329.1h1M55.2 327h1M55.5 325h1M55.7 325.1h1M57.8 319.2h1M56.6 318.5h1M56.2 329.9h1M58.1 321.2h1M57.2 324.6h1M54.3 322.6h1M50.2 320.7h1M57.7 317.1h1M53.5 328.5h1M60.9 333.9h1M52.7 326.3h1M50.3 336.4h1M59 322.8h1M52 326.6h1M49.2 331.1h1M59.1 318.1h1M49.4 328h1M59.6 321.1h1M51.2 330.1h1M56.3 313.7h1M55.6 331.2h1M48 334.1h1M54.7 327.5h1M53.2 328.3h1M55.2 324.6h1M56.7 323.5h1M60.6 324.6h1M53.9 318.9h1M54.4 321.4h1M62.7 319.4h1M57.4 336.6h1M57.6 322.4h1M49.1 339.3h1M49.6 324.5h1M52.7 308.4h1M54.1 325.2h1M56.6 325.5h1M64.9 331.4h1M50.1 323.4h1M53.2 329h1M57.1 320.1h1M55.7 327.5h1M58.9 327.1h1M53.7 321.4h1M51.4 332.7h1M62.5 325.1h1M56.4 320.7h1M50.3 333.7h1M53.5 322.7h1M54.5 329.3h1M49.2 326h1M57.6 320.4h1M55.3 332.6h1M53.4 336.9h1M52.3 332.8h1M60.8 327h1M54.4 324.5h1M51.8 339.5h1M47.1 330.7h1M50.7 330.9h1M57.2 321.5h1M60.2 317.3h1M50.3 330.8h1M47.1 333.6h1M54.8 320.9h1M54.5 323.7h1M57.8 324.8h1M52 328h1M55 319.6h1M47.8 320.9h1M50.1 325h1M52.6 328.6h1M53 330.6h1M56.6 323h1M59.2 333.6h1M49.4 321.6h1M60.9 320.6h1M51.9 327.5h1M53.1 327.6h1M58.8 325.7h1M45.8 325.9h1M49.3 324.1h1M51.6 319.1h1M55 330h1M58.7 320.1h1M58.7 324.3h1M51.3 333h1M57.4 325.2h1M53.1 319h1M60.2 322.4h1M53.6 327.9h1M58.6 333.7h1M50.9 329.9h1M57.6 320.7h1M49.6 346.6h1M55.1 331.7h1M48.7 331.1h1M54.2 321.4h1M51.8 320.3h1M51.1 327.3h1M55.6 326.9h1M57.6 321.8h1M55.1 328.5h1M55.9 324.6h1M57.4 315.9h1M59.2 333.4h1M58.5 314.2h1M56.2 331.2h1M62.1 319.7h1M52.8 314.6h1M57.7 319.6h1M50.5 334.4h1M63.6 313.6h1M53.8 323.4h1M55.3 333.2h1M59.8 317.7h1M54 329.9h1M51.6 319.2h1M47.9 328.6h1M53.7 324.8h1M62.3 322.1h1M55.3 321.5h1M61.1 329.9h1M57.8 315.3h1M53 333.7h1M49.5 327.9h1M54 321.6h1M57 327.6h1M53.9 329.9h1M55.3 325.7h1M56.8 322.8h1M53.3 337.2h1M49.3 329.6h1M53.4 321.1h1M56.8 335.5h1M51.6 332.2h1M50.7 328.4h1M50.9 322.1h1M53.7 332h1M54.1 324h1M54.4 324.5h1M49.9 326.1h1M54.7 318.6h1M52.2 338.9h1M51.1 330h1M47.7 334.7h1M50.4 324.8h1M52.3 335h1M55.1 309.9h1M56.1 322.6h1M54.7 311.1h1M55.4 327.3h1M50.4 331.9h1M57.5 327.6h1M57.6 317.2h1M57.1 324.8h1M52.7 325.7h1M54.2 327.8h1M52.8 333.4h1M49.7 325h1M53.3 331.2h1M48.8 332.8h1M48 334h1M56.6 320.9h1M56.6 321.4h1M57.7 322.4h1M53 321h1M54.7 321.9h1M56.6 320.6h1M53.2 328.6h1M47.1 326.4h1M62.9 326.2h1M59.2 321.4h1M59.3 333.9h1M55 326.2h1M51.7 327.4h1M55 319.3h1M55.7 330.5h1M49.6 335h1M52.9 325.6h1M56.8 329.4h1M60.3 333.1h1M57 320.7h1M53.2 331.4h1M50 327.4h1M62.3 322.3h1M55.2 320.1h1M57.6 324.5h1M54.9 326.1h1M49.8 332.8h1M62.8 319.6h1M57.3 323.1h1M59.3 335.9h1M51.9 328.6h1M54.7 329.7h1M59.8 325.9h1M53.5 320.7h1M52.1 327.9h1M50.6 329.1h1M49.8 320.2h1M57.8 335.9h1M54.6 323.5h1M48.1 325.8h1M60.4 325.1h1M59.5 327.9h1M59.1 328.6h1M47.9 330.2h1M55.2 334.4h1M59.6 327.4h1M50.9 328.6h1M51.8 331h1M53.9 324.8h1M47.3 328.6h1M55.6 328.4h1M58.5 321.3h1M57.2 321.4h1M60.3 324.4h1M55.1 325.5h1M54.7 325.6h1M54.1 322.8h1M52.2 335.9h1M50.8 327.1h1M52 331.9h1M54.5 329.5h1M52.8 321.9h1M55.2 326.9h1M55.1 328.4h1M57.1 331h1M52.9 318.6h1M47.1 323.1h1M51.2 333.3h1M61.9 317.6h1M57.6 319.3h1M53.3 330.4h1M54 325.5h1M54.5 332.3h1M53 315.7h1M55.5 330.9h1M57.3 329.7h1M59.3 321.7h1M53.4 323.5h1M53.7 332.2h1M53.6 320.7h1M54.9 338.7h1M58.7 328.9h1M52 320.4h1M63 322.3h1M56.9 326.8h1M58.9 329.7h1M51.5 324.9h1M53.4 328.8h1M52.9 326.4h1M55 324.4h1M47.3 327.4h1M56.6 328.8h1M48.6 329.1h1M56.2 328.2h1M58.6 327h1M54.6 326.9h1M54.2 336h1M54.2 332.3h1M54 330.1h1M55.8 320.5h1M58.3 331.5h1M57.3 326.6h1M60.5 324.8h1M55.3 322.1h1M53.1 325.5h1M53.2 336h1M50.4 332.4h1M53.6 327.2h1M52.8 328.7h1M61.6 320.9h1M57 329h1M61.7 320.6h1M48 326.2h1M56.2 333.4h1M58.9 324h1M56.3 331h1M53.4 322.8h1M55.7 324.1h1M55.5 329.6h1M55.6 327h1M56.1 326.9h1M58.6 325.1h1M56 315.4h1M56.2 328.5h1M55.2 326.8h1M56.9 316.6h1M52.6 331.5h1M57.3 330.6h1M54 336.9h1M58.4 324.8h1M53.1 331.3h1M55 316.8h1M54.6 339.4h1M51.5 327.7h1M59.1 326.5h1M56.6 325.1h1M55.4 321.3h1M59.8 315.8h1M54 329.4h1M55.2 318.6h1M59.3 328.1h1M64.3 318.6h1M55.6 328.8h1M61.2 322.8h1M55.9 323.2h1M52.3 324.1h1M57.1 328.7h1M59.8 328.6h1M56 332.7h1M57 318.1h1M51.3 326.2h1M46.9 329.9h1M56.1 333.4h1M49.9 328.1h1M54.8 316.6h1M52.6 325h1M55.5 314.1h1M58.1 331.5h1M48.7 329.1h1M54.3 330.1h1M54.3 312.1h1M59.8 322.4h1M55 320.2h1M51.8 327.2h1M52.6 332.6h1M61.4 317.3h1M51.5 335.3h1M55 325.2h1M55.8 330h1M50.6 325.6h1M51.8 328.3h1M47.5 336.1h1M51.4 313.9h1M57.2 329.2h1M55.6 328.9h1M47.8 334.3h1M60.1 327.2h1M49.9 325.2h1M51.3 326.5h1M60.7 316.8h1M56.5 327.5h1M54.5 329.7h1M60.3 318.2h1M54.5 320.3h1M56.1 322.9h1M52.7 325.7h1M54.4 326.6h1M54.5 332.4h1M58.9 319.2h1M52.5 326.3h1M54.1 326.1h1M46.8 332.8h1M48.5 321.1h1M57.3 327.6h1M53.3 324.6h1M53.5 317.1h1M57 331.7h1M53.5 322.5h1M55.1 321.1h1M53.7 323.5h1M47.3 331h1M57 324.6h1M60.2 331.3h1M59.1 327.6h1M54.9 321.1h1M55.7 325.1h1M56.1 314.7h1M60.2 317.8h1M59.1 324h1M53.4 328.6h1M54.2 329h1M53.9 321.5h1M52.5 326h1M52.4 326.1h1M54.1 328.4h1M45.7 332.9h1M55.9 324h1M52.9 332.8h1M50.1 322.1h1M53.8 327h1M51.8 325.3h1M58.9 322h1M50.4 342.6h1M54.8 324.5h1M55.8 332.8h1M51.4 327h1M50 324.7h1M55.9 331.9h1M53 320.5h1M51.1 325.5h1M49.2 328.2h1M56.7 318.2h1M60 332.3h1M52.6 324.9h1M56.4 328.2h1M58.5 319.2h1M58.2 324.5h1M52.4 327h1M52.7 348.4h1M46.8 341.8h1M45.3 350.8h1M51.8 346h1M47.5 330.5h1M43.4 336.7h1M48.3 357.2h1M48.8 354.4h1M52.2 332.7h1M51.2 351.3h1M51.4 344.5h1M53.5 334.8h1M44.7 352.4h1M50.4 347.7h1M47.5 347.1h1M45.3 337.3h1M48.6 343.1h1M43.1 349.9h1M47.1 346.6h1M43.1 351.6h1M49.3 339.4h1M49.4 361.2h1M41.1 344.2h1M49.3 357.7h1M46.9 333.5h1M51.3 356h1M52 341.8h1M45.7 347h1M47.5 332.5h1M46 352.8h1M53.3 336h1M52 353.1h1M54.6 349.8h1M47.5 358.3h1M51.7 356.7h1M49.1 340.2h1M51.6 350.6h1M47 352.8h1M46.1 351.6h1M54.2 349.1h1M44.2 359.9h1M50.8 339.8h1M57.6 331.1h1M44.5 352.3h1M47.8 366.6h1M50.4 343.3h1M41.8 360.1h1M50.3 340.7h1M43.9 362.1h1M42 350.5h1M48.7 351.5h1M44.9 343.8h1M51.6 352.5h1M51.3 354.3h1M51.4 353.4h1M45.2 351.8h1M45.5 336.1h1M49.2 347.4h1M41 345.7h1M50.2 338h1M51 338.8h1M53.3 339.1h1M48 357.1h1M44.5 351.6h1M52.7 367.9h1M44.1 350.1h1M50.6 344.2h1M47.9 354.9h1M40.7 346.1h1M48.2 348.4h1M49.4 340.5h1M50.6 346.1h1M50.4 350.4h1M42.1 342.5h1M50.1 344.3h1M46 338.6h1M46.5 339.8h1M51.9 336h1M43.6 347.7h1M52.8 351.2h1M50 347.8h1M41.8 328.2h1M45.7 348.6h1M45 339.9h1M46 362h1M49.7 338.8h1M52.1 334.4h1M54.3 335.8h1M47.6 358h1M51.3 342.8h1M46.3 351.9h1M47.9 353.4h1M47.6 352.2h1M52 348h1M43.2 362.9h1M46.6 328.1h1M43.7 352.6h1M49.8 335.2h1M49.4 341.8h1M50.7 350.2h1M40.4 349h1M45.7 351.2h1M46.5 345.8h1M49.6 354.9h1M44.4 358.8h1M50.7 330.2h1M50.7 343.8h1M48.6 343.3h1M38.4 363.7h1M43.2 358h1M52.1 346.4h1M47.7 356.7h1M43.5 355.7h1M42.7 355.2h1M46.8 341h1M49.1 357h1M41.3 348.2h1M47.3 341.3h1M51.5 357.6h1M52.2 346.1h1M46.5 367.8h1M42.9 340h1M49.5 352h1M43.4 353.2h1M52.6 341.6h1M50.1 348h1M40.8 352.6h1M47.2 341.5h1M46.2 346.6h1M40.5 345.5h1M53.9 339.3h1M47.5 350.8h1M46.8 353.9h1M49.7 332.6h1M47.1 341.3h1M45.4 332.1h1M49.9 345.6h1M45.8 359.3h1M52.1 341.2h1M43.8 341.1h1M45.1 338.5h1M53.8 338.6h1M48.1 338.3h1M46.2 360.6h1M54.1 344.2h1M47.9 342.8h1M42.9 354.5h1M45.7 357.4h1M49.3 352.4h1M49.8 354.2h1M43.1 347.6h1M48 359.5h1M45.2 348.1h1M47.7 354.5h1M45.9 335.3h1M49.7 346.2h1M46.5 345.1h1M51.7 340.8h1M46.1 354h1M50.6 342.6h1M43.3 353.6h1M42.2 346.4h1M49.2 349.6h1M44.6 342.1h1M46.7 353.5h1M44.9 344.8h1M52.8 339.6h1M49 348.9h1M50 357.1h1M44.1 341.7h1M47.2 334.7h1M45.8 343.7h1M47.7 344h1M50.2 340.9h1M47.8 345.4h1M45.1 353.9h1M55.4 356.3h1M52.2 331.5h1M44.8 354.4h1M45.2 345.5h1M49.6 358.9h1M47.8 338.1h1M49.6 343.3h1M47.5 352.5h1M44.3 358.9h1M46.5 345.8h1M46.8 334.2h1M48.1 352.1h1M47 348.2h1M38.6 347.4h1M45.9 349.2h1M53.8 343.1h1M46.3 341h1M55.2 346.2h1M47.4 347.2h1M43 362h1M46.1 345.3h1M50.5 333.9h1M48.7 346.3h1M51.6 341.9h1M49 353h1M51.5 333.1h1M47.1 341.1h1M42.8 359.5h1M52 345.7h1M52.2 354.2h1M48.6 356.8h1M42.3 349.2h1M48 348.6h1M52.2 337.2h1M46.9 352.4h1M46.5 348.7h1M44.1 346.5h1M51.8 338.4h1M52.7 348h1M46.1 349.2h1M52.4 341h1M49 347.8h1M57 346.3h1M48.6 336.6h1M41.9 343.6h1M44.9 345.4h1M52.7 353.3h1M45.6 336.3h1M40.7 360.1h1M54.3 347.6h1M46.1 345.8h1M43.8 347.1h1M51.6 341.9h1M43.1 357.8h1M52.5 343.8h1M57.8 345.6h1M49.3 337.4h1M46.8 354h1M45.3 349.8h1M45.5 352.5h1M58.5 327.4h1M49.2 365.4h1M49.5 341.8h1M47 332.1h1M44.3 356.3h1M50.8 346.3h1M46.7 341.4h1M49.9 335.5h1M45.3 360.3h1M46.6 351h1M46.3 342.7h1M41.9 338.4h1M47.5 349.2h1M51.6 361.4h1M44 347.3h1M47 347.5h1M45 340.5h1M53.8 342.7h1M48.6 337.5h1M39.5 347.6h1M50.3 344.8h1M54.2 342.4h1M52.9 346.7h1M54.7 348.4h1M51.2 332.3h1M51.7 339.4h1M48.2 338.4h1M47.6 347.7h1M49.9 343.3h1M54.9 335.6h1M54.8 352.4h1M48 342.4h1M46 342.6h1M54.5 355h1M50.4 347h1M45.5 349.8h1M50.9 345.7h1M49.2 348.4h1M44.7 347.2h1M45.8 355.3h1M43.9 348.7h1M53 356.5h1M49.2 362.1h1M51.7 342.3h1M49.5 335.1h1M48.5 352.3h1M48.8 355.9h1M47.8 342.2h1M42.3 350.1h1M47.9 347.6h1M48.3 352.7h1M46.1 348.9h1M48.2 357.5h1M47.5 349.8h1M48.7 355.8h1M48.1 345.6h1M52.1 343h1M53.5 352.1h1M52.8 346.1h1M48.1 339h1M44.3 356.6h1M49.6 344.6h1M46.7 360.4h1M45.7 354.1h1M49.5 339.1h1M49.8 343.7h1M48.3 342.2h1M55.7 345.7h1M49.1 334.8h1M47.7 333.4h1M50.9 346.4h1M51.3 343.7h1M47.2 356.2h1M51.2 348.4h1M45.9 361.1h1M43.7 357.6h1M46.6 360.8h1M52.1 346.3h1M45.8 335.2h1M41.6 346.9h1M45.3 331.2h1M50.7 351h1M51.1 356.4h1M49.4 345.2h1M49.5 335.5h1M51.1 350.9h1M53.8 348.6h1M51.1 342.8h1M44.8 353.3h1M54.3 343.8h1M52.3 342.4h1M44.5 350.9h1M43 356.6h1M46.2 344.5h1M55.2 330.3h1M51.6 345.6h1M40 361.1h1M48.4 338.9h1M50.4 348.3h1M46.8 350.1h1M51.6 347.6h1M41.1 352.2h1M49.2 350.2h1M49 338.6h1M50.4 336.3h1M46.4 341.2h1M51.9 331.8h1M44.2 350h1M50.3 347h1M46.8 338.3h1M50.3 361.8h1M55.2 340.4h1M45.8 343.8h1M45.7 357.5h1M48.6 357.6h1M44.1 334.5h1M46.6 325.8h1M52.4 356.5h1M46.1 349.4h1M50.8 338.6h1M50.6 331.2h1M37.3 363.4h1M41.6 362.7h1M49 349.6h1M52.4 352.4h1M48.5 329.4h1M48.1 348.1h1M44.7 343.8h1M48.8 347.7h1M47.5 341.6h1M52.5 340.4h1M54 336.8h1M49.8 338.5h1M39.4 350.5h1M48.7 342.9h1M52 342.1h1M47.8 344.4h1M54.7 348.8h1M45.5 353.3h1M42.4 355.3h1M52.5 345.8h1M46.2 340.5h1M44.8 343.8h1M47.6 351.5h1M44.5 351.9h1M47.5 354.6h1M45.9 352.2h1M47.1 354.2h1M52.6 350.1h1M44.7 352.6h1M50.2 345h1M51.1 345.4h1M47.2 340.4h1M43.8 339.2h1M51.1 356.1h1M52.5 331.9h1M46.8 343.9h1M46.8 343.3h1M47.4 345h1M49.3 345.7h1M49.4 331.5h1M47.7 360.7h1M51.8 362.5h1M50.8 340.2h1M47.6 335.6h1M53.7 348.5h1M52 345.8h1M55.6 345h1M47 337.3h1M54.9 335.4h1M48.1 346.3h1M47.4 329.6h1M48.7 337.2h1M42 358h1M51.9 344.5h1M51.3 345.6h1M45.5 336.5h1M47.6 336.3h1M53.6 340.9h1M48.2 353.1h1M47.7 339.8h1M51.1 345.5h1M48.1 336h1M44.3 339.2h1M46.6 340.3h1M42.5 347.2h1M46.1 350.1h1M47.9 340.4h1M47.2 327.7h1M47.3 339.2h1M41.1 346.8h1M48.8 348.6h1M51.4 342.6h1M47.2 336.7h1M45.2 353.9h1M52.2 334.3h1M45 346.2h1M51.8 342.1h1M44.5 348.3h1M44.8 354.6h1M45.5 346.5h1M52.7 349h1M53.4 343.2h1M43.2 355.6h1M51.2 351.3h1M52.2 328.9h1M41.9 352.6h1M46.9 339h1M45.5 340h1M54.1 339.3h1M45.4 345.8h1M40.8 343.8h1M44.3 339.2h1M51 348.3h1M44.5 337.7h1M52.4 357h1M49.9 339.6h1M51.9 332.5h1M45.6 341.2h1M50.4 352.6h1M46.2 336.7h1M47.6 347.6h1M46.9 371.5h1M50.8 339.6h1M47.2 338h1M55.5 342.9h1M43.6 368.7h1M48.6 348.6h1M50.4 346.7h1M47 348.6h1M56.6 329.2h1M49 342.3h1M52.7 348.7h1M51.4 342.3h1M49.5 358.2h1M44.5 344.5h1M44.2 340.1h1M44.4 338.1h1M48.1 366.9h1M48.2 359.4h1M53.1 341.7h1M42.6 356.1h1M44.2 361.5h1M51.8 345.8h1M53.6 349.2h1M49.4 335.6h1M48.5 332.3h1M55.7 347.2h1M47.8 340.9h1M47.8 357.6h1M52.3 337.9h1M53 354.9h1M46 343.4h1M53.7 340.4h1M47.1 346.3h1M51.6 341.6h1M50.2 342.1h1M43.1 350.6h1M50.6 341.7h1M46.9 342.4h1M46.7 338.3h1M46.4 341.9h1M48.6 334.5h1M45.3 349h1M45.9 337.9h1M46.1 338.9h1M52.5 338.8h1M48.1 343.7h1M45 353.1h1M54.6 340.4h1M49.5 342.1h1M46.7 342.7h1M44.6 345.7h1M47.2 341.1h1M53.7 351.6h1M46.2 345.6h1M45.3 335.7h1M45.5 344.6h1M51.6 345.6h1M52.8 349.4h1M50 345.1h1M51.3 354h1M44.2 336.3h1M49.8 357.9h1M41.7 347h1M50 345.9h1M40.5 355.3h1M40.5 333.2h1M47 357h1M47.3 339.5h1M50.2 350.3h1M44.5 350.3h1M53.8 345.6h1M41.7 359.1h1M50.1 343h1M49.5 351.9h1M46.9 352.2h1M44.1 343.4h1M50.1 353.1h1M49.3 348.4h1M44.9 341.3h1M52.2 350.6h1M59.2 348.1h1M45.1 361h1M54 330.8h1M54.3 350.8h1M49.3 351.7h1M53.9 335.5h1M53 340.6h1M49.8 353.7h1M52.9 346.3h1M45.7 363.7h1M44.2 346.8h1M45.8 358.8h1M47.3 342.1h1M56.3 331h1M39.5 357.3h1M51.8 353.3h1M45.4 351.5h1M51.4 346.6h1M53.7 347.8h1M46.7 355h1M50.1 340.7h1M53.8 343.2h1M47.7 358.7h1M43.7 350.2h1M48 350.9h1M51.5 337h1M47.9 342.3h1M45.1 348.6h1M53.6 346h1M47.2 353.6h1M44 351.3h1M43.2 342h1M45.9 373.7h1M51.7 341h1M48.5 346.7h1M49.7 338h1M46.6 357.2h1M47.9 348.1h1M53.6 346.3h1M49.1 348.5h1M48.5 341.6h1M51 330.6h1M44.4 340.6h1M46 359.7h1M43.4 353.5h1M49.9 344.7h1M51.9 351.2h1M50.8 345.2h1M51 351.5h1M43.7 351.4h1M47.6 341.3h1M54.2 345.6h1M50.8 349.6h1M55 339.2h1M51.1 334.4h1M56.3 342.1h1M46.2 349.9h1M42.4 344.7h1M43.3 348.7h1M44.5 345.7h1M47.5 337.4h1M46.7 324.7h1M50.9 346.8h1M48.4 342.2h1M50.9 348.3h1M54.9 347.3h1M49.2 339.4h1M40.8 329.7h1M50.5 349.1h1M51.8 335.7h1M53.7 340.1h1M50.4 344.8h1M50.5 335.7h1M49.7 354h1M52.7 352.7h1M55 345.9h1M41.4 341.4h1M48 346.2h1M50.7 342.9h1M45.1 369.9h1M51.6 347.5h1M51.5 354.8h1M51.1 339.4h1M51.1 344.1h1M48.9 360.8h1M48.2 353.8h1M49.1 356.6h1M49 336.1h1M49.9 342.8h1M50.8 350.3h1M46.5 345.6h1M48.4 350.4h1M48.8 353.3h1M45.4 352.9h1M48.9 351.5h1M48.4 339.8h1M44.8 348.7h1M49.1 344h1M48.6 339.4h1M40.5 363h1M47.2 344.5h1M46.3 359.1h1M43.4 351.2h1M45.6 360h1M52.2 348.3h1M55.2 326.2h1M48 347.1h1M48.3 351.6h1M44.9 344.8h1M43.7 353.7h1M46.8 341.8h1M46.8 352.4h1M50.9 341.5h1M56.3 356.9h1M46.8 363.1h1M46.7 331.1h1M52.5 343.9h1M43.7 348.8h1M57.3 358.8h1M52 355.9h1M50.1 343.4h1M50.7 339.2h1M50.8 350.1h1M47.4 352.6h1M49.3 354.1h1M51.6 341.1h1M51 359.2h1M44.5 349.2h1M46.7 322.3h1M48.6 328.5h1M45.4 359.1h1M50.2 350.2h1M44.2 336.1h1M47.8 361.9h1M49.7 335.7h1M47 327.8h1M49.9 349.1h1M44.2 346.5h1M49.4 354.9h1M54 334h1M51.9 346.8h1M57.4 341.5h1M42.2 345.4h1M49.2 341.5h1M48.8 355.6h1M52.1 348.8h1M51.9 348.3h1M45 332.5h1M49.9 340.3h1M45.2 358.9h1M46.4 336.2h1M47 349.6h1M47.8 351.5h1M41.7 346.6h1M52.4 366.6h1M43.1 339.5h1M49 336.4h1M50.2 340.5h1M49.1 342.1h1M52.1 344.2h1M46.5 334.5h1M48.8 352.2h1M47.4 341.5h1M51.4 353.8h1M43.6 355.2h1M48.4 348.8h1M52 325.9h1M57.3 352.4h1M53.1 346.7h1M43.9 358.7h1M46 352.5h1M52.5 348.5h1M46 337.8h1M44.7 336.6h1M50.8 341.6h1M49.1 338.7h1M47.6 349h1M52.2 355.3h1M42.4 345h1M41.4 348.8h1M53.2 337.6h1M41.8 370.5h1M46.3 337.1h1M44.5 356.7h1M47.4 335.3h1M44.2 354.7h1M47.9 357h1M51.7 349h1M49.7 352.8h1M47.3 355.9h1M44.9 355.6h1M51.5 346h1M39 344.4h1M40.2 355.8h1M47.3 356.4h1M46.3 358.7h1M52.7 347.8h1M51.8 339.9h1M41.6 357.7h1M45.7 341.8h1M41.8 353.4h1M51.6 347.1h1M44.5 351.9h1M47.1 355.8h1M47.6 341.5h1M53.8 351.7h1M50.9 337.9h1M44.4 347.3h1M49.2 350.8h1M52.7 342.8h1M43.1 350.3h1M46 344.9h1M56.3 356.1h1M53.7 333.3h1M50.1 345.9h1M48.9 342.5h1M49.5 348.6h1M46.6 352.3h1M42 344.9h1M55.4 340.6h1M48.8 343.9h1M44.6 345.5h1M52 346.5h1M44.7 346.6h1M54.5 333.2h1M49.6 347h1M49.3 344.1h1M42.9 350.9h1M49.2 349.7h1M53.5 346.9h1M50.9 336.2h1M46.8 346h1M49 342h1M47.8 336.5h1M49.8 332.1h1M49.8 337.1h1M46.4 342.3h1M51.9 349.4h1M51.1 341.1h1M48.7 348.4h1M48.5 339.8h1M48 346h1M47.4 347.1h1M44.6 354.7h1M45.5 337.6h1M46.9 348.7h1M55.2 358.1h1M43.6 356.9h1M45.7 352.7h1M49.1 327.7h1M51.3 333.6h1M47.8 343.3h1M45.6 341.8h1M43.4 349.9h1M47 342.5h1M50.6 343.5h1M49.4 346.5h1M50.3 342.3h1M50.2 346.3h1M51.1 352.7h1M48.4 357.4h1M42.2 341.9h1M53.2 338.2h1M53.6 349h1M49.9 342.3h1M40.1 354.5h1M44.1 342.2h1M55.2 354.9h1M54.9 337h1M46.3 340.5h1M49.3 341.8h1M44.5 340.5h1M51.5 343.5h1M47.7 342.3h1M45 338.1h1M41.3 347.5h1M51.8 346.1h1M45.2 339.4h1M49 335.6h1M55.1 335.3h1M49.2 337.1h1M55.8 336.7h1M55.9 340.1h1M51.6 351.9h1M52.2 340.4h1M49.9 350.3h1M48.4 366h1M42.2 359.6h1M53.7 344.8h1M47.3 339.8h1M47.3 344.5h1M52 347.9h1M42.7 343.4h1M48 351h1M51.4 348.3h1M42.9 344.7h1M48.8 344.4h1M45.9 340.1h1M46.2 348h1M46 360.6h1M41.4 349.3h1M48.5 341.9h1M49.1 335.6h1M45 361h1M45.2 342.8h1M43.9 350.5h1M47.5 343.6h1M47.9 344.7h1M52.8 350.4h1M55.3 342.8h1M48.3 344.4h1M50.3 355h1M43 356.1h1M39.5 353h1M48 331.4h1M47.8 346.3h1M47.2 352.2h1M44.1 345.8h1M44.7 359.1h1M44.7 335.6h1M50 346.3h1M46.3 327h1M49.4 335.6h1M49.3 356.6h1M53.4 353.7h1M46.1 346h1M42.5 352h1M42.7 346.8h1M47.1 358.8h1M46.7 357.1h1M51 337.1h1M53.1 335.4h1M43.9 346h1M46.8 343.6h1M51.4 351.4h1M49 339.7h1M56.2 333h1M48 347.5h1M51.4 350.7h1M41.4 358.9h1M45.1 333.7h1M53.2 343.9h1M54.8 336.8h1M49.1 337.5h1M42.2 354.9h1M49.3 345.9h1M50.9 342h1M49.1 348.2h1M47.6 344.5h1M47.6 341.9h1M46.6 350.6h1M49.8 343.5h1M47 353.1h1M51.9 343h1M50.1 336.8h1M45.9 349.8h1M46.4 360.4h1M48.6 347.5h1M51.8 343.5h1M47.4 335.2h1M51 343.8h1M49.8 343.5h1M47 348.2h1M46.2 350.2h1M51.3 339.7h1M50.6 340.8h1M48 337.4h1M48.7 356.8h1M42.2 341.9h1M45.2 342.9h1M46.1 342.1h1M52.4 351.6h1M47.1 342.7h1M47.8 331.4h1M38.6 360.6h1M46.3 351.2h1M47.7 357.4h1M47.7 347.9h1M48 348.6h1M43.2 334.6h1M47.8 356.5h1M47.4 347.1h1M58.4 355.6h1M51.8 339.1h1M46.3 341.5h1M50.2 339.7h1M48.3 349.3h1M46.5 345.4h1M48 336.8h1M50.8 342.8h1M49.8 346.8h1M52.9 351.2h1M42.2 340.9h1M48.7 347.2h1M52.7 344.6h1M41.8 349.5h1M44.3 360.5h1M53 340.9h1M46.9 341.1h1M51.3 331.1h1M47 339.5h1M49.1 340.2h1M48.2 342.4h1M47.2 355.5h1M48.5 354.5h1M45.4 342.5h1M46 351.8h1M51.2 349.8h1M47.2 354.7h1M51.8 346.9h1M43.9 338.8h1M54.5 331.9h1M40.6 354.5h1M54.2 351.1h1M47.8 348.7h1M49.4 348.6h1M47.5 353.4h1M43.7 353.9h1M46.9 350.5h1M51.7 348.2h1M48 348.1h1M54.5 335.5h1M47.5 340.4h1M47.3 341.6h1M52.9 341h1M48 337.2h1M49.2 352.5h1M52.2 345.4h1M53.1 344h1M56 336.6h1M50.4 344.9h1M45.8 363.1h1M43.6 355.5h1M47.3 349h1M44 364.1h1M55.2 337.2h1M48.1 359.2h1M46.9 355.3h1M45 350.3h1M51.9 337.6h1M45.8 344.5h1M43.5 353.9h1M53.1 338.7h1M50.2 338.7h1M55.5 337h1M48.2 347h1M54.5 355.5h1M47.6 355.6h1M48.2 360.5h1M48.5 338.7h1M40.8 346.8h1M51.5 346.4h1M50.5 342.7h1M44.7 356.5h1M48.4 346h1M46.9 352.3h1M42.4 341h1M51.4 348.4h1M46.4 360.8h1M45.7 355.9h1M45.5 346.5h1M45.4 352.4h1M43.4 349.6h1M53.4 339.4h1M48.7 354.4h1M48.3 335.5h1M36.9 349.9h1M54.9 348.5h1M51.3 340.1h1M42.4 354.2h1M47.3 353h1M43.2 340.4h1M51.8 335.9h1M45.8 329.2h1M52.3 351.6h1M49.6 350.1h1M50.4 338.1h1M42.9 347.8h1M50.2 340.1h1M46.9 348.5h1M46.6 358.5h1M42.7 356.9h1M52.4 343.6h1M47.2 352.4h1M49.7 346.7h1M45.4 326.1h1M46 347.8h1M48.7 348.6h1M45.3 364.1h1M50.6 342.5h1M52.9 357.1h1M46.3 341.5h1M47.8 341.5h1M55.3 326.3h1M47.7 363.7h1M45.7 345.5h1M44.9 342.7h1M50.3 348.7h1M55.1 342.1h1M46.6 349.2h1M47.3 363h1M50.6 347.1h1M45.4 358.9h1M47.8 348.5h1M51.4 345.1h1M47.6 363.4h1M50.1 353.6h1M47.9 348h1M51.5 365.4h1M47 341.6h1M55.1 336.8h1M47.2 357.3h1M42.7 361.6h1M48.3 357.3h1M50.8 348.7h1M46.6 342.1h1M50.2 348.1h1M50.5 327.3h1M47.1 355.7h1M51.1 341.8h1M38.8 333.9h1M55.1 345h1M50.8 347.5h1M44.6 342.1h1M45.1 352.3h1M50.5 343.2h1M53.8 346.5h1M51.8 334.8h1M46.4 347.9h1M40.9 355.6h1M45.3 325.4h1M47.1 356h1M48.6 352.5h1M44.3 353.2h1M45.7 335.6h1M48.8 361.5h1M47.5 350.7h1M46.5 367.3h1M49.8 338.4h1M53.9 347.4h1M52.1 352.7h1M57.8 338.6h1M43.7 343.5h1M45 344.4h1M46.5 371.8h1M52.9 353.8h1M51.1 337.1h1M43.5 339.2h1M40.7 368.2h1M51.3 355.3h1M48.5 346.4h1M51.5 340h1M48.7 346.7h1M53.1 348.1h1M51.4 355.3h1M52.1 345.1h1M46.4 352.5h1M51 354.7h1M45.3 354.7h1M53.2 334h1M44.2 363.8h1M50 334.3h1M45.8 347.4h1M44.3 360.1h1M50.2 337.2h1M52.2 361.6h1M49.4 348.7h1M48.8 337h1M44.2 350.7h1M49.7 337.3h1M48.4 350h1M48.6 332.5h1M52.7 352.8h1M43.1 351.8h1M47.7 346.5h1M47.1 346.5h1M58.3 351.6h1M43.3 346.1h1M47.3 342.5h1M51 336.5h1M51.3 348.2h1M46.9 353.1h1M47.6 338.1h1M44.7 359.5h1M49.4 340.3h1M44 342.1h1M46.4 343.6h1M50.1 339.7h1M50 349.6h1M60.1 346.8h1M43.2 370.4h1M46.5 346.5h1M46.5 338.2h1M53 343.9h1M53.7 349.1h1M44.6 342.3h1M50.4 344h1M43.7 353.9h1M50.3 350.6h1M48.9 335.7h1M48 346.8h1M49.4 350.2h1M55 343.3h1M49.7 352.3h1M43.2 348.9h1M49.5 346.9h1M47.4 352.6h1M53.5 346.5h1M51.6 352.1h1M50.1 351.3h1M49.6 346h1M46 364.2h1M63 287.9h1M48.9 322h1M57.3 335.8h1M57.7 334.6h1M47.6 347.7h1M41.8 342.8h1M55.5 348.7h1M54.3 330.4h1M45 325.4h1M54 342.5h1M57.5 328.6h1M59.5 329.3h1M55.5 335.8h1M48.7 349h1M56.2 323h1M48.8 330.5h1M49 335.9h1M57.1 337.3h1M57.6 341.6h1M55.1 345h1M47.7 350h1M52.4 343.5h1M49.7 349.9h1M50 340.9h1M52.2 336.3h1M51.6 349.5h1M45.6 343.5h1M42.9 340.9h1M56.6 326.8h1M55.7 341.3h1M55.7 323.6h1M51.7 337.2h1M56.3 342.9h1M44.9 332.3h1M53.5 352.1h1M49.9 322.3h1M55 342.7h1M56.3 334.2h1M46.6 351.8h1M50.6 345.1h1M38 342.6h1M51 318.2h1M56.5 318.1h1M55.4 335.2h1M52.2 317.5h1M61.9 356.5h1M53.1 319.7h1M57.9 326.7h1M51.8 351.3h1M39.2 356.1h1M45.6 355.9h1M51.3 331.1h1M49.9 350.2h1M56.8 337.4h1M55.4 345.8h1M55.5 346.2h1M39.6 344.8h1M55.3 337.1h1M54.8 348.2h1M56.8 328.6h1M53 330h1M56 337.2h1M55.6 320.4h1M59.1 334.9h1M39.6 339.8h1M48.5 329.6h1M44.6 344.8h1M50.1 328h1M50.4 315.6h1M49.9 329.3h1M49.1 326.8h1M37.3 354.1h1M50.1 357.1h1M48 350.5h1M53.2 335.4h1M44 333.3h1M61.1 311.5h1M49.6 345.8h1M48.4 334.6h1M57.8 334.5h1M53 329.2h1M53.9 310.5h1M59.6 327.8h1M64.5 328.3h1M41.3 357.9h1M39.8 356.5h1M61 332.7h1M43 344.9h1M52.1 347.1h1M56.5 329.4h1M45.7 322.6h1M54 339.4h1M53.4 355.2h1M44.5 332.9h1M45.7 319.4h1M38.9 347.3h1M43.8 345.7h1M47.6 328h1M57.4 344.2h1M52.8 350.3h1M55.5 329.2h1M40.1 371.2h1M53.9 349.4h1M47.5 334.6h1M41.3 346.6h1M36.1 354.3h1M54.7 332.6h1M51.1 327.2h1M49.1 330.5h1M48.1 356.8h1M49.8 333h1M48.5 350.4h1M44 346.1h1M57.9 364.1h1M57.7 338.8h1M40.7 347.3h1M64.1 342.1h1M51.7 338.8h1M53.9 325.6h1M47.8 341.6h1M52.2 339.3h1M64.8 327.6h1M48.6 330.3h1M48 346.9h1M57.4 343.5h1M50.5 344.6h1M42.3 322.8h1M58.3 310.9h1M40 356.7h1M40.7 336.3h1M57.5 344.3h1M56.4 338.8h1M34.4 347.7h1M51.3 337.9h1M49.1 340.7h1M52 337.3h1M41.7 337h1M51 348.5h1M61.6 321.9h1M53.2 339.4h1M35.2 353.4h1M53.5 322.4h1M64.8 323h1M57.2 316h1M43.8 345.8h1M41.2 343.9h1M51.3 340.5h1M57.9 327.8h1M50.2 337.4h1M64.8 331.2h1M53.2 327.6h1M56.2 344.4h1M50.3 337.3h1M50.1 327.7h1M53.9 337.7h1M49 340.6h1M64.3 317h1M54.6 325.3h1M48.3 331.7h1M44.9 358.6h1M54.3 334.2h1M47.3 346.1h1M47.8 347.8h1M58.7 340.4h1M44.6 346.8h1M49.7 356.1h1M40.6 360.3h1M50.6 332.1h1M40.6 358.4h1M53.8 332.5h1M45.9 345h1M51.1 362.5h1M40.9 368.2h1M61.5 343h1M52.6 335.5h1M58.7 333.9h1M59.2 333.8h1M57.5 322.8h1M38.8 359.8h1M56 335.3h1M46.6 358.4h1M63.4 325h1M50 316.8h1M40.2 359.9h1M41 339.4h1M45.2 334.8h1M55.4 344.1h1M48.4 344.9h1M50.4 332.7h1M53 352.6h1M50 340.8h1M55.4 328.5h1M67.5 323h1M61.1 342.6h1M33.6 371.8h1M45.3 330.2h1M59.3 317.4h1M55.6 335h1M51.7 350.7h1M62.7 324.9h1M68.9 350.8h1M70.2 330.4h1M64.4 316.3h1M42.5 336.2h1M69.6 352h1M69.8 321.2h1M86.8 352.1h1M78 328h1M50.9 323.5h1M70.8 302.7h1M59.9 350.1h1M93.4 341.4h1M82.6 333.5h1M76.7 308.9h1M56.3 339.8h1M57.2 324.1h1M60.4 326.9h1M89.6 334h1M82.2 321.4h1M71 340.1h1M59 316.8h1M69.1 329.8h1M59.6 352.4h1M76.8 326h1" stroke="#d93412" stroke-width="1" fill="none"/>
<rect x="22.2" y="269.2" width="101.6" height="105.6" fill="none" stroke="#1a1a1a" stroke-width="1.3"/>
<path d="M54.2 269.2V374.8M22.2 332.8H123.8" stroke="#1a1a1a" stroke-width="1.1" fill="none"/>
<path d="M22.2 374.8v2.6M29.8 374.8v1.6M34.3 374.8v1.6M37.5 374.8v1.6M40 374.8v1.6M42 374.8v1.6M43.7 374.8v1.6M45.1 374.8v1.6M46.4 374.8v1.6M47.6 374.8v2.6M55.2 374.8v1.6M59.7 374.8v1.6M62.9 374.8v1.6M65.4 374.8v1.6M67.4 374.8v1.6M69.1 374.8v1.6M70.5 374.8v1.6M71.8 374.8v1.6M73 374.8v2.6M80.6 374.8v1.6M85.1 374.8v1.6M88.3 374.8v1.6M90.8 374.8v1.6M92.8 374.8v1.6M94.5 374.8v1.6M95.9 374.8v1.6M97.2 374.8v1.6M98.4 374.8v2.6M106 374.8v1.6M110.5 374.8v1.6M113.7 374.8v1.6M116.2 374.8v1.6M118.2 374.8v1.6M119.9 374.8v1.6M121.3 374.8v1.6M122.6 374.8v1.6M19.6 374.8h2.6M20.6 366.9h1.6M20.6 362.2h1.6M20.6 358.9h1.6M20.6 356.3h1.6M20.6 354.3h1.6M20.6 352.5h1.6M20.6 351h1.6M20.6 349.6h1.6M19.6 348.4h2.6M20.6 340.5h1.6M20.6 335.8h1.6M20.6 332.5h1.6M20.6 329.9h1.6M20.6 327.9h1.6M20.6 326.1h1.6M20.6 324.6h1.6M20.6 323.2h1.6M19.6 322h2.6M20.6 314.1h1.6M20.6 309.4h1.6M20.6 306.1h1.6M20.6 303.5h1.6M20.6 301.5h1.6M20.6 299.7h1.6M20.6 298.2h1.6M20.6 296.8h1.6M19.6 295.6h2.6M20.6 287.7h1.6M20.6 283h1.6M20.6 279.7h1.6M20.6 277.1h1.6M20.6 275.1h1.6M20.6 273.3h1.6M20.6 271.8h1.6M20.6 270.4h1.6" stroke="#222" stroke-width="0.65"/>
<text x="90" y="284.9" font-size="9.9" font-weight="bold" text-anchor="start" stroke="#000" stroke-width="0.3" >Mac</text>
<text transform="translate(17.2 208.2) rotate(-90)" font-size="9.6" font-weight="bold" stroke="#000" stroke-width="0.3" >CD4</text>
<text transform="translate(16.6 337) rotate(-90)" font-size="9.6" font-weight="bold" stroke="#000" stroke-width="0.3" >CD4</text>
<text x="114.5" y="263.5" font-size="10.1" font-weight="bold" text-anchor="start" stroke="#000" stroke-width="0.3" >CCR5</text>
<text x="61.2" y="388.2" font-size="9.6" font-weight="bold" text-anchor="start" stroke="#000" stroke-width="0.3" >CCR5</text>
<path d="M140 372.8L140.5 372.8L141 372.8L141.5 372.8L142 372.8L142.5 372.8L143 372.8L143.5 372.8L144 372.8L144.5 372.8L145 372.8L145.5 372.8L146 372.8L146.5 372.8L147 372.7L147.5 372.7L148 372.6L148.5 372.6L149 372.5L149.5 372.4L150 372.4L150.5 372.3L151 372.2L151.5 372.2L152 372.1L152.5 372L153 372L153.5 372L154 372L154.5 371.8L155 371.9L155.5 372.7L156 372L156.5 371.5L157 371.5L157.5 369.5L158 368.6L158.5 369.9L159 369.2L159.5 370.6L160 371.7L160.5 368.1L161 367.3L161.5 364.7L162 362.5L162.5 363.2L163 360.6L163.5 360.6L164 359.7L164.5 359.7L165 357.9L165.5 356.7L166 359.1L166.5 358.7L167 353.8L167.5 354.8L168 354.9L168.5 357.3L169 354.7L169.5 357.7L170 355L170.5 356.6L171 357.4L171.5 354.4L172 353L172.5 351.8L173 346.4L173.5 336.4L174 332.7L174.5 325.3L175 329.8L175.5 335.8L176 324L176.5 314.8L177 320.7L177.5 313.4L178 324.3L178.5 320.2L179 325.2L179.5 324.8L180 332.5L180.5 330.4L181 329L181.5 331.2L182 335.6L182.5 335.3L183 336.1L183.5 335.9L184 333.3L184.5 335.6L185 337.3L185.5 339.7L186 339.2L186.5 345.8L187 341.6L187.5 339.2L188 346.2L188.5 339.9L189 345.7L189.5 343.1L190 345.4L190.5 343.6L191 344.7L191.5 339.2L192 350.2L192.5 346.4L193 346.4L193.5 347.5L194 347.4L194.5 346.3L195 346.7L195.5 348.1L196 344.9L196.5 339L197 344.7L197.5 336.6L198 337.3L198.5 343.6L199 339.2L199.5 341.5L200 347.6L200.5 347.4L201 343.3L201.5 348.2L202 348.6L202.5 346.6L203 352.7L203.5 347.4L204 349.6L204.5 349.6L205 352.7L205.5 350.7L206 351.5L206.5 353L207 347L207.5 350.8L208 348.9L208.5 350.3L209 351L209.5 354.3L210 354.6L210.5 352.6L211 355.3L211.5 356.2L212 356.6L212.5 359.9L213 358.5L213.5 358.9L214 359.2L214.5 359L215 359.8L215.5 361.2L216 363.5L216.5 362.6L217 362.6L217.5 365.1L218 365L218.5 368.4L219 365.6L219.5 365.3L220 367.8L220.5 369.3L221 367.4L221.5 369.2L222 367.1L222.5 370.5L223 370.4L223.5 371.3L224 371.5L224.5 372.1L225 372.3L225.5 372.6L226 372.8L226.5 372.8L227 372.8L227.5 372.8L228 372.8L228.5 372.8L229 372.8L229.5 372.8L230 372.8L230.5 372.8L231 372.8L231.5 372.8L232 372.8L232.5 372.8L233 372.8L233.5 372.8" fill="none" stroke="#2a2a2a" stroke-width="0.95" stroke-dasharray="2.2 0.9 0.9 0.9"/>
<path d="M171 372.7L171.5 372.4L172 372L172.5 372.3L173 371.1L173.5 369.1L174 367.9L174.5 365.1L175 361.7L175.5 358.9L176 355.9L176.5 350.5L177 346.6L177.5 348.1L178 342.6L178.5 335.5L179 331.6L179.5 332.5L180 326.6L180.5 322.2L181 320.1L181.5 318.8L182 313.9L182.5 309.2L183 307.4L183.5 307.7L184 296.5L184.5 300.1L185 303.2L185.5 298.7L186 304.8L186.5 298.8L187 296.7L187.5 291L188 299.8L188.5 301.6L189 300.9L189.5 304.9L190 307.3L190.5 305.9L191 308.9L191.5 306.7L192 310.6L192.5 316.2L193 316.6L193.5 318.8L194 319.4L194.5 320.5L195 323.2L195.5 324.6L196 324.1L196.5 326L197 331.2L197.5 333L198 335.4L198.5 337L199 338.7L199.5 340.8L200 341.7L200.5 343.5L201 346.7L201.5 351.1L202 354L202.5 356.1L203 359.7L203.5 362.2L204 363.8L204.5 366L205 368.2L205.5 368.6L206 370.3L206.5 371.2L207 372L207.5 372.3" fill="none" stroke="#1a1a1a" stroke-width="1.05" stroke-dasharray="2.4 1.2"/>
<path d="M139 372.8L139.5 372.8L140 372.8L140.5 372.8L141 372.8L141.5 372.8L142 372.8L142.5 372.8L143 372.8L143.5 372.8L144 372.8L144.5 372.8L145 372.8L145.5 372.8L146 372.8L146.5 372.8L147 372.8L147.5 372.7L148 372.7L148.5 372.6L149 372.6L149.5 372.5L150 372.4L150.5 372.3L151 372.1L151.5 372L152 370.9L152.5 371L153 371L153.5 371.7L154 371.1L154.5 370.2L155 371.7L155.5 371.2L156 370.7L156.5 369.6L157 369.8L157.5 369.4L158 369.2L158.5 369.1L159 368.1L159.5 366.8L160 367.6L160.5 366.9L161 367.3L161.5 365.8L162 365.8L162.5 365L163 363.6L163.5 361.9L164 361.8L164.5 358.8L165 358.1L165.5 353.5L166 352.1L166.5 348.2L167 343.9L167.5 342L168 335.5L168.5 334.4L169 330.4L169.5 328.8L170 325.9L170.5 323.4L171 319.7L171.5 315.6L172 315.8L172.5 315.2L173 311.5L173.5 311.5L174 306.8L174.5 305.6L175 305.7L175.5 302.4L176 297.8L176.5 297.5L177 299.7L177.5 297.6L178 300.3L178.5 303.1L179 304.2L179.5 304.1L180 311.6L180.5 310.3L181 314.7L181.5 314.6L182 318.4L182.5 319.4L183 323.6L183.5 325.8L184 326.7L184.5 328L185 333.8L185.5 333.3L186 336L186.5 337.2L187 340.8L187.5 343.8L188 342.5L188.5 344.7L189 344.9L189.5 348.5L190 349.3L190.5 350.5L191 351.2L191.5 353.8L192 354.4L192.5 356.1L193 357.7L193.5 357.1L194 359.3L194.5 360L195 360.1L195.5 361.8L196 363.1L196.5 363.8L197 365L197.5 366.2L198 368L198.5 368.2L199 368.6L199.5 369.1L200 370.3L200.5 371.6L201 370.8L201.5 371.9L202 372.2L202.5 372.4L203 372.6L203.5 372.7" fill="none" stroke="#000" stroke-width="1.9" stroke-linejoin="round"/>
<rect x="138" y="269.2" width="98" height="105.6" fill="none" stroke="#1a1a1a" stroke-width="1.3"/>
<path d="M138 374.8v2.6M145.4 374.8v1.6M149.7 374.8v1.6M152.8 374.8v1.6M155.1 374.8v1.6M157.1 374.8v1.6M158.7 374.8v1.6M160.1 374.8v1.6M161.4 374.8v1.6M162.5 374.8v2.6M169.9 374.8v1.6M174.2 374.8v1.6M177.3 374.8v1.6M179.6 374.8v1.6M181.6 374.8v1.6M183.2 374.8v1.6M184.6 374.8v1.6M185.9 374.8v1.6M187 374.8v2.6M194.4 374.8v1.6M198.7 374.8v1.6M201.8 374.8v1.6M204.1 374.8v1.6M206.1 374.8v1.6M207.7 374.8v1.6M209.1 374.8v1.6M210.4 374.8v1.6M211.5 374.8v2.6M218.9 374.8v1.6M223.2 374.8v1.6M226.3 374.8v1.6M228.6 374.8v1.6M230.6 374.8v1.6M232.2 374.8v1.6M233.6 374.8v1.6M234.9 374.8v1.6" stroke="#333" stroke-width="0.5"/>
<path d="M136.2 374.8h1.8M136.2 369.5h1.8M136.2 364.2h1.8M136.2 359h1.8M136.2 353.7h1.8M136.2 348.4h1.8M136.2 343.1h1.8M136.2 337.8h1.8M136.2 332.6h1.8M136.2 327.3h1.8M136.2 322h1.8M136.2 316.7h1.8M136.2 311.4h1.8M136.2 306.2h1.8M136.2 300.9h1.8M136.2 295.6h1.8M136.2 290.3h1.8M136.2 285h1.8M136.2 279.8h1.8M136.2 274.5h1.8M136.2 269.2h1.8" stroke="#333" stroke-width="0.5"/>
<text x="148.4" y="305.7" font-size="9.8" font-weight="bold" text-anchor="start" stroke="#000" stroke-width="0.3" >Mono</text>
<text x="198.2" y="324.9" font-size="9.8" font-weight="bold" text-anchor="start" stroke="#000" stroke-width="0.3" >Mac</text>
<text x="215.8" y="360.8" font-size="9.8" font-weight="bold" text-anchor="start" stroke="#000" stroke-width="0.3" >DC</text>
<text x="163.8" y="388.4" font-size="9.6" font-weight="bold" text-anchor="start" stroke="#000" stroke-width="0.3" >Annexin II</text>
<text transform="translate(134.6 368.2) rotate(-90)" font-size="9.2" font-weight="bold" stroke="#000" stroke-width="0.3" >Relative Cell Number</text>
<path d="M289.8 38.8V361.3H515.8" fill="none" stroke="#111" stroke-width="1.4"/>
<path d="M287.4 39.3h2.5" stroke="#111" stroke-width="1.1"/>
<text x="286.3" y="41" font-size="8.2" font-weight="bold" text-anchor="end" stroke="#000" stroke-width="0.3" >120</text>
<path d="M287.4 92.6h2.5" stroke="#111" stroke-width="1.1"/>
<text x="286.3" y="94.3" font-size="8.2" font-weight="bold" text-anchor="end" stroke="#000" stroke-width="0.3" >100</text>
<path d="M287.4 146h2.5" stroke="#111" stroke-width="1.1"/>
<text x="286.3" y="147.7" font-size="8.2" font-weight="bold" text-anchor="end" stroke="#000" stroke-width="0.3" >80</text>
<path d="M287.4 199.6h2.5" stroke="#111" stroke-width="1.1"/>
<text x="286.3" y="201.3" font-size="8.2" font-weight="bold" text-anchor="end" stroke="#000" stroke-width="0.3" >60</text>
<path d="M287.4 253.3h2.5" stroke="#111" stroke-width="1.1"/>
<text x="286.3" y="255" font-size="8.2" font-weight="bold" text-anchor="end" stroke="#000" stroke-width="0.3" >40</text>
<path d="M287.4 307h2.5" stroke="#111" stroke-width="1.1"/>
<text x="286.3" y="308.7" font-size="8.2" font-weight="bold" text-anchor="end" stroke="#000" stroke-width="0.3" >20</text>
<path d="M287.4 361h2.5" stroke="#111" stroke-width="1.1"/>
<text x="286.3" y="362.7" font-size="8.2" font-weight="bold" text-anchor="end" stroke="#000" stroke-width="0.3" >0</text>
<path d="M365.3 361v3.4" stroke="#111" stroke-width="1"/>
<path d="M441.2 361v3.4" stroke="#111" stroke-width="1"/>
<path d="M515.3 361v3.4" stroke="#111" stroke-width="1"/>
<text transform="translate(269.4 210.2) rotate(-90)" font-size="10" font-weight="bold" stroke="#000" stroke-width="0.3" >p24(ng/ml)</text>
<defs><clipPath id="cb"><rect x="312.4" y="344.2" width="30.4" height="16.6"/></clipPath></defs>
<rect x="312.4" y="344.2" width="30.4" height="16.8" fill="#fff"/>
<path d="M292.5 362L312.5 342M299.8 362L319.8 342M307.1 362L327.1 342M314.4 362L334.4 342M321.7 362L341.7 342M329 362L349 342M336.3 362L356.3 342M343.6 362L363.6 342M350.9 362L370.9 342M358.2 362L378.2 342M365.5 362L385.5 342" stroke="#000" stroke-width="2.05" clip-path="url(#cb)"/>
<rect x="312.3" y="344.2" width="30.4" height="16.8" fill="none" stroke="#333" stroke-width="0.8"/>
<path d="M327.4 344V341.6M325.4 341.6h4" stroke="#222" stroke-width="0.9"/>
<rect x="384.6" y="353.5" width="30" height="7.6" fill="#9b9b9b" stroke="#222" stroke-width="0.9"/>
<path d="M399.6 350.2V355.6M398 350.2h3.2M398 355.6h3.2" stroke="#111" stroke-width="0.9"/>
<text x="399.7" y="345.7" font-size="9.4" font-weight="normal" text-anchor="middle"  >#</text>
<rect x="452" y="105.4" width="31" height="256" fill="#000"/>
<path d="M467.3 105.4V87.6M465.3 87.6h4" stroke="#555" stroke-width="1"/>
<text x="467.3" y="85" font-size="15.5" font-weight="bold" text-anchor="middle" stroke="#000" stroke-width="0.3" >*</text>
<text x="328.4" y="372.3" font-size="10" font-weight="bold" text-anchor="middle" stroke="#000" stroke-width="0.3" >Monocytes</text>
<text x="401.2" y="372.9" font-size="10" font-weight="bold" text-anchor="middle" stroke="#000" stroke-width="0.3" >imDC</text>
<text x="466.2" y="372.5" font-size="10" font-weight="bold" text-anchor="middle" stroke="#000" stroke-width="0.3" >Macrophages</text>
<defs>
<clipPath id="mc"><rect x="298.2" y="58.4" width="144.6" height="132.8"/></clipPath>
<filter id="nz" x="0" y="0" width="100%" height="100%" color-interpolation-filters="sRGB"><feTurbulence type="fractalNoise" baseFrequency="0.17" numOctaves="3" seed="4" result="t"/><feColorMatrix type="matrix" values="1.9 0 0 0 -0.45  1.9 0 0 0 -0.45  1.9 0 0 0 -0.45  0 0 0 0 1"/></filter>
<filter id="nzf" x="0" y="0" width="100%" height="100%" color-interpolation-filters="sRGB"><feTurbulence type="fractalNoise" baseFrequency="0.55" numOctaves="2" seed="12" result="t"/><feColorMatrix type="matrix" values="2.4 0 0 0 -0.7  2.4 0 0 0 -0.7  2.4 0 0 0 -0.7  0 0 0 0 1"/></filter>
<filter id="b0"><feGaussianBlur stdDeviation="0.45"/></filter>
<filter id="b1"><feGaussianBlur stdDeviation="0.7"/></filter>
<filter id="b2"><feGaussianBlur stdDeviation="1.5"/></filter>
<filter id="b3"><feGaussianBlur stdDeviation="3.2"/></filter>
</defs>
<g clip-path="url(#mc)">
<rect x="298.2" y="58.4" width="144.6" height="132.8" fill="#d3d3d3"/>
<g filter="url(#b3)">
<ellipse cx="430" cy="70" rx="16" ry="11" fill="#e8e8e8"/>
<ellipse cx="425" cy="168" rx="20" ry="14" fill="#d8d8d8"/>
<ellipse cx="330" cy="96" rx="20" ry="9" fill="#c4c4c4"/>
<ellipse cx="352" cy="99" rx="13" ry="6" fill="#dadada"/>
<ellipse cx="422.5" cy="82" rx="6" ry="3.5" fill="#8a8a8a"/>
<ellipse cx="383" cy="92" rx="10" ry="8" fill="#d6d6d6"/>
<ellipse cx="345" cy="72" rx="10" ry="7" fill="#d2d2d2"/>
<ellipse cx="385" cy="183" rx="16" ry="5" fill="#c6c6c6"/>
<ellipse cx="312" cy="70" rx="10" ry="9" fill="#cacaca"/>
<ellipse cx="310" cy="125" rx="9" ry="14" fill="#c8c8c8"/>
<ellipse cx="350" cy="180" rx="14" ry="6" fill="#c4c4c4"/>
<ellipse cx="410" cy="70" rx="8" ry="5" fill="#c6c6c6"/>
<ellipse cx="378" cy="72" rx="5" ry="6" fill="#c8c8c8"/>
</g>
<g filter="url(#b2)">
<path d="M323 116C322.5 118.3 321.2 125.3 320 130C318.8 134.7 317.5 139.7 316 144C314.5 148.3 312.7 152.2 311 156C309.3 159.8 307.2 163.8 306 167C304.8 170.2 304.3 173.7 304 175" fill="none" stroke="#888" stroke-width="6.5" opacity="0.95"/>
<path d="M408 87C407.3 88.5 405.3 92.5 404 96C402.7 99.5 401.1 104 400 108C398.9 112 397.9 115.5 397.5 120C397.1 124.5 397.1 130.7 397.5 135C397.9 139.3 398.4 143.2 400 146C401.6 148.8 405.8 151 407 152" fill="none" stroke="#b0b0b0" stroke-width="3"/>
<path d="M443 112C442.2 113.7 440.3 118.8 438.5 122C436.7 125.2 434.6 127.2 432 131C429.4 134.8 425.8 140.8 423 144.5C420.2 148.2 416.8 152 415.5 153.5" fill="none" stroke="#aaa" stroke-width="3.4"/>
<path d="M336 176C336.4 174.2 337.2 167.6 338.5 165C339.8 162.4 341.9 160.8 344 160.5C346.1 160.2 348.7 161.8 351 163C353.3 164.2 355.2 166.8 358 168C360.8 169.2 364.3 170.3 368 170.5C371.7 170.7 376.2 170 380 169C383.8 168 387.9 166.5 391 164.5C394.1 162.5 397.2 158.2 398.5 157" fill="none" stroke="#b0b0b0" stroke-width="2.6"/>
</g>
<g filter="url(#b1)">
<path d="M325.8 115C327.1 114 329.2 116.5 331 117.2C332.8 117.9 334.3 119.7 336.5 119.3C338.7 118.9 341.7 116.4 344 115C346.3 113.6 348.3 111.9 350.4 110.8C352.5 109.7 353.9 109 356.5 108.5C359.1 108 362.2 107.5 365.8 107.7C369.4 108 374.6 109.5 378 110C381.4 110.5 385.7 109.6 386 111C386.3 112.4 382.6 116 380 118.5C377.4 121 373.3 124.1 370.4 126.2C367.5 128.3 364.6 129.4 362.7 131C360.8 132.6 359.9 133.8 358.9 136C357.9 138.2 356.9 141.3 356.6 144.2C356.3 147.1 356.5 150.7 357.3 153.5C358.1 156.3 359.5 159.1 361.2 161.2C362.9 163.2 366.5 164.7 367.3 165.8C368.1 166.9 367.6 167.7 365.8 167.6C364 167.5 359.1 166.2 356.5 165C353.9 163.8 352.4 161.6 350.4 160.4C348.3 159.2 346.1 158.1 344.2 158.1C342.3 158.1 340.1 159.1 338.8 160.4C337.5 161.7 337 163.6 336.5 165.8C336 168 336.6 171.4 335.7 173.5C334.8 175.6 333.3 176.8 331.1 178.1C328.9 179.4 325.6 180.5 322.7 181.2C319.8 181.8 315.8 182.4 313.4 182C310.9 181.6 309.1 180.4 308 179C306.9 177.6 306.4 175.7 306.5 173.5C306.6 171.3 307.7 168.6 308.8 165.8C309.9 163 312 159.7 313.4 156.6C314.8 153.5 316 150.9 317.3 147C318.6 143.1 320.1 137 321.1 133C322.1 129 322.7 126 323.5 123C324.3 120 324.6 116 325.8 115Z" fill="#e3e3e3"/>
<path d="M386.5 112C384.2 113.7 380.7 120.2 378 122.6C375.3 125 372.9 124.8 370.4 126.2C367.8 127.6 364.6 129.4 362.7 131C360.8 132.6 359.9 133.8 358.9 136C357.9 138.2 356.9 141.3 356.6 144.2C356.3 147.1 356.5 150.7 357.3 153.5C358.1 156.3 359.5 159.1 361.2 161.2C362.9 163.2 364.7 165 367.3 165.8C369.9 166.7 373.1 166.9 376.6 166.3C380.1 165.7 384.9 164 388.1 162.4C391.3 160.8 394.2 158.8 395.8 156.6C397.4 154.3 397.6 151.8 397.6 148.9C397.6 146 396.1 142.5 395.6 139.3C395.1 136.1 394.9 132.8 394.6 129.6C394.3 126.4 393.5 122.9 393.6 120C393.7 117.1 394.6 114.3 395.2 112C395.8 109.7 398.1 105.9 397.5 106C396.9 106.1 393.3 111.5 391.5 112.5C389.7 113.5 388.8 110.3 386.5 112Z" fill="#d4d4d4"/>
<path d="M408.5 88.2C410.3 86.7 413.2 87.1 416 86.8C418.8 86.5 422.2 86.1 425 86.4C427.8 86.7 430.8 87.6 433 88.6C435.2 89.6 437 90.5 438.4 92.6C439.8 94.7 440.7 98.1 441.2 101C441.7 103.9 442.2 107.1 441.6 110C441 112.9 439.5 115.3 437.6 118.4C435.8 121.5 433.3 124.4 430.5 128.4C427.7 132.4 423.6 138.9 421 142.5C418.4 146.1 416.7 148.7 415 150C413.3 151.3 412.2 151.3 410.6 150.6C409 149.9 407.1 148.3 405.6 146C404.1 143.7 402.5 140.2 401.6 137C400.7 133.8 400.4 130.1 400.2 126.6C400 123.1 400 119.8 400.4 116C400.8 112.2 401.5 107.3 402.3 104C403.1 100.7 404 98.6 405 96C406 93.4 406.7 89.7 408.5 88.2Z" fill="#dfdfdf"/>
<path d="M436 117.5C434.8 119.1 431.7 123.2 429 127C426.3 130.8 422.6 136.4 420 140C417.4 143.6 414.6 147.1 413.5 148.5" fill="none" stroke="#f2f2f2" stroke-width="2"/>
</g>
<g filter="url(#b0)" fill="none" stroke-linecap="round">
<path d="M325.8 115C325.4 116.3 324.3 120 323.5 123C322.7 126 322.1 129 321.1 133C320.1 137 318.6 143.1 317.3 147C316 150.9 314.8 153.5 313.4 156.6C312 159.7 309.9 163 308.8 165.8C307.7 168.6 306.6 171.3 306.5 173.5C306.4 175.7 307.8 178.1 308 179" stroke="#4e4e4e" stroke-width="2.1"/>
<path d="M308 179C308.9 179.5 310.9 181.6 313.4 182C315.8 182.4 319.8 181.8 322.7 181.2C325.6 180.5 328.9 179.4 331.1 178.1C333.3 176.8 334.8 175.6 335.7 173.5C336.6 171.4 336 168 336.5 165.8C337 163.6 337.5 161.7 338.8 160.4C340.1 159.1 343.3 158.5 344.2 158.1" stroke="#666" stroke-width="1.1"/>
<path d="M344.2 158.1C345.2 158.5 348.3 159.2 350.4 160.4C352.4 161.6 353.9 163.8 356.5 165C359.1 166.2 362.7 167.3 365.8 167.6C368.9 167.9 373.5 166.8 375 166.6" stroke="#505050" stroke-width="1.6"/>
<path d="M325.8 115C326.7 115.4 329.2 116.5 331 117.2C332.8 117.9 334.3 119.7 336.5 119.3C338.7 118.9 341.7 116.4 344 115C346.3 113.6 348.3 111.9 350.4 110.8C352.5 109.7 353.9 109 356.5 108.5C359.1 108 362.2 107.5 365.8 107.7C369.4 108 374.6 109.5 378 110C381.4 110.5 384.7 110.8 386 111" stroke="#6c6c6c" stroke-width="1.1"/>
<path d="M386.5 112C385.1 113.8 380.7 120.2 378 122.6C375.3 125 372.9 124.8 370.4 126.2C367.8 127.6 364.6 129.4 362.7 131C360.8 132.6 359.9 133.8 358.9 136C357.9 138.2 356.9 141.3 356.6 144.2C356.3 147.1 356.5 150.7 357.3 153.5C358.1 156.3 359.5 159.1 361.2 161.2C362.9 163.2 366.3 165 367.3 165.8" stroke="#555" stroke-width="1.2"/>
<path d="M367.3 166C368.9 166.1 373.1 166.9 376.6 166.3C380.1 165.7 384.9 164 388.1 162.4C391.3 160.8 394.2 158.8 395.8 156.6C397.4 154.3 397.6 151.8 397.6 148.9C397.6 146 396.1 142.5 395.6 139.3C395.1 136.1 394.9 132.8 394.6 129.6C394.3 126.4 393.5 122.9 393.6 120C393.7 117.1 394.6 114.3 395.2 112C395.8 109.7 397.1 107 397.5 106" stroke="#a2a2a2" stroke-width="3.2"/>
<path d="M367.3 166C368.9 166.1 373.1 166.9 376.6 166.3C380.1 165.7 384.9 164 388.1 162.4C391.3 160.8 394.2 158.8 395.8 156.6C397.4 154.3 397.6 151.8 397.6 148.9C397.6 146 396.1 142.5 395.6 139.3C395.1 136.1 394.9 132.8 394.6 129.6C394.3 126.4 393.5 122.9 393.6 120C393.7 117.1 394.6 114.3 395.2 112C395.8 109.7 397.1 107 397.5 106" stroke="#858585" stroke-width="0.9"/>
<path d="M408.5 88.2C409.8 88 413.2 87.1 416 86.8C418.8 86.5 422.2 86.1 425 86.4C427.8 86.7 430.8 87.6 433 88.6C435.2 89.6 437 90.5 438.4 92.6C439.8 94.7 440.7 98.1 441.2 101C441.7 103.9 442.2 107.1 441.6 110C441 112.9 439.5 115.3 437.6 118.4C435.8 121.5 433.3 124.4 430.5 128.4C427.7 132.4 423.6 138.9 421 142.5C418.4 146.1 416.7 148.7 415 150C413.3 151.3 411.3 150.5 410.6 150.6" stroke="#8c8c8c" stroke-width="1.1"/>
<path d="M410.6 150.6C409.8 149.8 407.1 148.3 405.6 146C404.1 143.7 402.5 140.2 401.6 137C400.7 133.8 400.4 130.1 400.2 126.6C400 123.1 400 119.8 400.4 116C400.8 112.2 401.5 107.3 402.3 104C403.1 100.7 404 98.6 405 96C406 93.4 407.9 89.5 408.5 88.2" stroke="#999" stroke-width="1.1"/>
</g>
<g filter="url(#b0)">
<circle cx="326.2" cy="63.9" r="1.7" fill="rgb(225,225,225)" stroke="rgb(164,164,164)" stroke-width="0.6" opacity="0.8"/>
<circle cx="368.7" cy="180.8" r="2.1" fill="rgb(225,225,225)" stroke="rgb(153,153,153)" stroke-width="0.6" opacity="0.8"/>
<circle cx="425.1" cy="170.1" r="1.3" fill="rgb(223,223,223)" stroke="rgb(150,150,150)" stroke-width="0.6" opacity="0.8"/>
<circle cx="317.4" cy="101.5" r="1.3" fill="rgb(226,226,226)" stroke="rgb(178,178,178)" stroke-width="0.6" opacity="0.8"/>
<circle cx="349" cy="101.8" r="1.2" fill="rgb(210,210,210)" stroke="rgb(174,174,174)" stroke-width="0.6" opacity="0.8"/>
<circle cx="384.3" cy="68.5" r="1.7" fill="rgb(217,217,217)" stroke="rgb(179,179,179)" stroke-width="0.6" opacity="0.8"/>
<circle cx="377.8" cy="181.7" r="2.3" fill="rgb(216,216,216)" stroke="rgb(158,158,158)" stroke-width="0.6" opacity="0.8"/>
<circle cx="411.6" cy="69.5" r="1.5" fill="rgb(209,209,209)" stroke="rgb(161,161,161)" stroke-width="0.6" opacity="0.8"/>
<circle cx="311" cy="98.2" r="2" fill="rgb(229,229,229)" stroke="rgb(177,177,177)" stroke-width="0.6" opacity="0.8"/>
<circle cx="351.3" cy="82.8" r="1.6" fill="rgb(225,225,225)" stroke="rgb(152,152,152)" stroke-width="0.6" opacity="0.8"/>
<circle cx="304.1" cy="159.1" r="1.5" fill="rgb(224,224,224)" stroke="rgb(175,175,175)" stroke-width="0.6" opacity="0.8"/>
<circle cx="403.5" cy="181.8" r="1.5" fill="rgb(222,222,222)" stroke="rgb(162,162,162)" stroke-width="0.6" opacity="0.8"/>
<circle cx="303.9" cy="157.7" r="1.6" fill="rgb(222,222,222)" stroke="rgb(175,175,175)" stroke-width="0.6" opacity="0.8"/>
<circle cx="416.7" cy="154.5" r="2.2" fill="rgb(223,223,223)" stroke="rgb(174,174,174)" stroke-width="0.6" opacity="0.8"/>
<circle cx="345.3" cy="89" r="2.1" fill="rgb(215,215,215)" stroke="rgb(165,165,165)" stroke-width="0.6" opacity="0.8"/>
<circle cx="313.9" cy="99.6" r="1.2" fill="rgb(216,216,216)" stroke="rgb(174,174,174)" stroke-width="0.6" opacity="0.8"/>
<circle cx="436.2" cy="140.7" r="1.4" fill="rgb(223,223,223)" stroke="rgb(171,171,171)" stroke-width="0.6" opacity="0.8"/>
<circle cx="429.1" cy="153.2" r="1.7" fill="rgb(219,219,219)" stroke="rgb(172,172,172)" stroke-width="0.6" opacity="0.8"/>
<circle cx="435.8" cy="179.6" r="2.1" fill="rgb(211,211,211)" stroke="rgb(169,169,169)" stroke-width="0.6" opacity="0.8"/>
<circle cx="352" cy="177" r="1.5" fill="rgb(230,230,230)" stroke="rgb(158,158,158)" stroke-width="0.6" opacity="0.8"/>
<circle cx="359.5" cy="183.1" r="1.8" fill="rgb(230,230,230)" stroke="rgb(168,168,168)" stroke-width="0.6" opacity="0.8"/>
<circle cx="430" cy="182.6" r="2.3" fill="rgb(216,216,216)" stroke="rgb(151,151,151)" stroke-width="0.6" opacity="0.8"/>
<circle cx="391" cy="68.1" r="1.4" fill="rgb(224,224,224)" stroke="rgb(151,151,151)" stroke-width="0.6" opacity="0.8"/>
<circle cx="418.5" cy="186.8" r="1.4" fill="rgb(209,209,209)" stroke="rgb(184,184,184)" stroke-width="0.6" opacity="0.8"/>
<circle cx="367.5" cy="177.5" r="1.5" fill="rgb(209,209,209)" stroke="rgb(171,171,171)" stroke-width="0.6" opacity="0.8"/>
<circle cx="335.4" cy="68.1" r="2.1" fill="rgb(209,209,209)" stroke="rgb(183,183,183)" stroke-width="0.6" opacity="0.8"/>
<circle cx="399.1" cy="177" r="2.1" fill="rgb(212,212,212)" stroke="rgb(156,156,156)" stroke-width="0.6" opacity="0.8"/>
<circle cx="410.8" cy="83.1" r="1.5" fill="rgb(224,224,224)" stroke="rgb(158,158,158)" stroke-width="0.6" opacity="0.8"/>
<circle cx="405.4" cy="172.9" r="1.5" fill="rgb(215,215,215)" stroke="rgb(150,150,150)" stroke-width="0.6" opacity="0.8"/>
<circle cx="384.3" cy="175.9" r="1.7" fill="rgb(228,228,228)" stroke="rgb(162,162,162)" stroke-width="0.6" opacity="0.8"/>
<circle cx="320.7" cy="89.5" r="2.1" fill="rgb(213,213,213)" stroke="rgb(177,177,177)" stroke-width="0.6" opacity="0.8"/>
<circle cx="353.8" cy="176.6" r="1.4" fill="rgb(213,213,213)" stroke="rgb(166,166,166)" stroke-width="0.6" opacity="0.8"/>
<circle cx="369.6" cy="85.2" r="1.5" fill="rgb(224,224,224)" stroke="rgb(166,166,166)" stroke-width="0.6" opacity="0.8"/>
<circle cx="309.5" cy="114.1" r="1.6" fill="rgb(218,218,218)" stroke="rgb(150,150,150)" stroke-width="0.6" opacity="0.8"/>
<circle cx="339.2" cy="181.9" r="2.2" fill="rgb(230,230,230)" stroke="rgb(176,176,176)" stroke-width="0.6" opacity="0.8"/>
<circle cx="361.4" cy="180.3" r="1.5" fill="rgb(222,222,222)" stroke="rgb(170,170,170)" stroke-width="0.6" opacity="0.8"/>
<circle cx="362.3" cy="93.1" r="1.5" fill="rgb(223,223,223)" stroke="rgb(159,159,159)" stroke-width="0.6" opacity="0.8"/>
<circle cx="349.2" cy="106.3" r="1.5" fill="rgb(227,227,227)" stroke="rgb(169,169,169)" stroke-width="0.6" opacity="0.8"/>
<circle cx="303.7" cy="155.4" r="1.7" fill="rgb(226,226,226)" stroke="rgb(167,167,167)" stroke-width="0.6" opacity="0.8"/>
<circle cx="344.3" cy="167.8" r="1.3" fill="rgb(214,214,214)" stroke="rgb(166,166,166)" stroke-width="0.6" opacity="0.8"/>
<circle cx="420.4" cy="76" r="1.5" fill="rgb(220,220,220)" stroke="rgb(173,173,173)" stroke-width="0.6" opacity="0.8"/>
<circle cx="354" cy="101.3" r="2.2" fill="rgb(231,231,231)" stroke="rgb(156,156,156)" stroke-width="0.6" opacity="0.8"/>
<circle cx="407.2" cy="165.8" r="1.5" fill="rgb(213,213,213)" stroke="rgb(152,152,152)" stroke-width="0.6" opacity="0.8"/>
<circle cx="422.1" cy="65.6" r="1.2" fill="rgb(223,223,223)" stroke="rgb(173,173,173)" stroke-width="0.6" opacity="0.8"/>
<circle cx="305.1" cy="143.7" r="1.4" fill="rgb(213,213,213)" stroke="rgb(173,173,173)" stroke-width="0.6" opacity="0.8"/>
<circle cx="318" cy="129.4" r="1.2" fill="rgb(209,209,209)" stroke="rgb(173,173,173)" stroke-width="0.6" opacity="0.8"/>
<circle cx="311.7" cy="96.7" r="2.2" fill="rgb(230,230,230)" stroke="rgb(151,151,151)" stroke-width="0.6" opacity="0.8"/>
<circle cx="301.6" cy="158.8" r="1.6" fill="rgb(226,226,226)" stroke="rgb(172,172,172)" stroke-width="0.6" opacity="0.8"/>
<circle cx="385" cy="63.4" r="1.7" fill="rgb(229,229,229)" stroke="rgb(177,177,177)" stroke-width="0.6" opacity="0.8"/>
<circle cx="324.6" cy="95.9" r="1.6" fill="rgb(210,210,210)" stroke="rgb(171,171,171)" stroke-width="0.6" opacity="0.8"/>
<circle cx="375.5" cy="185.2" r="2" fill="rgb(220,220,220)" stroke="rgb(176,176,176)" stroke-width="0.6" opacity="0.8"/>
<circle cx="332" cy="71.2" r="1.8" fill="rgb(220,220,220)" stroke="rgb(166,166,166)" stroke-width="0.6" opacity="0.8"/>
<circle cx="345.3" cy="97.1" r="2.2" fill="rgb(231,231,231)" stroke="rgb(174,174,174)" stroke-width="0.6" opacity="0.8"/>
<circle cx="433.6" cy="83.6" r="2.1" fill="rgb(222,222,222)" stroke="rgb(160,160,160)" stroke-width="0.6" opacity="0.8"/>
<circle cx="383.9" cy="75.3" r="2.1" fill="rgb(223,223,223)" stroke="rgb(153,153,153)" stroke-width="0.6" opacity="0.8"/>
<circle cx="331.6" cy="98.4" r="1.7" fill="rgb(213,213,213)" stroke="rgb(160,160,160)" stroke-width="0.6" opacity="0.8"/>
<circle cx="377.6" cy="80" r="2" fill="rgb(218,218,218)" stroke="rgb(164,164,164)" stroke-width="0.6" opacity="0.8"/>
<circle cx="380.7" cy="81.4" r="2.2" fill="rgb(210,210,210)" stroke="rgb(169,169,169)" stroke-width="0.6" opacity="0.8"/>
<circle cx="434.9" cy="79" r="1.9" fill="rgb(231,231,231)" stroke="rgb(184,184,184)" stroke-width="0.6" opacity="0.8"/>
<circle cx="431.8" cy="140.6" r="2.1" fill="rgb(224,224,224)" stroke="rgb(151,151,151)" stroke-width="0.6" opacity="0.8"/>
<circle cx="349.1" cy="174.7" r="1.7" fill="rgb(218,218,218)" stroke="rgb(160,160,160)" stroke-width="0.6" opacity="0.8"/>
<circle cx="356" cy="173.3" r="1.2" fill="rgb(228,228,228)" stroke="rgb(153,153,153)" stroke-width="0.6" opacity="0.8"/>
<circle cx="383.9" cy="88" r="1.6" fill="rgb(222,222,222)" stroke="rgb(171,171,171)" stroke-width="0.6" opacity="0.8"/>
<circle cx="316.2" cy="85.8" r="1.6" fill="rgb(220,220,220)" stroke="rgb(180,180,180)" stroke-width="0.6" opacity="0.8"/>
<circle cx="352.4" cy="85.2" r="1.4" fill="rgb(208,208,208)" stroke="rgb(162,162,162)" stroke-width="0.6" opacity="0.8"/>
<circle cx="389.3" cy="168.2" r="1.4" fill="rgb(224,224,224)" stroke="rgb(176,176,176)" stroke-width="0.6" opacity="0.8"/>
<circle cx="397" cy="183.6" r="1.8" fill="rgb(218,218,218)" stroke="rgb(168,168,168)" stroke-width="0.6" opacity="0.8"/>
<circle cx="319.9" cy="106.3" r="1.9" fill="rgb(220,220,220)" stroke="rgb(163,163,163)" stroke-width="0.6" opacity="0.8"/>
<circle cx="407.9" cy="68.2" r="2.2" fill="rgb(224,224,224)" stroke="rgb(164,164,164)" stroke-width="0.6" opacity="0.8"/>
<circle cx="397.1" cy="180.5" r="1.9" fill="rgb(224,224,224)" stroke="rgb(174,174,174)" stroke-width="0.6" opacity="0.8"/>
<circle cx="428.1" cy="174.2" r="1.4" fill="rgb(208,208,208)" stroke="rgb(159,159,159)" stroke-width="0.6" opacity="0.8"/>
<circle cx="351.7" cy="92.8" r="1.6" fill="rgb(230,230,230)" stroke="rgb(156,156,156)" stroke-width="0.6" opacity="0.8"/>
<circle cx="319.4" cy="106.1" r="1.8" fill="rgb(226,226,226)" stroke="rgb(180,180,180)" stroke-width="0.6" opacity="0.8"/>
<circle cx="336.7" cy="182.2" r="1.6" fill="rgb(211,211,211)" stroke="rgb(155,155,155)" stroke-width="0.6" opacity="0.8"/>
<circle cx="310.8" cy="89" r="2.1" fill="rgb(227,227,227)" stroke="rgb(157,157,157)" stroke-width="0.6" opacity="0.8"/>
<circle cx="309" cy="144.3" r="2.1" fill="rgb(209,209,209)" stroke="rgb(168,168,168)" stroke-width="0.6" opacity="0.8"/>
<circle cx="376.1" cy="181.5" r="1.1" fill="rgb(210,210,210)" stroke="rgb(157,157,157)" stroke-width="0.6" opacity="0.8"/>
<circle cx="439.5" cy="145.5" r="1.3" fill="rgb(230,230,230)" stroke="rgb(160,160,160)" stroke-width="0.6" opacity="0.8"/>
<circle cx="345" cy="95.7" r="1.5" fill="rgb(231,231,231)" stroke="rgb(166,166,166)" stroke-width="0.6" opacity="0.8"/>
<circle cx="364.7" cy="93.2" r="1.3" fill="rgb(214,214,214)" stroke="rgb(180,180,180)" stroke-width="0.6" opacity="0.8"/>
<circle cx="377.9" cy="86.9" r="1.2" fill="rgb(227,227,227)" stroke="rgb(154,154,154)" stroke-width="0.6" opacity="0.8"/>
<circle cx="412" cy="187.3" r="1.7" fill="rgb(229,229,229)" stroke="rgb(168,168,168)" stroke-width="0.6" opacity="0.8"/>
<circle cx="355" cy="186.9" r="2" fill="rgb(211,211,211)" stroke="rgb(168,168,168)" stroke-width="0.6" opacity="0.8"/>
<circle cx="384.5" cy="91.6" r="1.6" fill="rgb(229,229,229)" stroke="rgb(175,175,175)" stroke-width="0.6" opacity="0.8"/>
<circle cx="351.5" cy="96.7" r="1.8" fill="rgb(219,219,219)" stroke="rgb(184,184,184)" stroke-width="0.6" opacity="0.8"/>
<circle cx="342.2" cy="178.2" r="1.4" fill="rgb(227,227,227)" stroke="rgb(180,180,180)" stroke-width="0.6" opacity="0.8"/>
<circle cx="368.6" cy="84.8" r="1.2" fill="rgb(220,220,220)" stroke="rgb(160,160,160)" stroke-width="0.6" opacity="0.8"/>
<circle cx="413.9" cy="81.4" r="1.1" fill="rgb(229,229,229)" stroke="rgb(164,164,164)" stroke-width="0.6" opacity="0.8"/>
<circle cx="423.3" cy="180.4" r="1.2" fill="rgb(214,214,214)" stroke="rgb(156,156,156)" stroke-width="0.6" opacity="0.8"/>
<circle cx="433.8" cy="149.5" r="2.2" fill="rgb(231,231,231)" stroke="rgb(177,177,177)" stroke-width="0.6" opacity="0.8"/>
<circle cx="422.4" cy="180.7" r="1.8" fill="rgb(227,227,227)" stroke="rgb(184,184,184)" stroke-width="0.6" opacity="0.8"/>
<circle cx="366.5" cy="88.9" r="1.9" fill="rgb(209,209,209)" stroke="rgb(160,160,160)" stroke-width="0.6" opacity="0.8"/>
<circle cx="304.5" cy="102.2" r="1.5" fill="rgb(223,223,223)" stroke="rgb(180,180,180)" stroke-width="0.6" opacity="0.8"/>
<circle cx="345.7" cy="86.3" r="2.2" fill="rgb(222,222,222)" stroke="rgb(159,159,159)" stroke-width="0.6" opacity="0.8"/>
<circle cx="306.3" cy="149.7" r="2.1" fill="rgb(222,222,222)" stroke="rgb(155,155,155)" stroke-width="0.6" opacity="0.8"/>
<circle cx="359.3" cy="87.2" r="1.3" fill="rgb(215,215,215)" stroke="rgb(181,181,181)" stroke-width="0.6" opacity="0.8"/>
<circle cx="418" cy="162" r="2.2" fill="rgb(210,210,210)" stroke="rgb(157,157,157)" stroke-width="0.6" opacity="0.8"/>
<circle cx="379.6" cy="171.6" r="1.4" fill="rgb(213,213,213)" stroke="rgb(178,178,178)" stroke-width="0.6" opacity="0.8"/>
<circle cx="349.3" cy="65.6" r="1.4" fill="rgb(209,209,209)" stroke="rgb(179,179,179)" stroke-width="0.6" opacity="0.8"/>
<circle cx="340.3" cy="78" r="1.2" fill="rgb(228,228,228)" stroke="rgb(154,154,154)" stroke-width="0.6" opacity="0.8"/>
<circle cx="347.8" cy="187.3" r="1.6" fill="rgb(224,224,224)" stroke="rgb(156,156,156)" stroke-width="0.6" opacity="0.8"/>
<circle cx="395.2" cy="178.1" r="2.1" fill="rgb(221,221,221)" stroke="rgb(151,151,151)" stroke-width="0.6" opacity="0.8"/>
<circle cx="396.6" cy="67.3" r="2.2" fill="rgb(210,210,210)" stroke="rgb(179,179,179)" stroke-width="0.6" opacity="0.8"/>
<circle cx="376.2" cy="105.7" r="1.6" fill="rgb(230,230,230)" stroke="rgb(173,173,173)" stroke-width="0.6" opacity="0.8"/>
<circle cx="439.1" cy="180.1" r="2.2" fill="rgb(230,230,230)" stroke="rgb(162,162,162)" stroke-width="0.6" opacity="0.8"/>
<circle cx="427.7" cy="154.7" r="2.1" fill="rgb(227,227,227)" stroke="rgb(170,170,170)" stroke-width="0.6" opacity="0.8"/>
<circle cx="314.1" cy="103.3" r="1.9" fill="rgb(218,218,218)" stroke="rgb(152,152,152)" stroke-width="0.6" opacity="0.8"/>
<circle cx="426.9" cy="179.7" r="1.5" fill="rgb(229,229,229)" stroke="rgb(168,168,168)" stroke-width="0.6" opacity="0.8"/>
<circle cx="356.9" cy="181.7" r="2.2" fill="rgb(217,217,217)" stroke="rgb(158,158,158)" stroke-width="0.6" opacity="0.8"/>
<circle cx="432.5" cy="65.9" r="1.8" fill="rgb(214,214,214)" stroke="rgb(150,150,150)" stroke-width="0.6" opacity="0.8"/>
<path d="M367.4 178.8q-0.2 -1.7 1.2 2.3" fill="none" stroke="#8a8a8a" stroke-width="0.7" opacity="0.7"/>
<path d="M406.7 157.7q-0.2 1.5 -2.8 -1.8" fill="none" stroke="#8a8a8a" stroke-width="0.7" opacity="0.7"/>
<path d="M353.7 176.2q1.2 1 1.9 1.3" fill="none" stroke="#8a8a8a" stroke-width="0.7" opacity="0.7"/>
<path d="M305.1 160.7q-0.9 0.8 1.9 2.6" fill="none" stroke="#8a8a8a" stroke-width="0.7" opacity="0.7"/>
<path d="M324.8 80.5q2.8 -1.7 1.9 -2.5" fill="none" stroke="#8a8a8a" stroke-width="0.7" opacity="0.7"/>
<path d="M381.8 74.5q-0.8 -1 0.7 -3" fill="none" stroke="#8a8a8a" stroke-width="0.7" opacity="0.7"/>
<path d="M404.1 159.2q0.5 1.5 -0.4 -1.1" fill="none" stroke="#8a8a8a" stroke-width="0.7" opacity="0.7"/>
<path d="M385.8 178.3q0.6 2.1 -0 2.3" fill="none" stroke="#8a8a8a" stroke-width="0.7" opacity="0.7"/>
<path d="M356.6 176.3q0.9 2.5 -2.7 -0.8" fill="none" stroke="#8a8a8a" stroke-width="0.7" opacity="0.7"/>
<path d="M357 183.3q2.4 0.2 0.1 0.7" fill="none" stroke="#8a8a8a" stroke-width="0.7" opacity="0.7"/>
<path d="M402 68.3q2.6 2.3 -0.2 -1" fill="none" stroke="#8a8a8a" stroke-width="0.7" opacity="0.7"/>
<path d="M344.3 76.8q1.4 2.3 0.9 -1.3" fill="none" stroke="#8a8a8a" stroke-width="0.7" opacity="0.7"/>
<path d="M360.4 84.6q2.6 -1.5 -0.9 0.9" fill="none" stroke="#8a8a8a" stroke-width="0.7" opacity="0.7"/>
<path d="M319.9 112.2q1.9 -1.3 -0.5 -1.4" fill="none" stroke="#8a8a8a" stroke-width="0.7" opacity="0.7"/>
<path d="M351.3 102.9q-0.1 2 1.9 -2" fill="none" stroke="#8a8a8a" stroke-width="0.7" opacity="0.7"/>
<path d="M333.3 104q1.1 1.4 1.4 -1.7" fill="none" stroke="#8a8a8a" stroke-width="0.7" opacity="0.7"/>
<path d="M331.4 183.7q0.5 1.6 -1.8 0.7" fill="none" stroke="#8a8a8a" stroke-width="0.7" opacity="0.7"/>
</g>
<g filter="url(#b1)">
<ellipse cx="366.2" cy="68.6" rx="7.9" ry="7.3" fill="#959595" stroke="#7a7a7a" stroke-width="1"/>
<ellipse cx="396.5" cy="80.4" rx="7.6" ry="6.6" fill="#a0a0a0" stroke="#828282" stroke-width="1"/>
<path d="M361 66l10 5M362 71l8-6M392 78l9 4M393 83l7-5" stroke="#808080" stroke-width="0.9" fill="none"/>
</g>
<g filter="url(#b0)">
<circle cx="388.5" cy="110.4" r="2.5" fill="#fff" stroke="#555" stroke-width="0.7"/>
<circle cx="334.5" cy="62" r="1.8" fill="#e2e2e2" stroke="#999" stroke-width="0.7"/>
<circle cx="326.5" cy="78" r="1.7" fill="#e8e8e8" stroke="#aaa" stroke-width="0.7"/>
<circle cx="309" cy="88" r="1.6" fill="#dedede" stroke="#999" stroke-width="0.7"/>
<circle cx="378" cy="138" r="3" fill="#f0f0f0" stroke="#aaa" stroke-width="0.7"/>
<circle cx="368.5" cy="139" r="2.2" fill="#eaeaea" stroke="#aaa" stroke-width="0.7"/>
<circle cx="388.5" cy="138" r="2.9" fill="#f4f4f4" stroke="#b0b0b0" stroke-width="0.7"/>
<circle cx="393.7" cy="148.5" r="1.9" fill="#f2f2f2" stroke="#777" stroke-width="0.7"/>
<circle cx="396.8" cy="148" r="1.6" fill="#f2f2f2" stroke="#777" stroke-width="0.7"/>
<circle cx="301.5" cy="139" r="1.5" fill="#e2e2e2" stroke="#888" stroke-width="0.7"/>
<circle cx="345.5" cy="93" r="1.5" fill="#e0e0e0" stroke="#999" stroke-width="0.7"/>
<circle cx="432" cy="65" r="2" fill="#f6f6f6" stroke="#ccc" stroke-width="0.7"/>
<circle cx="372" cy="150" r="1.5" fill="#e8e8e8" stroke="#aaa" stroke-width="0.7"/>
<circle cx="383" cy="152" r="1.4" fill="#e8e8e8" stroke="#aaa" stroke-width="0.7"/>
<path d="M372 146l1.5 5M375.5 145l.5 6M379 147l-1 4.5M370 156l3 2M381 157l-2.5 2" stroke="#8a8a8a" stroke-width="0.7" fill="none"/>
</g>
<g filter="url(#b0)">
<circle cx="357.3" cy="115.4" r="2" fill="#a8a8a8" stroke="#4a4a4a" stroke-width="0.9"/>
<circle cx="362.7" cy="115.4" r="2" fill="#a8a8a8" stroke="#4a4a4a" stroke-width="0.9"/>
<circle cx="369.3" cy="115.6" r="1.8" fill="#c4c4c4" stroke="#8c8c8c" stroke-width="0.8"/>
<circle cx="338.8" cy="123.1" r="2" fill="#909090" stroke="#2e2e2e" stroke-width="1"/><circle cx="338.8" cy="123.1" r="0.9" fill="#1c1c1c"/>
<circle cx="352.7" cy="118.8" r="1.8" fill="#c4c4c4" stroke="#8c8c8c" stroke-width="0.8"/>
<circle cx="361.9" cy="124.7" r="2" fill="#a8a8a8" stroke="#4a4a4a" stroke-width="0.9"/>
<circle cx="368.6" cy="123.9" r="2" fill="#909090" stroke="#2e2e2e" stroke-width="1"/><circle cx="368.6" cy="123.9" r="0.9" fill="#1c1c1c"/>
<circle cx="342.7" cy="127.7" r="2" fill="#a8a8a8" stroke="#4a4a4a" stroke-width="0.9"/>
<circle cx="346.5" cy="130.8" r="2" fill="#909090" stroke="#2e2e2e" stroke-width="1"/><circle cx="346.5" cy="130.8" r="0.9" fill="#1c1c1c"/>
<circle cx="355" cy="130" r="2" fill="#909090" stroke="#2e2e2e" stroke-width="1"/><circle cx="355" cy="130" r="0.9" fill="#1c1c1c"/>
<circle cx="332.7" cy="133.1" r="2" fill="#a8a8a8" stroke="#4a4a4a" stroke-width="0.9"/>
<circle cx="339.6" cy="132.4" r="2" fill="#909090" stroke="#2e2e2e" stroke-width="1"/><circle cx="339.6" cy="132.4" r="0.9" fill="#1c1c1c"/>
<circle cx="345" cy="137" r="2" fill="#909090" stroke="#2e2e2e" stroke-width="1"/><circle cx="345" cy="137" r="0.9" fill="#1c1c1c"/>
<circle cx="335.8" cy="139.3" r="2.8" fill="#b4b4b4" stroke="#444" stroke-width="0.9"/><circle cx="335.8" cy="139.3" r="1.2" fill="#999" stroke="#444" stroke-width="0.7"/>
<circle cx="352.7" cy="137.8" r="1.8" fill="#c4c4c4" stroke="#8c8c8c" stroke-width="0.8"/>
<circle cx="328" cy="147.5" r="2" fill="#909090" stroke="#2e2e2e" stroke-width="1"/><circle cx="328" cy="147.5" r="0.9" fill="#1c1c1c"/>
<circle cx="332.7" cy="150.2" r="2" fill="#909090" stroke="#2e2e2e" stroke-width="1"/><circle cx="332.7" cy="150.2" r="0.9" fill="#1c1c1c"/>
<circle cx="338.8" cy="151.4" r="2" fill="#909090" stroke="#2e2e2e" stroke-width="1"/><circle cx="338.8" cy="151.4" r="0.9" fill="#1c1c1c"/>
<circle cx="351.2" cy="153.7" r="2" fill="#a8a8a8" stroke="#4a4a4a" stroke-width="0.9"/>
<circle cx="327.3" cy="154.3" r="2" fill="#a8a8a8" stroke="#4a4a4a" stroke-width="0.9"/>
<circle cx="323.4" cy="158.1" r="2.8" fill="#b4b4b4" stroke="#444" stroke-width="0.9"/><circle cx="323.4" cy="158.1" r="1.2" fill="#999" stroke="#444" stroke-width="0.7"/>
<circle cx="328.8" cy="159.7" r="2" fill="#a8a8a8" stroke="#4a4a4a" stroke-width="0.9"/>
<circle cx="319.6" cy="163.5" r="2" fill="#a8a8a8" stroke="#4a4a4a" stroke-width="0.9"/>
<circle cx="324.2" cy="163.5" r="1.8" fill="#c4c4c4" stroke="#8c8c8c" stroke-width="0.8"/>
<circle cx="333.4" cy="166.6" r="2" fill="#909090" stroke="#2e2e2e" stroke-width="1"/><circle cx="333.4" cy="166.6" r="0.9" fill="#1c1c1c"/>
<circle cx="310.3" cy="171.2" r="2" fill="#a8a8a8" stroke="#4a4a4a" stroke-width="0.9"/>
<circle cx="315.7" cy="168.9" r="1.8" fill="#c4c4c4" stroke="#8c8c8c" stroke-width="0.8"/>
<circle cx="332.7" cy="172.8" r="2" fill="#a8a8a8" stroke="#4a4a4a" stroke-width="0.9"/>
<circle cx="312.6" cy="177.4" r="2" fill="#909090" stroke="#2e2e2e" stroke-width="1"/><circle cx="312.6" cy="177.4" r="0.9" fill="#1c1c1c"/>
<circle cx="322.7" cy="175.8" r="1.8" fill="#c4c4c4" stroke="#8c8c8c" stroke-width="0.8"/>
<circle cx="326.5" cy="177.4" r="2" fill="#909090" stroke="#2e2e2e" stroke-width="1"/><circle cx="326.5" cy="177.4" r="0.9" fill="#1c1c1c"/>
<circle cx="348.8" cy="124.7" r="1.8" fill="#c4c4c4" stroke="#8c8c8c" stroke-width="0.8"/>
<circle cx="350.4" cy="146.2" r="1.8" fill="#c4c4c4" stroke="#8c8c8c" stroke-width="0.8"/>
<circle cx="344" cy="145" r="1.8" fill="#c4c4c4" stroke="#8c8c8c" stroke-width="0.8"/>
<circle cx="375" cy="116.5" r="1.8" fill="#c4c4c4" stroke="#8c8c8c" stroke-width="0.8"/>
<circle cx="380.3" cy="117" r="2" fill="#909090" stroke="#2e2e2e" stroke-width="1"/><circle cx="380.3" cy="117" r="0.9" fill="#1c1c1c"/>
<circle cx="318" cy="174.5" r="1.8" fill="#c4c4c4" stroke="#8c8c8c" stroke-width="0.8"/>
<circle cx="409.3" cy="91.6" r="2" fill="#909090" stroke="#2e2e2e" stroke-width="1"/><circle cx="409.3" cy="91.6" r="0.9" fill="#1c1c1c"/>
<circle cx="409.9" cy="97.3" r="2" fill="#a8a8a8" stroke="#4a4a4a" stroke-width="0.9"/>
<circle cx="412.7" cy="102" r="2" fill="#909090" stroke="#2e2e2e" stroke-width="1"/><circle cx="412.7" cy="102" r="0.9" fill="#1c1c1c"/>
<circle cx="416.2" cy="99.7" r="1.8" fill="#c4c4c4" stroke="#8c8c8c" stroke-width="0.8"/>
<circle cx="405.2" cy="104.3" r="1.8" fill="#c4c4c4" stroke="#8c8c8c" stroke-width="0.8"/>
<circle cx="409.3" cy="108.3" r="2" fill="#a8a8a8" stroke="#4a4a4a" stroke-width="0.9"/>
<circle cx="407" cy="114.1" r="2" fill="#a8a8a8" stroke="#4a4a4a" stroke-width="0.9"/>
<circle cx="423.2" cy="97.3" r="1.8" fill="#c4c4c4" stroke="#8c8c8c" stroke-width="0.8"/>
<circle cx="430.1" cy="93.9" r="2" fill="#909090" stroke="#2e2e2e" stroke-width="1"/><circle cx="430.1" cy="93.9" r="0.9" fill="#1c1c1c"/>
<circle cx="431.2" cy="100.2" r="2" fill="#a8a8a8" stroke="#4a4a4a" stroke-width="0.9"/>
<circle cx="426" cy="104.3" r="1.8" fill="#c4c4c4" stroke="#8c8c8c" stroke-width="0.8"/>
<circle cx="428.9" cy="108.3" r="2" fill="#a8a8a8" stroke="#4a4a4a" stroke-width="0.9"/>
<circle cx="427.2" cy="114.1" r="2" fill="#a8a8a8" stroke="#4a4a4a" stroke-width="0.9"/>
<circle cx="423.7" cy="122.2" r="2" fill="#909090" stroke="#2e2e2e" stroke-width="1"/><circle cx="423.7" cy="122.2" r="0.9" fill="#1c1c1c"/>
<circle cx="423.2" cy="108.3" r="1.8" fill="#c4c4c4" stroke="#8c8c8c" stroke-width="0.8"/>
<circle cx="418" cy="108.3" r="1.8" fill="#c4c4c4" stroke="#8c8c8c" stroke-width="0.8"/>
<circle cx="406.4" cy="124.8" r="2" fill="#909090" stroke="#2e2e2e" stroke-width="1"/><circle cx="406.4" cy="124.8" r="0.9" fill="#1c1c1c"/>
<circle cx="418.5" cy="127.1" r="2" fill="#909090" stroke="#2e2e2e" stroke-width="1"/><circle cx="418.5" cy="127.1" r="0.9" fill="#1c1c1c"/>
<circle cx="413.9" cy="131.8" r="2" fill="#909090" stroke="#2e2e2e" stroke-width="1"/><circle cx="413.9" cy="131.8" r="0.9" fill="#1c1c1c"/>
<circle cx="404.7" cy="132.9" r="2" fill="#a8a8a8" stroke="#4a4a4a" stroke-width="0.9"/>
<circle cx="411" cy="138.1" r="2" fill="#909090" stroke="#2e2e2e" stroke-width="1"/><circle cx="411" cy="138.1" r="0.9" fill="#1c1c1c"/>
<circle cx="407.5" cy="142.7" r="2" fill="#909090" stroke="#2e2e2e" stroke-width="1"/><circle cx="407.5" cy="142.7" r="0.9" fill="#1c1c1c"/>
<circle cx="407" cy="116.8" r="1.8" fill="#c4c4c4" stroke="#8c8c8c" stroke-width="0.8"/>
<circle cx="426.6" cy="116.2" r="1.8" fill="#c4c4c4" stroke="#8c8c8c" stroke-width="0.8"/>
<circle cx="436" cy="106" r="1.8" fill="#c4c4c4" stroke="#8c8c8c" stroke-width="0.8"/>
<circle cx="417" cy="117" r="1.8" fill="#c4c4c4" stroke="#8c8c8c" stroke-width="0.8"/>
</g>
<rect x="298.2" y="58.4" width="144.6" height="132.8" filter="url(#nz)" style="mix-blend-mode:overlay" opacity="0.5"/>
<rect x="298.2" y="58.4" width="144.6" height="132.8" filter="url(#nzf)" style="mix-blend-mode:overlay" opacity="0.25"/>
</g>
<rect x="298.2" y="58.4" width="144.6" height="132.8" fill="none" stroke="#222" stroke-width="0.9"/>
<ellipse cx="308.2" cy="70.2" rx="8.9" ry="10.3" fill="#fff" stroke="#111" stroke-width="0.9"/>
<text x="307.9" y="76.6" font-size="17.8" font-weight="bold" text-anchor="middle" stroke="#000" stroke-width="0.3" >C</text>
</svg>
</body></html>
